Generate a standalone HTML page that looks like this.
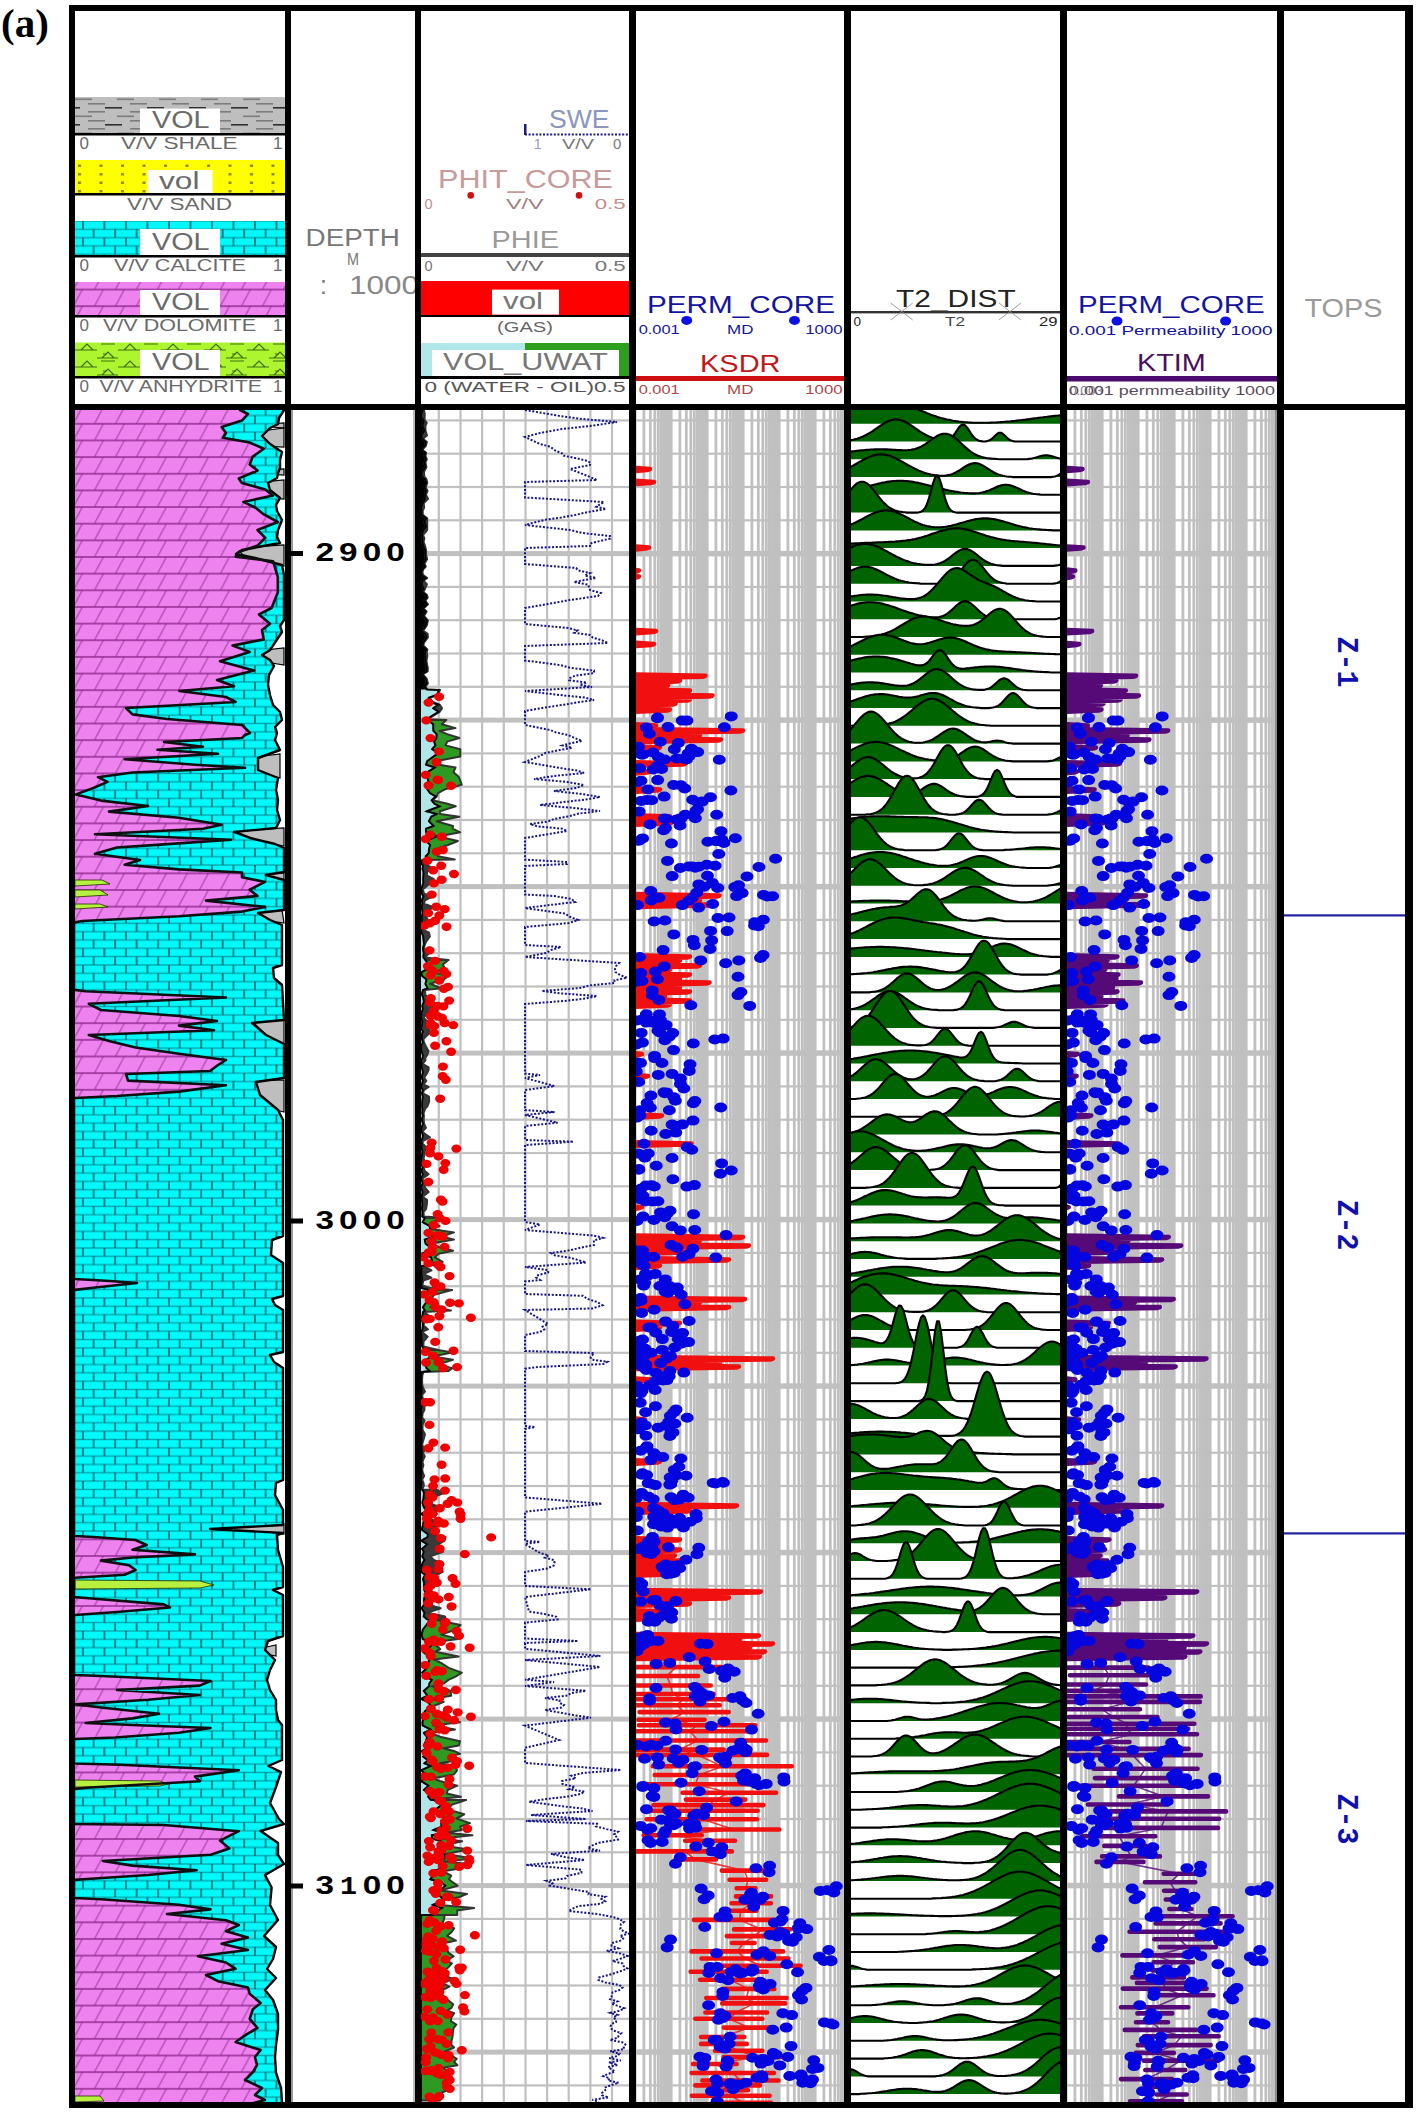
<!DOCTYPE html><html><head><meta charset="utf-8"><style>html,body{margin:0;padding:0;background:#fff;overflow:hidden}svg{display:block}</style></head><body>
<svg width="1419" height="2112" viewBox="0 0 1419 2112" shape-rendering="auto">
<defs>
<pattern id="dolo" patternUnits="userSpaceOnUse" x="73.4" y="423.8" width="21" height="16.65"><rect width="21" height="16.65" fill="#EE82EE"/><rect y="-0.9" width="21" height="1.8" fill="#A23AA2"/><rect y="15.75" width="21" height="1.8" fill="#A23AA2"/><line x1="0" y1="16.65" x2="9" y2="0" stroke="#7A207A" stroke-width="0.8"/></pattern>
<pattern id="dolo2" patternUnits="userSpaceOnUse" x="73.4" y="272.9" width="21" height="16.65"><rect width="21" height="16.65" fill="#EE82EE"/><rect y="-0.9" width="21" height="1.8" fill="#A23AA2"/><rect y="15.75" width="21" height="1.8" fill="#A23AA2"/><line x1="0" y1="16.65" x2="9" y2="0" stroke="#7A207A" stroke-width="0.8"/></pattern>
<pattern id="calc" patternUnits="userSpaceOnUse" x="61.4" y="415.5" width="21.5" height="16.65"><rect width="21.5" height="16.65" fill="#00FAFA"/><rect y="-0.7" width="21.5" height="1.4" fill="#00A8B0"/><rect y="7.6" width="21.5" height="1.4" fill="#00A8B0"/><rect y="15.95" width="21.5" height="1.4" fill="#00A8B0"/><rect x="-0.7" y="0" width="1.5" height="8.3" fill="#005A60"/><rect x="20.8" y="0" width="1.5" height="8.3" fill="#005A60"/><rect x="10" y="8.3" width="1.5" height="8.3" fill="#005A60"/></pattern>
<pattern id="calc2" patternUnits="userSpaceOnUse" x="61.4" y="221" width="21.5" height="16.65"><rect width="21.5" height="16.65" fill="#00FAFA"/><rect y="-0.7" width="21.5" height="1.4" fill="#00A8B0"/><rect y="7.6" width="21.5" height="1.4" fill="#00A8B0"/><rect y="15.95" width="21.5" height="1.4" fill="#00A8B0"/><rect x="-0.7" y="0" width="1.5" height="8.3" fill="#005A60"/><rect x="20.8" y="0" width="1.5" height="8.3" fill="#005A60"/><rect x="10" y="8.3" width="1.5" height="8.3" fill="#005A60"/></pattern>
<pattern id="shale" patternUnits="userSpaceOnUse" x="75" y="97" width="42" height="17"><rect width="42" height="17" fill="#BEBEBE"/><rect x="0" y="1" width="17" height="1.6" fill="#808080"/><rect x="21" y="9.5" width="17" height="1.6" fill="#303030"/></pattern>
<pattern id="shale2" patternUnits="userSpaceOnUse" x="75" y="97" width="42" height="17"><rect width="42" height="17" fill="#BEBEBE"/><rect x="0" y="1.5" width="17" height="1.6" fill="#7C7C7C"/><rect x="13" y="6" width="17" height="1.6" fill="#7C7C7C"/><rect x="-12" y="10" width="17" height="1.6" fill="#303030"/><rect x="30" y="10" width="17" height="1.6" fill="#303030"/><rect x="13" y="14" width="17" height="1.6" fill="#7C7C7C"/></pattern>
<pattern id="sand" patternUnits="userSpaceOnUse" x="75" y="160" width="21.5" height="17"><rect width="21.5" height="17" fill="#FFFF00"/><rect x="3" y="4.5" width="3" height="2.5" fill="#8A8A10"/><rect x="3" y="13" width="3" height="2.5" fill="#8A8A10"/></pattern>
<pattern id="anhy" patternUnits="userSpaceOnUse" x="75" y="342" width="43" height="17"><rect width="43" height="17" fill="#ADF52F"/><path d="M6,8 L12,2 L18,8 M0,8 L22,8 M26,2 L40,2 M28,12 L32,12" stroke="#3E6E10" stroke-width="1.2" fill="none"/><path d="M27,16 L33,10 L39,16 M22,16 L43,16" stroke="#3E6E10" stroke-width="1.2" fill="none"/></pattern>
<clipPath id="cl1"><rect x="75" y="410" width="210" height="1692"/></clipPath>
<clipPath id="cl3"><rect x="421" y="410" width="208" height="1692"/></clipPath>
<clipPath id="cl4"><rect x="636" y="410" width="208" height="1692"/></clipPath>
<clipPath id="cl5"><rect x="851" y="410" width="209" height="1692"/></clipPath>
<clipPath id="cl6"><rect x="1067" y="410" width="210" height="1692"/></clipPath>
</defs>
<rect width="1419" height="2112" fill="#fff"/>
<text x="1" y="37" font-family="'Liberation Serif', serif" font-size="41" fill="#000" font-weight="bold">(a)</text>
<g clip-path="url(#cl1)">
<polygon points="270,424 284,423 284,428 272,427" fill="#BEBEBE" stroke="#000" stroke-width="1.2"/>
<polygon points="255,432 284,428 284,447 262,446" fill="#BEBEBE" stroke="#000" stroke-width="1.2"/>
<polygon points="262,470 284,469 284,475 266,474" fill="#BEBEBE" stroke="#000" stroke-width="1.2"/>
<polygon points="252,483 284,480 284,499 258,497" fill="#BEBEBE" stroke="#000" stroke-width="1.2"/>
<polygon points="236,548 284,545 284,566 250,562" fill="#BEBEBE" stroke="#000" stroke-width="1.2"/>
<polygon points="262,592 284,590 284,598 268,597" fill="#BEBEBE" stroke="#000" stroke-width="1.2"/>
<polygon points="256,651 284,648 284,665 266,662" fill="#BEBEBE" stroke="#000" stroke-width="1.2"/>
<polygon points="256,757 280,754 280,778 258,772" fill="#BEBEBE" stroke="#000" stroke-width="1.2"/>
<polygon points="234,831 284,828 284,846 262,842" fill="#BEBEBE" stroke="#000" stroke-width="1.2"/>
<polygon points="266,874 284,873 284,880 270,879" fill="#BEBEBE" stroke="#000" stroke-width="1.2"/>
<polygon points="258,912 282,910 284,923 270,921" fill="#BEBEBE" stroke="#000" stroke-width="1.2"/>
<polygon points="252,1021 284,1018 284,1045 268,1037" fill="#BEBEBE" stroke="#000" stroke-width="1.2"/>
<polygon points="254,1081 284,1080 284,1112 276,1110 260,1096" fill="#BEBEBE" stroke="#000" stroke-width="1.2"/>
<polygon points="215,1528 284,1524 284,1534 230,1531" fill="#BEBEBE" stroke="#000" stroke-width="1.2"/>
<polygon points="262,1648 276,1645 276,1656 265,1654" fill="#BEBEBE" stroke="#000" stroke-width="1.2"/>
<polygon points="70,408 284,408 284,410 279,418 278,424 270,428 262,436 270,444 282,452 280,460 280,468 278,473 277,478 268,483 270,490 280,498 276,505 277,511 282,520 278,530 277,537 280,543 242,550 236,554 255,558 282,565 284,575 284,620 280,626 282,632 270,650 262,655 270,660 274,666 269,675 268,685 270,695 273,705 280,712 282,720 275,727 277,733 275,740 280,750 258,758 258,770 278,778 276,790 278,800 277,810 280,820 276,828 234,832 250,838 275,844 284,848 284,872 266,875 284,880 284,910 258,913 270,920 282,925 282,965 273,968 274,978 282,985 284,1020 252,1023 266,1035 284,1044 284,1078 256,1082 260,1095 278,1110 283,1120 283,1236 272,1240 271,1255 283,1263 283,1296 272,1299 275,1305 283,1310 283,1352 270,1355 274,1362 283,1368 283,1480 276,1483 275,1495 283,1510 283,1525 210,1529 283,1533 277,1535 278,1550 283,1567 283,1587 273,1590 283,1595 283,1636 268,1641 265,1650 275,1660 270,1670 267,1680 270,1690 276,1700 276,1710 278,1720 282,1725 282,1760 268.4,1766 281,1772 276,1787 270,1803 279,1819 284,1824 260.6,1831 278,1843 278,1855 284,1864 265,1875 271.6,1887.5 270,1905 278,1920 264,1936 276,1947 273,1959 267,1969 276,1978 265,1990 273,2000 278,2014 278,2030 276,2045 275,2057 276,2073 281,2088 282,2102 282,2104 70,2104" fill="url(#calc)"/>
<polygon points="70,408 240,408 240,410 248,414 242,420.6 221.6,426.9 226,433 223,437.8 249.7,442.5 263.8,448.8 252.8,456.6 249.7,464.4 257.5,470.6 238.8,478.4 241.9,483 265.3,489.4 273,495.6 243.4,501.9 256,508 263.8,514.4 277.8,522 257.5,530 265.3,537.8 257.5,545.6 238.8,551.9 235.6,556.6 273,561.2 277.8,576.9 277.8,592.5 271.6,608 259,614.4 270,623.8 262,630 263.8,639.4 232.5,645.6 249.7,651.9 220,661.2 254,670.6 217,680 234,686.2 179.4,691 226,697 235.6,702 126,708 132.5,714.4 167,719 242,725 250,733 245,735 242,738 164,742 203,746.7 157.5,749.8 218,753.8 124.7,759.2 195,764.7 245,767.8 132.5,772.5 98,777.2 107.5,781.9 93.4,788 76,794.4 101,800.6 148,806 109,811.6 179,817.8 221.6,824.8 203,828.8 95,834.2 231,839.7 163.8,844.4 117,847.5 95,853.8 140,860 124.7,864.7 179,869.4 242,872.5 242,877.2 265,881.9 249.7,889.7 257.5,896 206,900.6 265,906.9 242,911.6 179,916.2 82.5,921 74,922.5 74,989.7 85.6,991.2 226,997.5 88.8,1003.8 101,1010 179,1016 217,1021 179,1025.6 214,1030.3 88.8,1035 109,1041 135.6,1047.5 179,1053.8 226,1060 218,1065 210,1071 126,1074 128,1080.6 226,1085.3 179,1091.6 117,1096 74,1098 74,1279 110,1281 137,1283 100,1287 74,1290 74,1536 93.4,1537 135.6,1540 146.6,1545 132.5,1549.7 195,1554.4 132.5,1557.5 101,1560.6 129,1565.3 135.6,1570 124.7,1574.7 74,1577.8 74,1597 85.6,1598 163.8,1604.4 170,1607.5 117,1612 74,1615 74,1675 101,1676 210.6,1681 199.7,1685.6 117,1690 199.7,1695 148,1699.7 76,1704.4 101,1707.5 159,1713.8 132.5,1718.4 85.6,1723 132.5,1725 210.6,1728 179,1732.8 115,1737.5 74,1739 74,1763.5 120,1764.8 238.8,1770.3 195,1776.6 200,1781.2 90,1787.5 74,1789 74,1824 163.8,1825 238.8,1831.2 220,1840.6 229.4,1848.4 210.6,1854.7 102.8,1861 132.5,1865.6 196.6,1870.3 148,1875 87,1879 74,1880 74,1898 101,1899.2 179,1904.7 210.6,1909.4 167,1914 226,1920.3 238.8,1925 226,1931.2 248,1937.5 221.6,1943.8 248,1950 198,1956.2 226,1962.5 235.6,1968.8 206,1975 218,1981.2 248,1987.5 249.7,1993.8 260.6,2003 252.8,2009.4 249.7,2018.8 257.5,2028 246.6,2034.4 235.6,2042 260.6,2050 255,2057 257,2065 253,2072 245,2080 262,2088 255,2095 265,2100 250,2104 250,2104 70,2104" fill="url(#dolo)"/>
<polygon points="75,880 102,880 110,884 75,886" fill="#B8F040" stroke="#203000" stroke-width="0.8"/>
<polygon points="75,890 100,890 108,895 75,897" fill="#B8F040" stroke="#203000" stroke-width="0.8"/>
<polygon points="75,904 100,904 108,907 75,909" fill="#B8F040" stroke="#203000" stroke-width="0.8"/>
<polygon points="75,1580 200,1581 214,1585 200,1588 75,1589" fill="#B8F040" stroke="#203000" stroke-width="0.8"/>
<polygon points="75,1780 160,1781 168,1784 160,1786 75,1787" fill="#B8F040" stroke="#203000" stroke-width="0.8"/>
<polygon points="75,2096 100,2096 104,2101 75,2102" fill="#B8F040" stroke="#203000" stroke-width="0.8"/>
<polyline points="284,408 284,410 279,418 278,424 270,428 262,436 270,444 282,452 280,460 280,468 278,473 277,478 268,483 270,490 280,498 276,505 277,511 282,520 278,530 277,537 280,543 242,550 236,554 255,558 282,565 284,575 284,620 280,626 282,632 270,650 262,655 270,660 274,666 269,675 268,685 270,695 273,705 280,712 282,720 275,727 277,733 275,740 280,750 258,758 258,770 278,778 276,790 278,800 277,810 280,820 276,828 234,832 250,838 275,844 284,848 284,872 266,875 284,880 284,910 258,913 270,920 282,925 282,965 273,968 274,978 282,985 284,1020 252,1023 266,1035 284,1044 284,1078 256,1082 260,1095 278,1110 283,1120 283,1236 272,1240 271,1255 283,1263 283,1296 272,1299 275,1305 283,1310 283,1352 270,1355 274,1362 283,1368 283,1480 276,1483 275,1495 283,1510 283,1525 210,1529 283,1533 277,1535 278,1550 283,1567 283,1587 273,1590 283,1595 283,1636 268,1641 265,1650 275,1660 270,1670 267,1680 270,1690 276,1700 276,1710 278,1720 282,1725 282,1760 268.4,1766 281,1772 276,1787 270,1803 279,1819 284,1824 260.6,1831 278,1843 278,1855 284,1864 265,1875 271.6,1887.5 270,1905 278,1920 264,1936 276,1947 273,1959 267,1969 276,1978 265,1990 273,2000 278,2014 278,2030 276,2045 275,2057 276,2073 281,2088 282,2102 282,2104" fill="none" stroke="#000" stroke-width="2.4" stroke-linejoin="round"/>
<polyline points="240,408 240,410 248,414 242,420.6 221.6,426.9 226,433 223,437.8 249.7,442.5 263.8,448.8 252.8,456.6 249.7,464.4 257.5,470.6 238.8,478.4 241.9,483 265.3,489.4 273,495.6 243.4,501.9 256,508 263.8,514.4 277.8,522 257.5,530 265.3,537.8 257.5,545.6 238.8,551.9 235.6,556.6 273,561.2 277.8,576.9 277.8,592.5 271.6,608 259,614.4 270,623.8 262,630 263.8,639.4 232.5,645.6 249.7,651.9 220,661.2 254,670.6 217,680 234,686.2 179.4,691 226,697 235.6,702 126,708 132.5,714.4 167,719 242,725 250,733 245,735 242,738 164,742 203,746.7 157.5,749.8 218,753.8 124.7,759.2 195,764.7 245,767.8 132.5,772.5 98,777.2 107.5,781.9 93.4,788 76,794.4 101,800.6 148,806 109,811.6 179,817.8 221.6,824.8 203,828.8 95,834.2 231,839.7 163.8,844.4 117,847.5 95,853.8 140,860 124.7,864.7 179,869.4 242,872.5 242,877.2 265,881.9 249.7,889.7 257.5,896 206,900.6 265,906.9 242,911.6 179,916.2 82.5,921 74,922.5 74,989.7 85.6,991.2 226,997.5 88.8,1003.8 101,1010 179,1016 217,1021 179,1025.6 214,1030.3 88.8,1035 109,1041 135.6,1047.5 179,1053.8 226,1060 218,1065 210,1071 126,1074 128,1080.6 226,1085.3 179,1091.6 117,1096 74,1098 74,1279 110,1281 137,1283 100,1287 74,1290 74,1536 93.4,1537 135.6,1540 146.6,1545 132.5,1549.7 195,1554.4 132.5,1557.5 101,1560.6 129,1565.3 135.6,1570 124.7,1574.7 74,1577.8 74,1597 85.6,1598 163.8,1604.4 170,1607.5 117,1612 74,1615 74,1675 101,1676 210.6,1681 199.7,1685.6 117,1690 199.7,1695 148,1699.7 76,1704.4 101,1707.5 159,1713.8 132.5,1718.4 85.6,1723 132.5,1725 210.6,1728 179,1732.8 115,1737.5 74,1739 74,1763.5 120,1764.8 238.8,1770.3 195,1776.6 200,1781.2 90,1787.5 74,1789 74,1824 163.8,1825 238.8,1831.2 220,1840.6 229.4,1848.4 210.6,1854.7 102.8,1861 132.5,1865.6 196.6,1870.3 148,1875 87,1879 74,1880 74,1898 101,1899.2 179,1904.7 210.6,1909.4 167,1914 226,1920.3 238.8,1925 226,1931.2 248,1937.5 221.6,1943.8 248,1950 198,1956.2 226,1962.5 235.6,1968.8 206,1975 218,1981.2 248,1987.5 249.7,1993.8 260.6,2003 252.8,2009.4 249.7,2018.8 257.5,2028 246.6,2034.4 235.6,2042 260.6,2050 255,2057 257,2065 253,2072 245,2080 262,2088 255,2095 265,2100 250,2104 250,2104" fill="none" stroke="#101010" stroke-width="2.6" stroke-linejoin="round"/>
</g>
<rect x="291" y="410" width="2" height="1692" fill="#9a9a9a"/>
<rect x="413" y="410" width="2" height="1692" fill="#bdbdbd"/>
<rect x="291" y="551" width="12" height="5" fill="#000"/>
<text x="315.5" y="561" font-family="'Liberation Sans', sans-serif" font-size="25" fill="#000" font-weight="bold" textLength="18.5" lengthAdjust="spacingAndGlyphs">2</text>
<text x="339.1" y="561" font-family="'Liberation Sans', sans-serif" font-size="25" fill="#000" font-weight="bold" textLength="18.5" lengthAdjust="spacingAndGlyphs">9</text>
<text x="362.7" y="561" font-family="'Liberation Sans', sans-serif" font-size="25" fill="#000" font-weight="bold" textLength="18.5" lengthAdjust="spacingAndGlyphs">0</text>
<text x="386.3" y="561" font-family="'Liberation Sans', sans-serif" font-size="25" fill="#000" font-weight="bold" textLength="18.5" lengthAdjust="spacingAndGlyphs">0</text>
<rect x="291" y="1218.5" width="12" height="5" fill="#000"/>
<text x="315.5" y="1228.5" font-family="'Liberation Sans', sans-serif" font-size="25" fill="#000" font-weight="bold" textLength="18.5" lengthAdjust="spacingAndGlyphs">3</text>
<text x="339.1" y="1228.5" font-family="'Liberation Sans', sans-serif" font-size="25" fill="#000" font-weight="bold" textLength="18.5" lengthAdjust="spacingAndGlyphs">0</text>
<text x="362.7" y="1228.5" font-family="'Liberation Sans', sans-serif" font-size="25" fill="#000" font-weight="bold" textLength="18.5" lengthAdjust="spacingAndGlyphs">0</text>
<text x="386.3" y="1228.5" font-family="'Liberation Sans', sans-serif" font-size="25" fill="#000" font-weight="bold" textLength="18.5" lengthAdjust="spacingAndGlyphs">0</text>
<rect x="291" y="1883.5" width="12" height="5" fill="#000"/>
<text x="315.5" y="1893.5" font-family="'Liberation Sans', sans-serif" font-size="25" fill="#000" font-weight="bold" textLength="18.5" lengthAdjust="spacingAndGlyphs">3</text>
<text x="340.1" y="1893.5" font-family="'Liberation Mono', monospace" font-size="25" fill="#000" font-weight="bold" textLength="17" lengthAdjust="spacingAndGlyphs">1</text>
<text x="362.7" y="1893.5" font-family="'Liberation Sans', sans-serif" font-size="25" fill="#000" font-weight="bold" textLength="18.5" lengthAdjust="spacingAndGlyphs">0</text>
<text x="386.3" y="1893.5" font-family="'Liberation Sans', sans-serif" font-size="25" fill="#000" font-weight="bold" textLength="18.5" lengthAdjust="spacingAndGlyphs">0</text>
<g clip-path="url(#cl3)">
<rect x="437.7" y="410" width="2.2" height="1692" fill="#C0C0C0"/>
<rect x="459.4" y="410" width="2.2" height="1692" fill="#C0C0C0"/>
<rect x="481" y="410" width="2.2" height="1692" fill="#C0C0C0"/>
<rect x="502.7" y="410" width="2.2" height="1692" fill="#C0C0C0"/>
<rect x="524.4" y="410" width="2.2" height="1692" fill="#C0C0C0"/>
<rect x="546" y="410" width="2.2" height="1692" fill="#C0C0C0"/>
<rect x="567.6" y="410" width="2.2" height="1692" fill="#C0C0C0"/>
<rect x="589.3" y="410" width="2.2" height="1692" fill="#C0C0C0"/>
<rect x="610.9" y="410" width="2.2" height="1692" fill="#C0C0C0"/>
<rect x="417" y="419.3" width="215" height="2.2" fill="#C0C0C0"/>
<rect x="417" y="452.6" width="215" height="2.2" fill="#C0C0C0"/>
<rect x="417" y="485.9" width="215" height="2.2" fill="#C0C0C0"/>
<rect x="417" y="519.2" width="215" height="2.2" fill="#C0C0C0"/>
<rect x="417" y="551.1" width="215" height="5" fill="#C0C0C0"/>
<rect x="417" y="585.8" width="215" height="2.2" fill="#C0C0C0"/>
<rect x="417" y="619.1" width="215" height="2.2" fill="#C0C0C0"/>
<rect x="417" y="652.4" width="215" height="2.2" fill="#C0C0C0"/>
<rect x="417" y="685.7" width="215" height="2.2" fill="#C0C0C0"/>
<rect x="417" y="717.6" width="215" height="5" fill="#C0C0C0"/>
<rect x="417" y="752.3" width="215" height="2.2" fill="#C0C0C0"/>
<rect x="417" y="785.6" width="215" height="2.2" fill="#C0C0C0"/>
<rect x="417" y="818.9" width="215" height="2.2" fill="#C0C0C0"/>
<rect x="417" y="852.2" width="215" height="2.2" fill="#C0C0C0"/>
<rect x="417" y="884.1" width="215" height="5" fill="#C0C0C0"/>
<rect x="417" y="918.8" width="215" height="2.2" fill="#C0C0C0"/>
<rect x="417" y="952.1" width="215" height="2.2" fill="#C0C0C0"/>
<rect x="417" y="985.4" width="215" height="2.2" fill="#C0C0C0"/>
<rect x="417" y="1018.7" width="215" height="2.2" fill="#C0C0C0"/>
<rect x="417" y="1050.6" width="215" height="5" fill="#C0C0C0"/>
<rect x="417" y="1085.3" width="215" height="2.2" fill="#C0C0C0"/>
<rect x="417" y="1118.6" width="215" height="2.2" fill="#C0C0C0"/>
<rect x="417" y="1151.9" width="215" height="2.2" fill="#C0C0C0"/>
<rect x="417" y="1185.2" width="215" height="2.2" fill="#C0C0C0"/>
<rect x="417" y="1217.1" width="215" height="5" fill="#C0C0C0"/>
<rect x="417" y="1251.8" width="215" height="2.2" fill="#C0C0C0"/>
<rect x="417" y="1285.1" width="215" height="2.2" fill="#C0C0C0"/>
<rect x="417" y="1318.4" width="215" height="2.2" fill="#C0C0C0"/>
<rect x="417" y="1351.7" width="215" height="2.2" fill="#C0C0C0"/>
<rect x="417" y="1383.6" width="215" height="5" fill="#C0C0C0"/>
<rect x="417" y="1418.3" width="215" height="2.2" fill="#C0C0C0"/>
<rect x="417" y="1451.6" width="215" height="2.2" fill="#C0C0C0"/>
<rect x="417" y="1484.9" width="215" height="2.2" fill="#C0C0C0"/>
<rect x="417" y="1518.2" width="215" height="2.2" fill="#C0C0C0"/>
<rect x="417" y="1550.1" width="215" height="5" fill="#C0C0C0"/>
<rect x="417" y="1584.8" width="215" height="2.2" fill="#C0C0C0"/>
<rect x="417" y="1618.1" width="215" height="2.2" fill="#C0C0C0"/>
<rect x="417" y="1651.4" width="215" height="2.2" fill="#C0C0C0"/>
<rect x="417" y="1684.7" width="215" height="2.2" fill="#C0C0C0"/>
<rect x="417" y="1716.6" width="215" height="5" fill="#C0C0C0"/>
<rect x="417" y="1751.3" width="215" height="2.2" fill="#C0C0C0"/>
<rect x="417" y="1784.6" width="215" height="2.2" fill="#C0C0C0"/>
<rect x="417" y="1817.9" width="215" height="2.2" fill="#C0C0C0"/>
<rect x="417" y="1851.2" width="215" height="2.2" fill="#C0C0C0"/>
<rect x="417" y="1883.1" width="215" height="5" fill="#C0C0C0"/>
<rect x="417" y="1917.8" width="215" height="2.2" fill="#C0C0C0"/>
<rect x="417" y="1951.1" width="215" height="2.2" fill="#C0C0C0"/>
<rect x="417" y="1984.4" width="215" height="2.2" fill="#C0C0C0"/>
<rect x="417" y="2017.7" width="215" height="2.2" fill="#C0C0C0"/>
<rect x="417" y="2049.6" width="215" height="5" fill="#C0C0C0"/>
<rect x="417" y="2084.3" width="215" height="2.2" fill="#C0C0C0"/>
<polygon points="419,408 423.4,410 421.9,414.1 421.8,417.5 424.1,420.1 424,422.9 422.8,425.7 425,430.5 421.8,435.5 422.4,438.7 426.4,442 425.3,445.9 421.9,449.8 425.6,452.8 425,456.1 426.3,459.3 424.9,462.5 425.9,467.1 422.2,472.1 422.4,476.5 425.5,479.1 426.8,483 425.1,487.3 426.5,490.9 425.5,494.6 425.4,498.8 423.2,503.4 421.6,507.6 422.2,510.5 422.3,514.9 426.7,518.4 424.8,522 426.7,526.6 423.7,530.1 422.4,535 422.9,538.1 423.1,542 423.7,545.6 425.6,550.5 425.6,554.5 426.2,559.3 423.9,563.8 425.3,566.5 422.8,569.2 421.8,572.5 422.1,575.4 426.7,578 423,580.8 422.2,584.3 424.3,589.2 422.1,592 426.5,595.1 427.2,597.7 424.8,600.5 427.4,604.4 423.1,608.6 426.1,611.5 423.5,616 427.4,620.5 426.4,625 424.6,628.1 421.7,630.7 425.7,633.8 427.1,637.4 423.7,642.3 422.7,645.4 426.9,649.4 425.4,653.1 425.5,655.8 426,660.3 426.2,663.2 427.3,667.7 427.2,671.3 422.3,674.2 426.3,678.9 427.4,683.5 424.8,686.9 427.3,689.4 439.4,690 419,690" fill="#000"/>
<polygon points="421,689.4 426.8,689.4 438.9,690 437.2,694.7 428.7,697.8 428.1,701.8 438.6,704.6 433.3,708.2 438.7,711.8 432.4,715.6 426.9,719.2 427.6,720 433.3,724.3 433.3,728.1 433.4,730.9 436.6,734.1 436.4,738 434.2,741.6 435.4,745.4 432.2,749.2 438.1,753.4 433.4,756.6 427.1,761.2 426.1,764.8 435,767.5 427.3,772.2 427.1,776.4 428.3,781.3 432.3,784.8 427.4,789.4 430.1,793.2 435.8,796.5 431.6,800.3 434.4,803.7 439.8,806.3 426.6,811.3 436.7,813.9 431.3,816.7 428.9,821.2 433.6,826 425.9,828.7 426.1,832.3 437,836.4 426,841 430.1,844.7 429,849.5 428.6,853.3 425.8,856.2 429.6,859.5 422.5,860 421.1,863.4 423.2,865.9 422.4,868.9 423.5,871.6 423.5,875.4 423.1,879.1 423.5,882.5 422.2,886.6 421.4,889.2 421.8,893.6 423.5,896.3 421.8,900.5 422.4,903.7 421.8,907.3 422.6,912.3 421.9,917.2 422.1,919.7 421.6,923.4 421.8,925.9 421.1,929.4 421.7,932.7 423.3,936.5 423.6,940.8 424,944.1 422.9,948.4 423.7,953 423.4,957.4 425.5,960 428.4,964.5 427.1,969.2 421.3,972.3 421.9,975.7 426.6,979.6 425.4,983.8 427.7,988.3 423,990 421.8,994.3 423.2,997.5 423.9,1001.9 422.4,1005.3 422.9,1009.7 421.4,1012.4 421.6,1015 421.1,1017.5 422.4,1021.7 422,1024.9 421.2,1028.6 423,1031.6 421.9,1034.1 421.9,1039.1 422.9,1042.1 421.3,1046 421.3,1050.9 422.8,1054.7 422.8,1057.8 421,1060.3 421.6,1064 421.6,1067.3 422.5,1069.8 422.9,1072.6 421.6,1077.4 423,1080.9 421.9,1084.3 421.2,1086.9 422.9,1090.1 422,1093.3 422.9,1096.7 422.3,1101.2 422.1,1106.1 422.5,1108.7 422.3,1113.1 422.9,1115.7 421.7,1119.4 423,1123.7 421.6,1127.9 421.3,1131.4 422.8,1134.4 422.8,1137.4 421.3,1141.1 421.7,1143.8 421.5,1146.9 422.5,1151.6 422,1155.1 421.1,1158.5 421.3,1163.4 422.7,1167.5 421.5,1170.7 422.9,1174.3 421,1178.9 422.8,1183.2 421,1187.2 422.7,1192 421.5,1196.9 422,1199.8 422.4,1204.7 421.9,1209.1 422.6,1211.7 422.3,1216.5 424.8,1218 422.7,1222.2 429.7,1226.1 430,1229.1 427.9,1232.4 434.3,1236.5 424.7,1239.6 425.6,1243.8 431.1,1247.6 431,1250.7 421.5,1253.8 431.2,1257.3 432.1,1261.8 435.5,1264.8 421.5,1266 421.6,1270.4 421.4,1274.1 422.3,1277.7 421.8,1280.5 421.3,1285.5 421.8,1288.1 429.1,1290 424.6,1294.8 429.2,1299.7 425.2,1303.8 422.9,1307.2 424.9,1310.4 422.9,1312 422.6,1315.4 421.1,1319 422.8,1322.4 422.8,1325.8 422.6,1329.3 421.1,1331.9 421.5,1336.7 421.7,1341.5 422.2,1346.4 424.5,1350 429.3,1352.5 431.4,1356.6 426.2,1359.7 425.3,1364.6 426.4,1368.1 429.8,1371.1 421.8,1372 421.3,1375.3 421.1,1379.8 421.2,1384.2 421.6,1386.7 421.9,1391.7 421.1,1394.9 421.7,1398.6 421.4,1401.7 421.7,1405.9 421.1,1410 421.6,1413.3 421.2,1417.6 421.2,1420.7 421.3,1424.7 421.5,1429.7 421.7,1434.2 421.5,1436.9 421.9,1441.5 421.1,1444.8 421.6,1449.7 421.9,1453.1 421.8,1456.3 421.6,1459 421.4,1462.1 421.3,1465.1 421.2,1469.2 421.7,1472.5 421.2,1475.8 421.1,1479.7 421.6,1483.2 421.2,1485.9 421.3,1489.4 423.2,1490 423.9,1493.4 423.5,1498.4 422.4,1502.7 424,1507.5 427.2,1511 421.1,1513.9 427.4,1518 423.6,1522 423,1524.9 421.8,1529.7 427.8,1534.2 427.6,1537 421.4,1540.8 427.3,1544.2 422.1,1548.8 423.8,1551.8 422.3,1556.4 424.6,1559.9 422.7,1562.7 421.3,1567.5 421.3,1571.9 425.2,1574.6 423.1,1578.7 424,1582.7 424.1,1586.3 424.4,1590.3 426.5,1594.7 424.3,1597.7 424,1600.5 424.6,1604.1 421.6,1608.2 424.6,1612.7 423.6,1616.4 427,1619.3 430,1620 426.4,1625 422.8,1629.7 421.7,1634.6 422.7,1639 430,1642.1 431.1,1645.9 426.6,1649.1 423,1651.7 428.5,1656.5 429.6,1659.4 428,1663.2 427.1,1667.9 422.2,1672.6 425.3,1676.7 431.9,1679.9 429.4,1683.3 429.2,1686.2 423.8,1690.8 427.4,1695.7 421,1699 427.8,1701.9 430.9,1705.7 428.2,1708.7 424.9,1711.2 423.5,1714.6 423.2,1718.6 422.5,1722.3 422.6,1725.4 430.6,1729.5 423.9,1733 427.2,1737.1 425.9,1741.2 423.7,1745.6 426.8,1748.2 421.6,1751.3 427.1,1753.8 423.2,1756.6 428.1,1760.4 424.4,1763.3 430.8,1766 421.1,1770.3 426.1,1774.6 423.5,1778.3 421.4,1781.3 428.6,1785.7 423.9,1790 429.7,1793.6 428.1,1796.7 430.7,1799.8 433.8,1800 441.9,1804.9 435.3,1809.6 440.1,1814.3 445.7,1818.5 441.2,1823.1 441.6,1826.7 433.4,1830 444.6,1832.7 431.7,1835.2 432.3,1838.6 441.1,1841.2 441.8,1845.4 435.8,1849.4 444.3,1854 444.6,1858.6 433.3,1861.4 443.6,1864 443.2,1868.1 431.6,1871.3 433.3,1875.7 430.3,1879.2 441.5,1882.4 445.4,1885.7 439.9,1890.4 437,1893.9 441.3,1897.3 443.8,1900.3 432.7,1904.9 442.2,1907.9 437.9,1910.4 433,1914.9 421,1915 421,1919.9 421,1924.1 421,1928.2 421,1932.4 421,1935.8 421,1940.6 421,1943.1 421,1947.9 421,1952.6 421,1956.4 421,1960.5 421,1963.4 421,1967.8 421,1972.2 421,1975.9 421,1978.8 421,1983.4 421,1986.6 421,1989.5 421,1994.4 421,1999.3 421,2004.3 421,2007.9 421,2010.6 421,2013.2 421,2017.4 421,2021.1 421,2024.6 421,2028.2 421,2031.7 421,2036.4 421,2041.1 421,2044.7 421,2047.5 421,2051.7 421,2055.3 421,2058.8 421,2061.8 421,2065.2 421,2067.8 421,2072.3 421,2075.1 421,2079.3 421,2083.9 421,2088.8 421,2092.3 421,2097.2 421,2100.4 421,2104 421,2104" fill="#B0E6EA"/>
<polygon points="422.9,410 421.4,414.1 421.3,417.5 423.6,420.1 423.5,422.9 422.3,425.7 424.5,430.5 421.3,435.5 421.9,438.7 425.9,442 424.8,445.9 421.4,449.8 425.1,452.8 424.5,456.1 425.8,459.3 424.4,462.5 425.4,467.1 421.7,472.1 421.9,476.5 425,479.1 426.3,483 424.6,487.3 426,490.9 425,494.6 424.9,498.8 422.7,503.4 421.1,507.6 421.7,510.5 421.8,514.9 426.2,518.4 424.3,522 426.2,526.6 423.2,530.1 421.9,535 422.4,538.1 422.6,542 423.2,545.6 425.1,550.5 425.1,554.5 425.7,559.3 423.4,563.8 424.8,566.5 422.3,569.2 421.3,572.5 421.6,575.4 426.2,578 422.5,580.8 421.7,584.3 423.8,589.2 421.6,592 426,595.1 426.7,597.7 424.3,600.5 426.9,604.4 422.6,608.6 425.6,611.5 423,616 426.9,620.5 425.9,625 424.1,628.1 421.2,630.7 425.2,633.8 426.6,637.4 423.2,642.3 422.2,645.4 426.4,649.4 424.9,653.1 425,655.8 425.5,660.3 425.7,663.2 426.8,667.7 426.7,671.3 421.8,674.2 425.8,678.9 426.9,683.5 424.3,686.9 426.8,689.4 438.9,690 439.9,690 427.8,689.4 425.3,686.9 427.9,683.5 426.8,678.9 422.8,674.2 427.7,671.3 427.8,667.7 426.7,663.2 426.5,660.3 427.4,655.8 426.6,653.1 427.4,649.4 423.2,645.4 424.2,642.3 427.9,637.4 427.7,633.8 423,630.7 425.1,628.1 426.9,625 427.9,620.5 424,616 426.6,611.5 423.6,608.6 427.9,604.4 425.3,600.5 427.7,597.7 427,595.1 423.4,592 424.8,589.2 426.9,584.3 423.5,580.8 427.2,578 423.5,575.4 422.3,572.5 423.3,569.2 425.8,566.5 424.4,563.8 427.1,559.3 426.1,554.5 426.1,550.5 425,545.6 423.6,542 424.4,538.1 422.9,535 427.2,530.1 427.2,526.6 427.2,522 427.2,518.4 422.8,514.9 422.7,510.5 424.2,507.6 423.7,503.4 428,498.8 426,494.6 427.6,490.9 425.6,487.3 427.3,483 426.4,479.1 424.4,476.5 423.9,472.1 426.4,467.1 425.4,462.5 426.8,459.3 425.5,456.1 426.1,452.8 422.4,449.8 425.8,445.9 426.9,442 422.9,438.7 427,435.5 425.5,430.5 425.4,425.7 426.8,422.9 424.6,420.1 424.6,417.5 424.8,414.1 423.9,410" fill="#3A3A3A" stroke="#333" stroke-width="2" stroke-linejoin="round"/>
<polygon points="438.9,690 437.2,694.7 428.7,697.8 428.1,701.8 438.6,704.6 433.3,708.2 438.7,711.8 432.4,715.6 426.9,719.2 427.6,720 446.2,720 427.9,719.2 433.4,715.6 439.7,711.8 442.1,708.2 439.6,704.6 432.4,701.8 429.7,697.8 438.2,694.7 439.9,690" fill="#3A3A3A" stroke="#333" stroke-width="2" stroke-linejoin="round"/>
<polygon points="427.6,720 433.3,724.3 433.3,728.1 433.4,730.9 436.6,734.1 436.4,738 434.2,741.6 435.4,745.4 432.2,749.2 438.1,753.4 433.4,756.6 427.1,761.2 426.1,764.8 435,767.5 427.3,772.2 427.1,776.4 428.3,781.3 432.3,784.8 427.4,789.4 430.1,793.2 435.8,796.5 431.6,800.3 434.4,803.7 439.8,806.3 426.6,811.3 436.7,813.9 431.3,816.7 428.9,821.2 433.6,826 425.9,828.7 426.1,832.3 437,836.4 426,841 430.1,844.7 429,849.5 428.6,853.3 425.8,856.2 429.6,859.5 422.5,860 424.1,860 454.8,859.5 438.1,856.2 435.3,853.3 435.9,849.5 448.6,844.7 457.9,841 438,836.4 460.2,832.3 452.6,828.7 453,826 436.5,821.2 459.3,816.7 440.1,813.9 440,811.3 455.7,806.3 447.4,803.7 432.6,800.3 436.8,796.5 437.9,793.2 444.9,789.4 461.7,784.8 460.6,781.3 458.5,776.4 453.5,772.2 455.5,767.5 439.2,764.8 435.6,761.2 460.3,756.6 460.3,753.4 460.2,749.2 445.6,745.4 447.2,741.6 459.4,738 447.2,734.1 439.5,730.9 455.5,728.1 441.8,724.3 446.2,720" fill="#2E9A22" stroke="#333" stroke-width="2" stroke-linejoin="round"/>
<polygon points="422.5,860 421.1,863.4 423.2,865.9 422.4,868.9 423.5,871.6 423.5,875.4 423.1,879.1 423.5,882.5 422.2,886.6 421.4,889.2 421.8,893.6 423.5,896.3 421.8,900.5 422.4,903.7 421.8,907.3 422.6,912.3 421.9,917.2 422.1,919.7 421.6,923.4 421.8,925.9 421.1,929.4 421.7,932.7 423.3,936.5 423.6,940.8 424,944.1 422.9,948.4 423.7,953 423.4,957.4 425.5,960 448.4,960 424.4,957.4 429.5,953 423.9,948.4 425,944.1 426.7,940.8 429.9,936.5 429,932.7 422.3,929.4 423.1,925.9 428.1,923.4 427.7,919.7 426.3,917.2 424.9,912.3 433.5,907.3 423.9,903.7 424.9,900.5 432.4,896.3 424,893.6 422.8,889.2 426.2,886.6 430.5,882.5 433.8,879.1 426.7,875.4 427.2,871.6 433.2,868.9 428.6,865.9 425,863.4 424.1,860" fill="#3A3A3A" stroke="#333" stroke-width="2" stroke-linejoin="round"/>
<polygon points="425.5,960 428.4,964.5 427.1,969.2 421.3,972.3 421.9,975.7 426.6,979.6 425.4,983.8 427.7,988.3 423,990 425.1,990 441.1,988.3 430.1,983.8 443.8,979.6 448.4,975.7 432.9,972.3 445.3,969.2 442.8,964.5 448.4,960" fill="#2E9A22" stroke="#333" stroke-width="2" stroke-linejoin="round"/>
<polygon points="423,990 421.8,994.3 423.2,997.5 423.9,1001.9 422.4,1005.3 422.9,1009.7 421.4,1012.4 421.6,1015 426.1,1015 428.1,1012.4 434.3,1009.7 434.9,1005.3 431.9,1001.9 427.3,997.5 425.2,994.3 425.1,990" fill="#3A3A3A" stroke="#333" stroke-width="2" stroke-linejoin="round"/>
<polygon points="421.6,1015 421.1,1017.5 422.4,1021.7 422,1024.9 421.2,1028.6 423,1031.6 421.9,1034.1 421.9,1039.1 422.9,1042.1 421.3,1046 421.3,1050.9 422.8,1054.7 422.8,1057.8 421,1060.3 421.6,1064 421.6,1067.3 422.5,1069.8 422.9,1072.6 421.6,1077.4 423,1080.9 421.9,1084.3 421.2,1086.9 422.9,1090.1 422,1093.3 422.9,1096.7 422.3,1101.2 422.1,1106.1 422.5,1108.7 422.3,1113.1 422.9,1115.7 421.7,1119.4 423,1123.7 421.6,1127.9 421.3,1131.4 422.8,1134.4 422.8,1137.4 421.3,1141.1 421.7,1143.8 421.5,1146.9 422.5,1151.6 422,1155.1 421.1,1158.5 421.3,1163.4 422.7,1167.5 421.5,1170.7 422.9,1174.3 421,1178.9 422.8,1183.2 421,1187.2 422.7,1192 421.5,1196.9 422,1199.8 422.4,1204.7 421.9,1209.1 422.6,1211.7 422.3,1216.5 424.8,1218 445.9,1218 423.7,1216.5 423.6,1211.7 426,1209.1 426.8,1204.7 427.1,1199.8 422.5,1196.9 428.7,1192 424.5,1187.2 425.3,1183.2 422,1178.9 428.6,1174.3 424.6,1170.7 423.7,1167.5 425.5,1163.4 423.5,1158.5 424.4,1155.1 424.7,1151.6 426.1,1146.9 422.7,1143.8 422.7,1141.1 430,1137.4 425.5,1134.4 422.5,1131.4 426,1127.9 424,1123.7 423.7,1119.4 423.9,1115.7 423.6,1113.1 425.1,1108.7 427.5,1106.1 429.2,1101.2 429,1096.7 423,1093.3 423.9,1090.1 428.5,1086.9 423.5,1084.3 426.3,1080.9 424.3,1077.4 427.4,1072.6 428.6,1069.8 428.6,1067.3 422.6,1064 425.4,1060.3 425.4,1057.8 427.3,1054.7 428.4,1050.9 425.7,1046 423.9,1042.1 423.4,1039.1 428.4,1034.1 429.4,1031.6 429,1028.6 425.2,1024.9 427.1,1021.7 423.4,1017.5 426.1,1015" fill="#3A3A3A" stroke="#333" stroke-width="2" stroke-linejoin="round"/>
<polygon points="424.8,1218 422.7,1222.2 429.7,1226.1 430,1229.1 427.9,1232.4 434.3,1236.5 424.7,1239.6 425.6,1243.8 431.1,1247.6 431,1250.7 421.5,1253.8 431.2,1257.3 432.1,1261.8 435.5,1264.8 421.5,1266 423.4,1266 437.8,1264.8 442.6,1261.8 435,1257.3 438.5,1253.8 453.1,1250.7 440.5,1247.6 430.5,1243.8 454,1239.6 441.9,1236.5 454,1232.4 431,1229.1 439.7,1226.1 431.8,1222.2 445.9,1218" fill="#2E9A22" stroke="#333" stroke-width="2" stroke-linejoin="round"/>
<polygon points="421.5,1266 421.6,1270.4 421.4,1274.1 422.3,1277.7 421.8,1280.5 421.3,1285.5 421.8,1288.1 429.1,1290 451.9,1290 430.9,1288.1 422.3,1285.5 423.3,1280.5 431.4,1277.7 423.5,1274.1 431.5,1270.4 423.4,1266" fill="#3A3A3A" stroke="#333" stroke-width="2" stroke-linejoin="round"/>
<polygon points="429.1,1290 424.6,1294.8 429.2,1299.7 425.2,1303.8 422.9,1307.2 424.9,1310.4 422.9,1312 423.9,1312 451,1310.4 430.1,1307.2 438.2,1303.8 430.7,1299.7 434.1,1294.8 451.9,1290" fill="#2E9A22" stroke="#333" stroke-width="2" stroke-linejoin="round"/>
<polygon points="422.9,1312 422.6,1315.4 421.1,1319 422.8,1322.4 422.8,1325.8 422.6,1329.3 421.1,1331.9 421.5,1336.7 421.7,1341.5 422.2,1346.4 424.5,1350 438.1,1350 423.4,1346.4 423.5,1341.5 427.7,1336.7 422.1,1331.9 427.9,1329.3 423.8,1325.8 423.8,1322.4 425.3,1319 428.4,1315.4 423.9,1312" fill="#3A3A3A" stroke="#333" stroke-width="2" stroke-linejoin="round"/>
<polygon points="424.5,1350 429.3,1352.5 431.4,1356.6 426.2,1359.7 425.3,1364.6 426.4,1368.1 429.8,1371.1 421.8,1372 423.4,1372 448.2,1371.1 452.4,1368.1 437.5,1364.6 453,1359.7 432.5,1356.6 452.2,1352.5 438.1,1350" fill="#2E9A22" stroke="#333" stroke-width="2" stroke-linejoin="round"/>
<polygon points="421.8,1372 421.3,1375.3 421.1,1379.8 421.2,1384.2 421.6,1386.7 421.9,1391.7 421.1,1394.9 421.7,1398.6 421.4,1401.7 421.7,1405.9 421.1,1410 421.6,1413.3 421.2,1417.6 421.2,1420.7 421.3,1424.7 421.5,1429.7 421.7,1434.2 421.5,1436.9 421.9,1441.5 421.1,1444.8 421.6,1449.7 421.9,1453.1 421.8,1456.3 421.6,1459 421.4,1462.1 421.3,1465.1 421.2,1469.2 421.7,1472.5 421.2,1475.8 421.1,1479.7 421.6,1483.2 421.2,1485.9 421.3,1489.4 423.2,1490 437.3,1490 422.3,1489.4 423.8,1485.9 423.6,1483.2 422.1,1479.7 424.2,1475.8 422.7,1472.5 422.2,1469.2 423.4,1465.1 422.4,1462.1 423.5,1459 424.8,1456.3 422.9,1453.1 424.7,1449.7 422.1,1444.8 422.9,1441.5 424.3,1436.9 425,1434.2 422.5,1429.7 422.6,1424.7 424.5,1420.7 422.2,1417.6 422.6,1413.3 424.4,1410 424.4,1405.9 423.5,1401.7 422.8,1398.6 422.1,1394.9 425,1391.7 422.6,1386.7 422.2,1384.2 422.1,1379.8 422.4,1375.3 423.4,1372" fill="#3A3A3A" stroke="#333" stroke-width="2" stroke-linejoin="round"/>
<polygon points="423.2,1490 423.9,1493.4 423.5,1498.4 422.4,1502.7 424,1507.5 427.2,1511 421.1,1513.9 427.4,1518 423.6,1522 423,1524.9 421.8,1529.7 427.8,1534.2 427.6,1537 421.4,1540.8 427.3,1544.2 422.1,1548.8 423.8,1551.8 422.3,1556.4 424.6,1559.9 422.7,1562.7 421.3,1567.5 421.3,1571.9 425.2,1574.6 423.1,1578.7 424,1582.7 424.1,1586.3 424.4,1590.3 426.5,1594.7 424.3,1597.7 424,1600.5 424.6,1604.1 421.6,1608.2 424.6,1612.7 423.6,1616.4 427,1619.3 430,1620 436.2,1620 445.9,1619.3 445,1616.4 427.1,1612.7 440.7,1608.2 426.8,1604.1 427.8,1600.5 428.1,1597.7 435.2,1594.7 430.7,1590.3 426.5,1586.3 439.2,1582.7 434.4,1578.7 437,1574.6 442.8,1571.9 437.2,1567.5 440.5,1562.7 433.7,1559.9 430.4,1556.4 442.9,1551.8 441.7,1548.8 438.4,1544.2 444.5,1540.8 445.5,1537 429.9,1534.2 435.8,1529.7 436.4,1524.9 436.1,1522 428.4,1518 437,1513.9 435.2,1511 442.4,1507.5 426.1,1502.7 429.9,1498.4 443.3,1493.4 437.3,1490" fill="#3A3A3A" stroke="#333" stroke-width="2" stroke-linejoin="round"/>
<polygon points="430,1620 426.4,1625 422.8,1629.7 421.7,1634.6 422.7,1639 430,1642.1 431.1,1645.9 426.6,1649.1 423,1651.7 428.5,1656.5 429.6,1659.4 428,1663.2 427.1,1667.9 422.2,1672.6 425.3,1676.7 431.9,1679.9 429.4,1683.3 429.2,1686.2 423.8,1690.8 427.4,1695.7 421,1699 427.8,1701.9 430.9,1705.7 428.2,1708.7 424.9,1711.2 423.5,1714.6 423.2,1718.6 422.5,1722.3 422.6,1725.4 430.6,1729.5 423.9,1733 427.2,1737.1 425.9,1741.2 423.7,1745.6 426.8,1748.2 421.6,1751.3 427.1,1753.8 423.2,1756.6 428.1,1760.4 424.4,1763.3 430.8,1766 421.1,1770.3 426.1,1774.6 423.5,1778.3 421.4,1781.3 428.6,1785.7 423.9,1790 429.7,1793.6 428.1,1796.7 430.7,1799.8 433.8,1800 466,1800 431.7,1799.8 460.9,1796.7 446.7,1793.6 447.7,1790 457.1,1785.7 440.7,1781.3 433.4,1778.3 453.7,1774.6 457,1770.3 455.1,1766 439.6,1763.3 456,1760.4 449.5,1756.6 460.1,1753.8 454.9,1751.3 443,1748.2 458.9,1745.6 460,1741.2 441.2,1737.1 430.4,1733 455,1729.5 433.1,1725.4 460,1722.3 450,1718.6 448.7,1714.6 433.4,1711.2 430.7,1708.7 434.2,1705.7 443.8,1701.9 431.1,1699 451.2,1695.7 450.5,1690.8 431.5,1686.2 444.2,1683.3 448.5,1679.9 455.5,1676.7 461.8,1672.6 448.6,1667.9 441.5,1663.2 433.7,1659.4 458.7,1656.5 435.2,1651.7 440.2,1649.1 436.7,1645.9 434.6,1642.1 458.7,1639 441.2,1634.6 455.2,1629.7 460.6,1625 436.2,1620" fill="#2E9A22" stroke="#333" stroke-width="2" stroke-linejoin="round"/>
<polygon points="433.8,1800 441.9,1804.9 435.3,1809.6 440.1,1814.3 445.7,1818.5 441.2,1823.1 441.6,1826.7 433.4,1830 444.6,1832.7 431.7,1835.2 432.3,1838.6 441.1,1841.2 441.8,1845.4 435.8,1849.4 444.3,1854 444.6,1858.6 433.3,1861.4 443.6,1864 443.2,1868.1 431.6,1871.3 433.3,1875.7 430.3,1879.2 441.5,1882.4 445.4,1885.7 439.9,1890.4 437,1893.9 441.3,1897.3 443.8,1900.3 432.7,1904.9 442.2,1907.9 437.9,1910.4 433,1914.9 421,1915 444.7,1915 457.3,1914.9 457.2,1910.4 474.2,1907.9 440,1904.9 444.8,1900.3 458.8,1897.3 467.1,1893.9 441.1,1890.4 457.6,1885.7 452.9,1882.4 449,1879.2 451.2,1875.7 443.4,1871.3 462.1,1868.1 468.4,1864 443.9,1861.4 473.1,1858.6 445.3,1854 468.6,1849.4 442.8,1845.4 462.2,1841.2 441,1838.6 472.5,1835.2 445.6,1832.7 461.8,1830 460,1826.7 470,1823.1 456.4,1818.5 464.2,1814.3 448.4,1809.6 451.4,1804.9 466,1800" fill="#2E9A22" stroke="#333" stroke-width="2" stroke-linejoin="round"/>
<polygon points="421,1915 421,1919.9 421,1924.1 421,1928.2 421,1932.4 421,1935.8 421,1940.6 421,1943.1 421,1947.9 421,1952.6 421,1956.4 421,1960.5 421,1963.4 421,1967.8 421,1972.2 421,1975.9 421,1978.8 421,1983.4 421,1986.6 421,1989.5 421,1994.4 421,1999.3 421,2004.3 421,2007.9 421,2010.6 421,2013.2 421,2017.4 421,2021.1 421,2024.6 421,2028.2 421,2031.7 421,2036.4 421,2041.1 421,2044.7 421,2047.5 421,2051.7 421,2055.3 421,2058.8 421,2061.8 421,2065.2 421,2067.8 421,2072.3 421,2075.1 421,2079.3 421,2083.9 421,2088.8 421,2092.3 421,2097.2 421,2100.4 440.2,2100.4 441,2097.2 442.2,2092.3 452.3,2088.8 447.4,2083.9 451.5,2079.3 449.7,2075.1 449.3,2072.3 442.9,2067.8 457.5,2065.2 454,2061.8 456.7,2058.8 451.2,2055.3 444.5,2051.7 454.1,2047.5 451.3,2044.7 451.5,2041.1 452.6,2036.4 453,2031.7 453.5,2028.2 456.3,2024.6 450.9,2021.1 451.4,2017.4 454.2,2013.2 447,2010.6 451.5,2007.9 453.2,2004.3 446.9,1999.3 441.8,1994.4 443.4,1989.5 449.4,1986.6 442.8,1983.4 452.7,1978.8 444.3,1975.9 442.3,1972.2 447.9,1967.8 451.9,1963.4 445.9,1960.5 453.6,1956.4 448.3,1952.6 446.8,1947.9 444.7,1943.1 456,1940.6 447.1,1935.8 451.3,1932.4 454.2,1928.2 442,1924.1 443.9,1919.9 444.7,1915" fill="#2E9A22" stroke="#333" stroke-width="2" stroke-linejoin="round"/>
<polyline points="422.9,410 421.4,414.1 421.3,417.5 423.6,420.1 423.5,422.9 422.3,425.7 424.5,430.5 421.3,435.5 421.9,438.7 425.9,442 424.8,445.9 421.4,449.8 425.1,452.8 424.5,456.1 425.8,459.3 424.4,462.5 425.4,467.1 421.7,472.1 421.9,476.5 425,479.1 426.3,483 424.6,487.3 426,490.9 425,494.6 424.9,498.8 422.7,503.4 421.1,507.6 421.7,510.5 421.8,514.9 426.2,518.4 424.3,522 426.2,526.6 423.2,530.1 421.9,535 422.4,538.1 422.6,542 423.2,545.6 425.1,550.5 425.1,554.5 425.7,559.3 423.4,563.8 424.8,566.5 422.3,569.2 421.3,572.5 421.6,575.4 426.2,578 422.5,580.8 421.7,584.3 423.8,589.2 421.6,592 426,595.1 426.7,597.7 424.3,600.5 426.9,604.4 422.6,608.6 425.6,611.5 423,616 426.9,620.5 425.9,625 424.1,628.1 421.2,630.7 425.2,633.8 426.6,637.4 423.2,642.3 422.2,645.4 426.4,649.4 424.9,653.1 425,655.8 425.5,660.3 425.7,663.2 426.8,667.7 426.7,671.3 421.8,674.2 425.8,678.9 426.9,683.5 424.3,686.9 426.8,689.4 438.9,690 437.2,694.7 428.7,697.8 428.1,701.8 438.6,704.6 433.3,708.2 438.7,711.8 432.4,715.6 426.9,719.2 427.6,720 433.3,724.3 433.3,728.1 433.4,730.9 436.6,734.1 436.4,738 434.2,741.6 435.4,745.4 432.2,749.2 438.1,753.4 433.4,756.6 427.1,761.2 426.1,764.8 435,767.5 427.3,772.2 427.1,776.4 428.3,781.3 432.3,784.8 427.4,789.4 430.1,793.2 435.8,796.5 431.6,800.3 434.4,803.7 439.8,806.3 426.6,811.3 436.7,813.9 431.3,816.7 428.9,821.2 433.6,826 425.9,828.7 426.1,832.3 437,836.4 426,841 430.1,844.7 429,849.5 428.6,853.3 425.8,856.2 429.6,859.5 422.5,860 421.1,863.4 423.2,865.9 422.4,868.9 423.5,871.6 423.5,875.4 423.1,879.1 423.5,882.5 422.2,886.6 421.4,889.2 421.8,893.6 423.5,896.3 421.8,900.5 422.4,903.7 421.8,907.3 422.6,912.3 421.9,917.2 422.1,919.7 421.6,923.4 421.8,925.9 421.1,929.4 421.7,932.7 423.3,936.5 423.6,940.8 424,944.1 422.9,948.4 423.7,953 423.4,957.4 425.5,960 428.4,964.5 427.1,969.2 421.3,972.3 421.9,975.7 426.6,979.6 425.4,983.8 427.7,988.3 423,990 421.8,994.3 423.2,997.5 423.9,1001.9 422.4,1005.3 422.9,1009.7 421.4,1012.4 421.6,1015 421.1,1017.5 422.4,1021.7 422,1024.9 421.2,1028.6 423,1031.6 421.9,1034.1 421.9,1039.1 422.9,1042.1 421.3,1046 421.3,1050.9 422.8,1054.7 422.8,1057.8 421,1060.3 421.6,1064 421.6,1067.3 422.5,1069.8 422.9,1072.6 421.6,1077.4 423,1080.9 421.9,1084.3 421.2,1086.9 422.9,1090.1 422,1093.3 422.9,1096.7 422.3,1101.2 422.1,1106.1 422.5,1108.7 422.3,1113.1 422.9,1115.7 421.7,1119.4 423,1123.7 421.6,1127.9 421.3,1131.4 422.8,1134.4 422.8,1137.4 421.3,1141.1 421.7,1143.8 421.5,1146.9 422.5,1151.6 422,1155.1 421.1,1158.5 421.3,1163.4 422.7,1167.5 421.5,1170.7 422.9,1174.3 421,1178.9 422.8,1183.2 421,1187.2 422.7,1192 421.5,1196.9 422,1199.8 422.4,1204.7 421.9,1209.1 422.6,1211.7 422.3,1216.5 424.8,1218 422.7,1222.2 429.7,1226.1 430,1229.1 427.9,1232.4 434.3,1236.5 424.7,1239.6 425.6,1243.8 431.1,1247.6 431,1250.7 421.5,1253.8 431.2,1257.3 432.1,1261.8 435.5,1264.8 421.5,1266 421.6,1270.4 421.4,1274.1 422.3,1277.7 421.8,1280.5 421.3,1285.5 421.8,1288.1 429.1,1290 424.6,1294.8 429.2,1299.7 425.2,1303.8 422.9,1307.2 424.9,1310.4 422.9,1312 422.6,1315.4 421.1,1319 422.8,1322.4 422.8,1325.8 422.6,1329.3 421.1,1331.9 421.5,1336.7 421.7,1341.5 422.2,1346.4 424.5,1350 429.3,1352.5 431.4,1356.6 426.2,1359.7 425.3,1364.6 426.4,1368.1 429.8,1371.1 421.8,1372 421.3,1375.3 421.1,1379.8 421.2,1384.2 421.6,1386.7 421.9,1391.7 421.1,1394.9 421.7,1398.6 421.4,1401.7 421.7,1405.9 421.1,1410 421.6,1413.3 421.2,1417.6 421.2,1420.7 421.3,1424.7 421.5,1429.7 421.7,1434.2 421.5,1436.9 421.9,1441.5 421.1,1444.8 421.6,1449.7 421.9,1453.1 421.8,1456.3 421.6,1459 421.4,1462.1 421.3,1465.1 421.2,1469.2 421.7,1472.5 421.2,1475.8 421.1,1479.7 421.6,1483.2 421.2,1485.9 421.3,1489.4 423.2,1490 423.9,1493.4 423.5,1498.4 422.4,1502.7 424,1507.5 427.2,1511 421.1,1513.9 427.4,1518 423.6,1522 423,1524.9 421.8,1529.7 427.8,1534.2 427.6,1537 421.4,1540.8 427.3,1544.2 422.1,1548.8 423.8,1551.8 422.3,1556.4 424.6,1559.9 422.7,1562.7 421.3,1567.5 421.3,1571.9 425.2,1574.6 423.1,1578.7 424,1582.7 424.1,1586.3 424.4,1590.3 426.5,1594.7 424.3,1597.7 424,1600.5 424.6,1604.1 421.6,1608.2 424.6,1612.7 423.6,1616.4 427,1619.3 430,1620 426.4,1625 422.8,1629.7 421.7,1634.6 422.7,1639 430,1642.1 431.1,1645.9 426.6,1649.1 423,1651.7 428.5,1656.5 429.6,1659.4 428,1663.2 427.1,1667.9 422.2,1672.6 425.3,1676.7 431.9,1679.9 429.4,1683.3 429.2,1686.2 423.8,1690.8 427.4,1695.7 421,1699 427.8,1701.9 430.9,1705.7 428.2,1708.7 424.9,1711.2 423.5,1714.6 423.2,1718.6 422.5,1722.3 422.6,1725.4 430.6,1729.5 423.9,1733 427.2,1737.1 425.9,1741.2 423.7,1745.6 426.8,1748.2 421.6,1751.3 427.1,1753.8 423.2,1756.6 428.1,1760.4 424.4,1763.3 430.8,1766 421.1,1770.3 426.1,1774.6 423.5,1778.3 421.4,1781.3 428.6,1785.7 423.9,1790 429.7,1793.6 428.1,1796.7 430.7,1799.8 433.8,1800 441.9,1804.9 435.3,1809.6 440.1,1814.3 445.7,1818.5 441.2,1823.1 441.6,1826.7 433.4,1830 444.6,1832.7 431.7,1835.2 432.3,1838.6 441.1,1841.2 441.8,1845.4 435.8,1849.4 444.3,1854 444.6,1858.6 433.3,1861.4 443.6,1864 443.2,1868.1 431.6,1871.3 433.3,1875.7 430.3,1879.2 441.5,1882.4 445.4,1885.7 439.9,1890.4 437,1893.9 441.3,1897.3 443.8,1900.3 432.7,1904.9 442.2,1907.9 437.9,1910.4 433,1914.9 421,1915 421,1919.9 421,1924.1 421,1928.2 421,1932.4 421,1935.8 421,1940.6 421,1943.1 421,1947.9 421,1952.6 421,1956.4 421,1960.5 421,1963.4 421,1967.8 421,1972.2 421,1975.9 421,1978.8 421,1983.4 421,1986.6 421,1989.5 421,1994.4 421,1999.3 421,2004.3 421,2007.9 421,2010.6 421,2013.2 421,2017.4 421,2021.1 421,2024.6 421,2028.2 421,2031.7 421,2036.4 421,2041.1 421,2044.7 421,2047.5 421,2051.7 421,2055.3 421,2058.8 421,2061.8 421,2065.2 421,2067.8 421,2072.3 421,2075.1 421,2079.3 421,2083.9 421,2088.8 421,2092.3 421,2097.2 421,2100.4 421,2104" fill="none" stroke="#000" stroke-width="1.6"/>
<path transform="scale(1.2,1)" stroke="#F00000" stroke-width="8.4" stroke-linecap="round" d="M357.1 702.6h0M365.9 696.7h0M363.9 851.6h0M354.8 774.9h0M358.7 738.1h0M375.8 785.7h0M365.8 751.6h0M358.4 834.6h0M357.1 785.5h0M368.1 836.7h0M354.8 839.1h0M364.5 779.7h0M355.2 720.4h0M363.8 762.3h0M365.1 780h0M369.1 850h0M367.7 865.7h0M378.3 874h0M358.2 923.3h0M353.7 925.6h0M361 870.2h0M359.8 894.6h0M358 950.4h0M362.6 920.8h0M372.1 926.8h0M368.1 879.7h0M356.8 913.1h0M366.1 915.5h0M361.5 883.4h0M363.5 906.7h0M370.6 909.1h0M356.2 860.7h0M371.9 974h0M360.9 971.2h0M369.9 988.8h0M362.6 960.9h0M366.1 980.5h0M358.9 975.3h0M373.3 986.9h0M360 970.2h0M369.8 971h0M356.6 966.3h0M374.3 1000.6h0M361.5 1010.7h0M358.4 1002.6h0M369.5 1006.4h0M359 998.3h0M364.7 1005.9h0M358.9 1023.1h0M377.7 1025.1h0M364.7 1016.3h0M380.3 1148.6h0M367.4 1199.7h0M365.4 1156.4h0M358.4 1153.2h0M369.7 1169.8h0M375.9 1051.8h0M358.7 1148.1h0M357 1182h0M368.9 1076.3h0M371.5 1079.7h0M361.9 1026.1h0M370.5 1023h0M368.8 1201.5h0M368.3 1017.9h0M364.7 1214.1h0M366.8 1098.7h0M362.6 1045.8h0M358.9 1016h0M361.6 1032.9h0M372 1041.2h0M355.4 1163.9h0M358.8 1025.2h0M371.1 1163.1h0M359.7 1142.6h0M369.1 1066.6h0M357.2 1252.4h0M353 1257.2h0M357 1232.9h0M359.7 1241.3h0M366.5 1235.6h0M361.5 1225h0M364.3 1235.4h0M368.8 1236.5h0M357 1263.4h0M371.3 1220.9h0M359.9 1251.8h0M365.2 1264.9h0M360.6 1246.9h0M366.9 1236.1h0M370.5 1246.9h0M366.5 1218.1h0M374.6 1276.1h0M367.1 1267h0M363.8 1285.5h0M367.1 1286.4h0M362.1 1282.4h0M361.4 1302.2h0M353.5 1294.4h0M382.4 1303.4h0M358 1300.2h0M363 1307.4h0M360.5 1291.9h0M375 1302.8h0M368.1 1309.5h0M355.1 1319.2h0M358.2 1318.9h0M365.2 1327.3h0M392.4 1317.7h0M366.2 1316h0M362.7 1341.9h0M365.7 1361.4h0M377.9 1350.7h0M355 1362.5h0M380.9 1367.1h0M369.2 1368h0M360.8 1355.6h0M354.6 1351.8h0M365.3 1362.3h0M362.1 1479.4h0M361.2 1442.6h0M358.4 1402.3h0M370.9 1447.6h0M357.9 1424.9h0M360.9 1486h0M354.4 1402.2h0M371 1478.5h0M368 1464.8h0M357 1448.3h0M356.9 1588.1h0M361.7 1578h0M373 1503.7h0M365.4 1523.4h0M365.2 1521h0M377.1 1578.1h0M358.3 1494.7h0M383.8 1518.7h0M366.5 1508.2h0M381.1 1502.6h0M366.4 1548.8h0M374 1597h0M355.7 1518.8h0M364 1582.8h0M357 1524.6h0M357.7 1510.2h0M383 1511.8h0M362.6 1531.3h0M360.5 1497.4h0M357.8 1576.9h0M369.9 1523.5h0M409.3 1537.4h0M356.7 1502.7h0M376.3 1606.5h0M361.1 1617.2h0M357 1594.9h0M361.6 1598.2h0M383.8 1514.2h0M366.2 1564.3h0M356.4 1513.4h0M376.3 1500.3h0M365.4 1569.1h0M355.8 1569.6h0M361.5 1595.5h0M359.2 1585.3h0M379.6 1583.8h0M365.4 1599.4h0M387.3 1554.1h0M356.8 1603.4h0M360.2 1514.2h0M367.5 1538.3h0M370.8 1490.6h0M357.5 1641.7h0M364.2 1767h0M365.5 1688.7h0M380.5 1631h0M381.4 1712.4h0M392.4 1716.7h0M358 1652.8h0M354.4 1665.1h0M356.7 1745.8h0M370.6 1623.2h0M364.4 1746.5h0M353.9 1776.5h0M359.1 1708.8h0M364.1 1670.3h0M366.7 1726.5h0M375.5 1646.5h0M367.4 1768.7h0M379.9 1690h0M370.2 1691.2h0M359.8 1759.8h0M366 1698.4h0M379.6 1764.8h0M369 1629.6h0M364.7 1792.4h0M358.6 1733.9h0M369.1 1715.5h0M359.8 1623.7h0M361 1794.5h0M391 1765.7h0M374.6 1779.2h0M358.2 1742.1h0M372.1 1717.6h0M363.9 1713.7h0M358.2 1791.2h0M367.4 1641.7h0M366.3 1792.1h0M354.1 1716.1h0M362.7 1642.3h0M362.7 1671.9h0M382.5 1635.8h0M363.4 1722.6h0M358.9 1656.2h0M370.6 1730.3h0M355.2 1675.9h0M365.5 1689h0M371.4 1622.1h0M378.4 1720.2h0M368.2 1671.3h0M353.8 1648.5h0M359.1 1776.8h0M357.5 1699.2h0M361.5 1639.7h0M391.4 1647.8h0M365.4 1683.4h0M373.2 1767.8h0M355.5 1753h0M380.8 1761.3h0M373.7 1784.6h0M376.7 1757.8h0M373.2 1709.6h0M360.7 1761.1h0M366.4 1729.3h0M365 1883.2h0M367.7 1844.9h0M361.1 1890.5h0M362.8 1857.4h0M358.2 1816.7h0M382.6 1866.9h0M373.7 1897h0M360.8 1910.3h0M367.9 1801.2h0M389.5 1865h0M357.2 1861.9h0M376.8 1859.5h0M357.4 1841.1h0M376 1840.4h0M361.3 1811.4h0M374.3 1846.1h0M361.9 1910.9h0M389.4 1850.6h0M391.2 1861h0M373.2 1819.6h0M390.8 1858.9h0M366.9 1902.9h0M380.1 1902.1h0M359.1 1818h0M370.7 1821.6h0M367.8 1872.5h0M361.1 1873.2h0M358.4 1847.3h0M366.3 1800.5h0M372.4 1896.8h0M366.3 1857.3h0M367.8 1830.6h0M368.9 1866.1h0M366.9 1814h0M374.3 1811.5h0M365 1860.1h0M371.1 1807.1h0M364.5 1888.6h0M374.9 1819.5h0M370.3 1811.4h0M365.4 1851.7h0M371.8 1806.3h0M367.7 1850.6h0M389.4 1828.7h0M365.7 1836.2h0M363.2 1893.8h0M375.7 1857h0M371.8 1827.9h0M371.4 1835.6h0M356.2 1855.7h0M364.1 1982h0M357.9 2096.7h0M372.7 2014.8h0M363 1990.4h0M356.6 1980.7h0M355 1950.8h0M364.7 2039.2h0M355.4 1944.2h0M359.4 2071.1h0M367.2 1997.9h0M378.7 1981h0M366.4 1985.5h0M356.1 2009.4h0M369.6 1999.7h0M372.2 2083.2h0M353.9 1983.8h0M373.5 2078.1h0M367.2 2010.9h0M358.4 1987h0M358.4 2021.2h0M369.9 1948.1h0M358.6 1975h0M360.7 1982.6h0M365.3 1970.5h0M360.7 1938.6h0M382.7 1967.8h0M374.8 2080.1h0M355.9 1939.7h0M357.6 2039.1h0M366.1 1992.2h0M373.5 2073.3h0M359.4 2032.6h0M362.2 2052.3h0M362 1922.6h0M356.3 1971.7h0M361.2 1922.3h0M374.7 2072h0M355.8 2049h0M368.5 1980.3h0M354.7 2071h0M367.2 2074.7h0M356.1 1923.9h0M363.6 1954.3h0M373.9 2055.2h0M367.9 2054.8h0M384.9 1967.6h0M374.8 2088.9h0M364.5 2053.1h0M373.9 1925.2h0M387.4 1995.1h0M355.2 2057.5h0M358.8 2046.4h0M366.1 2096.3h0M354 2016.7h0M358.6 1992h0M370.7 1973.1h0M371.3 1959.5h0M387 2011.4h0M368.1 1971h0M368.4 1941.5h0M360.9 2017.5h0M364.6 1946.6h0M373.5 2058.3h0M356.8 1936.4h0M367.4 1926.3h0M357.9 1951.9h0M370.1 1975.7h0M355.4 1982.9h0M360.7 2100.5h0M363.5 1930.7h0M395.7 1935.3h0M359.5 1996.2h0M372.6 2087h0M373.6 2032.4h0M361.7 1961h0M358.1 1920.2h0M383.5 1949.7h0M363.9 2073.2h0M359.6 2070.3h0M365 1976.1h0M380.5 1983.9h0M358.1 1984.1h0M364.8 2021h0M365.4 2068.3h0M385.9 2007.4h0M358.9 1944.4h0M372 2043.7h0M359.1 1997.9h0M354.5 1997.2h0M384.8 2050.2h0M354.8 2062.2h0M363.8 1968h0M369.7 1978.3h0M368.1 2039.6h0M383.2 1970.3h0"/>
<polyline points="525,410 560,416 582.5,419 617,422 590,426 562,429 540,433 525,437 540,444 548.7,446.3 553.1,448.7 556,451 562,453.3 563.6,455.7 575,458 585.3,460.3 590.5,462.7 590,465 570,469 577.7,472 585,475 591.1,477.5 597,480 525,482 525,497.5 604,502 599.9,504.3 596.4,506.7 606,509 588.2,512 575,515 561,517.5 544,520 525,525 570,530 582.2,533 610,536 610.3,538.5 600,541 590.2,543.5 590,546 525,548 525,564 576,568 578.2,570.5 590,573 584.8,575.5 596,578 574,582 588.3,584.7 589,587.3 590,590 600.8,593 598,596 570,600 548,604 525,608 525,624 568,628 577.4,630.3 574.3,632.7 590,635 592.9,637.7 602,640.3 608,643 525,646 525,660.5 560,665 570.1,667.8 594,670.6 594.1,673.1 575.6,675.5 570,678 569.3,680.2 586.7,682.5 579.7,684.8 592,687 525,691 560,695 584.7,697.5 594,700 577.8,702.3 564.3,704.7 548,707 525,711 525,725 550,730 556.2,732.5 568,735 574.7,738 582,741 570.9,743.2 562.7,745.5 572.1,747.8 560,750 545.2,753 540,756 525,762 560,768 577,770.5 584,773 553.8,776 534,779 567.4,782 584,785 576.1,788 554,791 581.6,794 600,797 584.7,799.7 561.5,802.3 540,805 574.1,808 600,811 577.9,813.7 568.9,816.3 554,819 547.9,821.5 530,824 537,826.3 562.3,828.7 567,831 525,838 525,859.6 567,862 567,864 525,866 525,894.5 554,896 571.5,899 575,902 525,908 565,913.5 569.9,916.8 578,920 569,923 525,927 525,945 561,947 551.1,950 546,953 525,957 619,963 616.1,966 615,969 615.4,972 620,975 627.1,977.7 614.4,980.3 614.7,983 588.8,985.5 580,988 541.8,991 562.1,993.5 597,996 585.9,998.4 567,1000.7 525,1004 525,1073.6 540,1075 525,1078 554.5,1086 525,1090 525,1110 554.5,1112 525,1115 557.6,1122.7 525,1126 525,1140 573.5,1141.7 525,1145 525,1222 540,1224.5 525,1230 594,1235.6 602.9,1237.9 593.9,1240.3 593.8,1242.7 594,1245 580.6,1247.7 569.8,1250.3 551,1253 554.7,1255.4 570.5,1257.8 578.3,1260.1 586,1262.5 525,1267 548,1270 548.2,1272.5 538.3,1275 536.1,1277.5 540,1280 525,1281.5 525,1294 583,1295.8 587.3,1298.9 597,1302 602.4,1305.2 592.5,1308.5 525,1310 548,1324 542.6,1326.7 544.4,1329.3 540,1332 525,1335 525,1351 594,1353 592.4,1355.2 590.7,1357.4 591.9,1359.6 607.3,1361.8 603.6,1364 538.6,1367 525,1368.7 525,1426 535,1427 525,1429 525,1497.4 602,1503.8 525,1511.7 525,1541 540,1541.8 525,1544 540,1553 548.6,1555.3 545,1557.7 554.2,1560.1 554.5,1562.4 553.7,1565.6 546.5,1568.7 525,1572 525,1586 591,1589.3 525,1597 529,1611.5 545.7,1614.2 556.3,1616.8 557.6,1619.5 525,1622.6 525,1638.5 578,1641 525,1643 525,1648.8 600.4,1656 525,1660 600,1667 525,1679.7 554,1682 525,1686 586,1690.8 570.7,1693.2 567.5,1695.6 545,1698 559.6,1700.3 559.3,1702.7 564,1705 561.4,1707.5 545,1710 560.2,1712.6 573.4,1715.1 591,1717.7 525,1725.6 559,1740 525,1747.8 525,1763 621,1770 583,1773 571.4,1775.7 575.8,1778.3 562,1781 562.4,1784 575,1787 569.2,1789.3 584.5,1791.5 581,1793.8 568.6,1796.4 546,1799.1 529,1801.7 560,1806 582.3,1808.5 592.5,1811 531,1815 586,1819 526,1821 597,1823.8 595.9,1826.4 606.6,1829.1 618,1831.7 614.2,1834.3 616.6,1837 618,1839.6 598.6,1842.8 591,1846 587.8,1848.3 600,1850.7 551,1853.9 564.9,1857 584.6,1860 526,1865 581.4,1869.7 581.4,1872.8 567,1876 565.5,1878.4 546.5,1880.8 552.5,1883.2 549.7,1885.6 569,1888.8 589,1892 588.5,1894.3 605.3,1896.7 601.5,1899.1 605,1901.4 600,1903.8 578.4,1906.2 572.6,1908.6 568.7,1911 596.9,1914 613,1917 620.3,1919.5 623.9,1921.9 620.8,1924.3 621,1926.8 620.3,1929 623.7,1931.3 629.1,1933.5 619.9,1935.8 624,1938 620.5,1940.6 611.6,1943.2 611.5,1945.8 618.2,1948.3 606.5,1950.9 620.5,1953.4 627.3,1956 621,1958.5 612.4,1961 622.7,1963.5 623.6,1966 627.3,1968.5 621,1971 611.4,1974.2 598.8,1977.5 598.5,1980 605.3,1982.5 619.4,1985 622.6,1987.5 619.4,1990 612.6,1992.3 611.7,1994.6 611.5,1996.9 610.1,1999.1 617.4,2001.4 611.7,2003.7 618,2006 624.3,2008.3 620.2,2010.6 610.4,2012.9 617.6,2015.1 613.4,2017.4 616.2,2019.7 616,2022 611.2,2024.2 610.6,2026.5 611.2,2028.7 614.9,2031 621.2,2033.2 618.6,2035.5 618,2037.7 610,2040 622.2,2042.2 625.3,2044.5 623.7,2046.8 624.2,2049.1 610.3,2051.3 619.4,2053.6 617.6,2055.9 609.3,2058.1 620.8,2060.4 609,2062.6 617.6,2064.9 608.2,2067.1 611.5,2069.4 615,2071.6 608.1,2073.9 603.3,2076.1 609.5,2078.3 608.1,2080.5 618.7,2082.8 611.5,2085 604.6,2087.7 605.2,2090.3 602,2093 602.1,2095.2 608.5,2097.5 592.4,2099.8 598.8,2102" fill="none" stroke="#151585" stroke-width="2" stroke-dasharray="2,1.7"/>
</g>
<g clip-path="url(#cl4)">
<rect x="595.6" y="410" width="5" height="1692" fill="#C0C0C0"/><rect x="606.5" y="410" width="2.8" height="1692" fill="#C0C0C0"/><rect x="612.9" y="410" width="2.8" height="1692" fill="#C0C0C0"/><rect x="617.4" y="410" width="2.8" height="1692" fill="#C0C0C0"/><rect x="620.9" y="410" width="2.8" height="1692" fill="#C0C0C0"/><rect x="623.7" y="410" width="2.8" height="1692" fill="#C0C0C0"/><rect x="626.1" y="410" width="2.8" height="1692" fill="#C0C0C0"/><rect x="628.2" y="410" width="2.8" height="1692" fill="#C0C0C0"/><rect x="630.1" y="410" width="2.8" height="1692" fill="#C0C0C0"/><rect x="631.6" y="410" width="5" height="1692" fill="#C0C0C0"/><rect x="642.5" y="410" width="2.8" height="1692" fill="#C0C0C0"/><rect x="648.9" y="410" width="2.8" height="1692" fill="#C0C0C0"/><rect x="653.4" y="410" width="2.8" height="1692" fill="#C0C0C0"/><rect x="656.9" y="410" width="2.8" height="1692" fill="#C0C0C0"/><rect x="659.7" y="410" width="2.8" height="1692" fill="#C0C0C0"/><rect x="662.1" y="410" width="2.8" height="1692" fill="#C0C0C0"/><rect x="664.2" y="410" width="2.8" height="1692" fill="#C0C0C0"/><rect x="666.1" y="410" width="2.8" height="1692" fill="#C0C0C0"/><rect x="667.6" y="410" width="5" height="1692" fill="#C0C0C0"/><rect x="678.5" y="410" width="2.8" height="1692" fill="#C0C0C0"/><rect x="684.9" y="410" width="2.8" height="1692" fill="#C0C0C0"/><rect x="689.4" y="410" width="2.8" height="1692" fill="#C0C0C0"/><rect x="692.9" y="410" width="2.8" height="1692" fill="#C0C0C0"/><rect x="695.7" y="410" width="2.8" height="1692" fill="#C0C0C0"/><rect x="698.1" y="410" width="2.8" height="1692" fill="#C0C0C0"/><rect x="700.2" y="410" width="2.8" height="1692" fill="#C0C0C0"/><rect x="702.1" y="410" width="2.8" height="1692" fill="#C0C0C0"/><rect x="703.6" y="410" width="5" height="1692" fill="#C0C0C0"/><rect x="714.5" y="410" width="2.8" height="1692" fill="#C0C0C0"/><rect x="720.9" y="410" width="2.8" height="1692" fill="#C0C0C0"/><rect x="725.4" y="410" width="2.8" height="1692" fill="#C0C0C0"/><rect x="728.9" y="410" width="2.8" height="1692" fill="#C0C0C0"/><rect x="731.7" y="410" width="2.8" height="1692" fill="#C0C0C0"/><rect x="734.1" y="410" width="2.8" height="1692" fill="#C0C0C0"/><rect x="736.2" y="410" width="2.8" height="1692" fill="#C0C0C0"/><rect x="738.1" y="410" width="2.8" height="1692" fill="#C0C0C0"/><rect x="739.6" y="410" width="5" height="1692" fill="#C0C0C0"/><rect x="750.5" y="410" width="2.8" height="1692" fill="#C0C0C0"/><rect x="756.9" y="410" width="2.8" height="1692" fill="#C0C0C0"/><rect x="761.4" y="410" width="2.8" height="1692" fill="#C0C0C0"/><rect x="764.9" y="410" width="2.8" height="1692" fill="#C0C0C0"/><rect x="767.7" y="410" width="2.8" height="1692" fill="#C0C0C0"/><rect x="770.1" y="410" width="2.8" height="1692" fill="#C0C0C0"/><rect x="772.2" y="410" width="2.8" height="1692" fill="#C0C0C0"/><rect x="774.1" y="410" width="2.8" height="1692" fill="#C0C0C0"/><rect x="775.6" y="410" width="5" height="1692" fill="#C0C0C0"/><rect x="786.5" y="410" width="2.8" height="1692" fill="#C0C0C0"/><rect x="792.9" y="410" width="2.8" height="1692" fill="#C0C0C0"/><rect x="797.4" y="410" width="2.8" height="1692" fill="#C0C0C0"/><rect x="800.9" y="410" width="2.8" height="1692" fill="#C0C0C0"/><rect x="803.7" y="410" width="2.8" height="1692" fill="#C0C0C0"/><rect x="806.1" y="410" width="2.8" height="1692" fill="#C0C0C0"/><rect x="808.2" y="410" width="2.8" height="1692" fill="#C0C0C0"/><rect x="810.1" y="410" width="2.8" height="1692" fill="#C0C0C0"/><rect x="811.6" y="410" width="5" height="1692" fill="#C0C0C0"/><rect x="822.5" y="410" width="2.8" height="1692" fill="#C0C0C0"/><rect x="828.9" y="410" width="2.8" height="1692" fill="#C0C0C0"/><rect x="833.4" y="410" width="2.8" height="1692" fill="#C0C0C0"/><rect x="836.9" y="410" width="2.8" height="1692" fill="#C0C0C0"/><rect x="839.7" y="410" width="2.8" height="1692" fill="#C0C0C0"/><rect x="842.1" y="410" width="2.8" height="1692" fill="#C0C0C0"/><rect x="844.2" y="410" width="2.8" height="1692" fill="#C0C0C0"/><rect x="846.1" y="410" width="2.8" height="1692" fill="#C0C0C0"/><rect x="847.6" y="410" width="5" height="1692" fill="#C0C0C0"/><rect x="858.5" y="410" width="2.8" height="1692" fill="#C0C0C0"/><rect x="864.9" y="410" width="2.8" height="1692" fill="#C0C0C0"/><rect x="869.4" y="410" width="2.8" height="1692" fill="#C0C0C0"/><rect x="872.9" y="410" width="2.8" height="1692" fill="#C0C0C0"/><rect x="875.7" y="410" width="2.8" height="1692" fill="#C0C0C0"/><rect x="878.1" y="410" width="2.8" height="1692" fill="#C0C0C0"/><rect x="880.2" y="410" width="2.8" height="1692" fill="#C0C0C0"/><rect x="882.1" y="410" width="2.8" height="1692" fill="#C0C0C0"/>
<rect x="628.1" y="419.3" width="220" height="2.2" fill="#C0C0C0"/><rect x="628.1" y="452.6" width="220" height="2.2" fill="#C0C0C0"/><rect x="628.1" y="485.9" width="220" height="2.2" fill="#C0C0C0"/><rect x="628.1" y="519.2" width="220" height="2.2" fill="#C0C0C0"/><rect x="628.1" y="550.9" width="220" height="5.5" fill="#C0C0C0"/><rect x="628.1" y="585.8" width="220" height="2.2" fill="#C0C0C0"/><rect x="628.1" y="619.1" width="220" height="2.2" fill="#C0C0C0"/><rect x="628.1" y="652.4" width="220" height="2.2" fill="#C0C0C0"/><rect x="628.1" y="685.7" width="220" height="2.2" fill="#C0C0C0"/><rect x="628.1" y="717.4" width="220" height="5.5" fill="#C0C0C0"/><rect x="628.1" y="752.3" width="220" height="2.2" fill="#C0C0C0"/><rect x="628.1" y="785.6" width="220" height="2.2" fill="#C0C0C0"/><rect x="628.1" y="818.9" width="220" height="2.2" fill="#C0C0C0"/><rect x="628.1" y="852.2" width="220" height="2.2" fill="#C0C0C0"/><rect x="628.1" y="883.9" width="220" height="5.5" fill="#C0C0C0"/><rect x="628.1" y="918.8" width="220" height="2.2" fill="#C0C0C0"/><rect x="628.1" y="952.1" width="220" height="2.2" fill="#C0C0C0"/><rect x="628.1" y="985.4" width="220" height="2.2" fill="#C0C0C0"/><rect x="628.1" y="1018.7" width="220" height="2.2" fill="#C0C0C0"/><rect x="628.1" y="1050.3" width="220" height="5.5" fill="#C0C0C0"/><rect x="628.1" y="1085.3" width="220" height="2.2" fill="#C0C0C0"/><rect x="628.1" y="1118.6" width="220" height="2.2" fill="#C0C0C0"/><rect x="628.1" y="1151.9" width="220" height="2.2" fill="#C0C0C0"/><rect x="628.1" y="1185.2" width="220" height="2.2" fill="#C0C0C0"/><rect x="628.1" y="1216.8" width="220" height="5.5" fill="#C0C0C0"/><rect x="628.1" y="1251.8" width="220" height="2.2" fill="#C0C0C0"/><rect x="628.1" y="1285.1" width="220" height="2.2" fill="#C0C0C0"/><rect x="628.1" y="1318.4" width="220" height="2.2" fill="#C0C0C0"/><rect x="628.1" y="1351.7" width="220" height="2.2" fill="#C0C0C0"/><rect x="628.1" y="1383.3" width="220" height="5.5" fill="#C0C0C0"/><rect x="628.1" y="1418.3" width="220" height="2.2" fill="#C0C0C0"/><rect x="628.1" y="1451.6" width="220" height="2.2" fill="#C0C0C0"/><rect x="628.1" y="1484.9" width="220" height="2.2" fill="#C0C0C0"/><rect x="628.1" y="1518.2" width="220" height="2.2" fill="#C0C0C0"/><rect x="628.1" y="1549.8" width="220" height="5.5" fill="#C0C0C0"/><rect x="628.1" y="1584.8" width="220" height="2.2" fill="#C0C0C0"/><rect x="628.1" y="1618.1" width="220" height="2.2" fill="#C0C0C0"/><rect x="628.1" y="1651.4" width="220" height="2.2" fill="#C0C0C0"/><rect x="628.1" y="1684.7" width="220" height="2.2" fill="#C0C0C0"/><rect x="628.1" y="1716.3" width="220" height="5.5" fill="#C0C0C0"/><rect x="628.1" y="1751.3" width="220" height="2.2" fill="#C0C0C0"/><rect x="628.1" y="1784.6" width="220" height="2.2" fill="#C0C0C0"/><rect x="628.1" y="1817.9" width="220" height="2.2" fill="#C0C0C0"/><rect x="628.1" y="1851.2" width="220" height="2.2" fill="#C0C0C0"/><rect x="628.1" y="1882.8" width="220" height="5.5" fill="#C0C0C0"/><rect x="628.1" y="1917.8" width="220" height="2.2" fill="#C0C0C0"/><rect x="628.1" y="1951.1" width="220" height="2.2" fill="#C0C0C0"/><rect x="628.1" y="1984.4" width="220" height="2.2" fill="#C0C0C0"/><rect x="628.1" y="2017.7" width="220" height="2.2" fill="#C0C0C0"/><rect x="628.1" y="2049.3" width="220" height="5.5" fill="#C0C0C0"/><rect x="628.1" y="2084.3" width="220" height="2.2" fill="#C0C0C0"/>
<polyline points="630,405 630,467.6 650,469.1 647,470.1 630,471.6 630,480.5 654,482 651,483 630,484.5 630,546 649,547.5 646,548.5 630,550 630,569 639,570.5 636,571.5 630,573 630,575 639,576.5 636,577.5 630,579 630,629.6 656,631.1 653,632.1 630,633.6 630,642.5 654,644 651,645 630,646.5 630,674.3 705.5,675.8 702.5,676.8 630,678.3 630,679 680,680.5 677,681.5 630,683 630,684 668,685.5 665,686.5 630,688 630,689 690,690.5 687,691.5 630,693 630,694 712.5,695.5 709.5,696.5 630,698 630,698 690,699.5 687,700.5 630,702 630,702 675.7,703.5 672.7,704.5 630,706 630,708 670,709.5 667,710.5 630,712 630,724 656,725.5 653,726.5 630,728 630,729 743,730.5 740,731.5 630,733 630,734 700,735.5 697,736.5 630,738 630,738 721,739.5 718,740.5 630,742 630,746 660,747.5 657,748.5 630,750 630,762 685.7,763.5 682.7,764.5 630,766 630,770 650,771.5 647,772.5 630,774 630,788 660,789.5 657,790.5 630,792 630,815 670,816.5 667,817.5 630,819 630,821 671.7,822.5 668.7,823.5 630,825 630,894 719.5,895.5 716.5,896.5 630,898 630,899 700,900.5 697,901.5 630,903 630,903 712,904.5 709,905.5 630,907 630,955 690,956.5 687,957.5 630,959 630,959 680,960.5 677,961.5 630,963 630,964 700,965.5 697,966.5 630,968 630,968 670,969.5 667,970.5 630,972 630,973 690,974.5 687,975.5 630,977 630,977 680,978.5 677,979.5 630,981 630,981 709.5,982.5 706.5,983.5 630,985 630,986 680,987.5 677,988.5 630,990 630,990 690,991.5 687,992.5 630,994 630,995 665,996.5 662,997.5 630,999 630,999 690,1000.5 687,1001.5 630,1003 630,1003 670,1004.5 667,1005.5 630,1007 630,1052.6 642,1054.1 639,1055.1 630,1056.6 630,1074.5 648,1076 645,1077 630,1078.5 630,1114 662,1115.5 659,1116.5 630,1118 630,1142 691.6,1143.5 688.6,1144.5 630,1146 630,1205.7 642,1207.2 639,1208.2 630,1209.7 630,1235.5 743,1237 740,1238 630,1239.5 630,1239 700,1240.5 697,1241.5 630,1243 630,1244 749,1245.5 746,1246.5 630,1248 630,1250 690,1251.5 687,1252.5 630,1254 630,1258 729,1259.5 726,1260.5 630,1262 630,1264 660,1265.5 657,1266.5 630,1268 630,1297.6 745,1299.1 742,1300.1 630,1301.6 630,1301 700,1302.5 697,1303.5 630,1305 630,1305.6 729,1307.1 726,1308.1 630,1309.6 630,1321.5 680,1323 677,1324 630,1325.5 630,1326 660,1327.5 657,1328.5 630,1330 630,1357 773,1358.5 770,1359.5 630,1361 630,1361 720,1362.5 717,1363.5 630,1365 630,1365 739,1366.5 736,1367.5 630,1369 630,1378 650,1379.5 647,1380.5 630,1382 630,1418 645,1419.5 642,1420.5 630,1422 630,1460 660,1461.5 657,1462.5 630,1464 630,1504 737,1505.5 734,1506.5 630,1508 630,1509 690,1510.5 687,1511.5 630,1513 630,1538 680,1539.5 677,1540.5 630,1542 630,1543 670,1544.5 667,1545.5 630,1547 630,1548 680,1549.5 677,1550.5 630,1552 630,1554 675,1555.5 672,1556.5 630,1558 630,1559 680,1560.5 677,1561.5 630,1563 630,1564 672,1565.5 669,1566.5 630,1568 630,1569 680,1570.5 677,1571.5 630,1573 630,1572 670,1573.5 667,1574.5 630,1576 630,1590 761,1591.5 758,1592.5 630,1594 630,1596 729,1597.5 726,1598.5 630,1600 630,1602 690,1603.5 687,1604.5 630,1606 630,1610 670,1611.5 667,1612.5 630,1614 630,1616 660,1617.5 657,1618.5 630,1620 630,1634 759,1635.5 756,1636.5 630,1638 630,1638 740,1639.5 737,1640.5 630,1642 630,1642 773,1643.5 770,1644.5 630,1646 630,1646 750,1647.5 747,1648.5 630,1650 630,1650 765,1651.5 762,1652.5 630,1654 630,1655 760,1656.5 757,1657.5 630,1659 630,2107" fill="none" stroke="#F01010" stroke-width="4.5" stroke-linejoin="round"/>
<path stroke="#F01010" stroke-width="4.6" stroke-linecap="round" fill="none" d="M630.5 1667.1H721.5M635.7 1676H698M630.6 1685.5H710.7M631.9 1694H713.7M629.1 1699.2H736.6M635.2 1705.2H719.7M639.5 1712.1H728.7M638.4 1719.7H704.6M638.9 1725.2H755.4M630.3 1731.2H749.2M630.4 1740.5H766M635.2 1749.6H723.7M628.5 1754.9H767M652.8 1766.3H791.8M654.7 1775H743.2M643.4 1784.3H747.1M682.6 1792.7H776.1M685.9 1799.6H745.3M653.5 1805.1H763.4M648.8 1810.8H757.7M646.6 1819.3H757.2M689 1829.5H779.3M643.6 1835.3H701.8M685.2 1840.8H735M637.1 1851.4H731.8M675.4 1859.4H715.9M721.8 1870.6H767.1M729.5 1879.7H766.1M736.6 1888.3H755.6M736 1896.4H771.1M731.6 1903.2H770.9M725 1910.8H756.5M694 1919.9H785.2M734 1929.4H790.1M726.8 1936.1H782M731.9 1943H754.6M691.5 1951.4H783.1M701.5 1958.5H788.4M720.7 1965.7H800.6M690.6 1971.7H766.6M700.1 1979.8H759.3M723 1988.9H774.3M706.3 1998H786.6M722.2 2003.4H785.3M705.4 2012.5H767.1M695.4 2018.8H762.3M723.9 2027.6H774.1M701.1 2037H744.3M701 2043.9H746.8M715 2050.7H762.2M723.6 2057H789M693 2064H736.7M691.7 2073H774M702.4 2080.5H778.5M695.4 2085.4H760M723.2 2090.3H748.1M691.9 2095.8H769.6M715.2 2102.8H771"/>
<polyline points="676,1667.1 666.9,1676 670.6,1685.5 672.8,1694 682.9,1699.2 677.5,1705.2 684.1,1712.1 671.5,1719.7 697.2,1725.2 689.7,1731.2 698.2,1740.5 679.5,1749.6 697.7,1754.9 722.3,1766.3 698.9,1775 695.3,1784.3 729.3,1792.7 715.6,1799.6 708.4,1805.1 703.2,1810.8 701.9,1819.3 734.1,1829.5 672.7,1835.3 710.1,1840.8 684.5,1851.4 695.7,1859.4 744.5,1870.6 747.8,1879.7 746.1,1888.3 753.6,1896.4 751.3,1903.2 740.7,1910.8 739.6,1919.9 762,1929.4 754.4,1936.1 743.3,1943 737.3,1951.4 745,1958.5 760.7,1965.7 728.6,1971.7 729.7,1979.8 748.7,1988.9 746.5,1998 753.8,2003.4 736.2,2012.5 728.9,2018.8 749,2027.6 722.7,2037 723.9,2043.9 738.6,2050.7 756.3,2057 714.9,2064 732.8,2073 740.4,2080.5 727.7,2085.4 735.6,2090.3 730.7,2095.8 743.1,2102.8" fill="none" stroke="#F01010" stroke-width="1.6" opacity="0.8"/>
<path transform="scale(1.3,1)" stroke="#0505E0" stroke-width="10" stroke-linecap="round" d="M505.7 718.2h0M497.2 727.5h0M513.9 727.1h0M499.5 733.8h0M520.5 758.5h0M511.2 759.5h0M521.8 743h0M527.5 757.8h0M528.2 759.4h0M530 756.3h0M529.4 753.4h0M507.9 741.7h0M526 758.6h0M562.5 716.4h0M491.1 746.7h0M531.9 748.8h0M528.4 720.6h0M524.8 720.6h0M502.3 752.5h0M557.2 727.3h0M536.7 752.1h0M518.7 749.3h0M494.7 754.5h0M493.6 754.8h0M553.3 759.8h0M505.8 717.5h0M562.2 790.5h0M536.6 809.3h0M540.1 801.6h0M526.7 788.5h0M490.5 782.1h0M491.7 811.6h0M535.4 810.7h0M511.1 818.4h0M536.5 802.2h0M520.5 819.6h0M493.1 780.8h0M505.9 780.1h0M534.9 818.2h0M522.8 818.5h0M523.8 818.4h0M510.5 830.3h0M512.7 818.8h0M510.9 796.6h0M551.3 814.8h0M511.9 828h0M546.5 797.3h0M505.4 766.3h0M506.3 756.9h0M500.1 824.4h0M493.2 800.9h0M523.1 825.4h0M498.4 789.4h0M532.8 799.7h0M508.9 768.9h0M527.1 814.7h0M523.7 785.3h0M518.2 785h0M502.4 769.5h0M492 768.2h0M497.8 800h0M501.3 800.2h0M533.1 939.9h0M534.1 945.3h0M494.3 838.4h0M491.6 840.8h0M506.8 999.9h0M505.7 979.2h0M504.2 971.6h0M546.6 930.9h0M547.4 940.4h0M530 866.5h0M565.7 838.2h0M555.3 839.5h0M567.7 995.1h0M543.7 864.8h0M531.4 1005.3h0M590.1 896.5h0M558.2 963.3h0M568.3 960.5h0M587.2 919.8h0M580.6 922.3h0M534.8 867.7h0M559.4 931.1h0M518.3 934.4h0M492.9 973.1h0M537.6 884.4h0M535.9 892.8h0M510.1 950.1h0M493.8 981h0M574.6 876.5h0M544.2 875.7h0M554.6 831.2h0M583.8 867h0M568.1 885.3h0M565.3 887.1h0M566.6 896.1h0M532.6 897.7h0M587 955.1h0M587.3 894.9h0M491.9 957h0M500.6 891h0M516.5 843.5h0M596.6 858.8h0M552.9 854h0M524.8 905.1h0M541.5 886.8h0M539 960.4h0M556.8 842.9h0M570.9 893.1h0M567.7 976.7h0M546.2 948.9h0M529.8 900.8h0M506.9 897.8h0M550.1 865.8h0M501.8 995.3h0M501.7 990.4h0M503.2 921.5h0M511.5 920.5h0M511 966.4h0M552.3 918h0M576.7 1005.9h0M569.9 992h0M583.4 926.2h0M580.4 925.5h0M585 957.9h0M594.3 896.2h0M537.4 907.6h0M489.6 981.8h0M544.5 841.8h0M550.8 841.1h0M513.5 860.9h0M500.9 900.4h0M517.1 876.1h0M537.5 866.8h0M532.5 866.5h0M548.2 904h0M490.3 905.1h0M560.8 917.5h0M523.3 868h0M552.1 887.9h0M548 883.1h0M494.5 1019.1h0M558.5 1235.1h0M496 1019.2h0M503.5 1055.9h0M503.6 1058.1h0M500.7 1095.5h0M511.3 1093.3h0M497.8 1103h0M533.3 1103.3h0M534.5 1101h0M500.3 1107.8h0M523.4 1083.9h0M512.7 1092.4h0M496.5 1201.4h0M514.7 1036.8h0M554.4 1107.5h0M518.1 1050.1h0M503.5 1023.2h0M494.2 1042.6h0M492.7 1062.9h0M490.1 1062.6h0M501.2 1185.2h0M508.1 1020.2h0M493.2 1032.9h0M508.1 1212.4h0M497 1185.4h0M493.2 1188.5h0M554.1 1173.7h0M534.2 1185.1h0M490.9 1153.4h0M504.3 1020.4h0M534.4 1230h0M528.6 1147.1h0M532.1 1149.7h0M494.6 1216.6h0M489.9 1221h0M507.3 1014.4h0M498.7 1153.5h0M533.1 1120.6h0M517.5 1033.1h0M509.2 1063h0M515.4 1210.7h0M523.3 1230.4h0M517 1073.9h0M523.4 1078.6h0M503 1219.9h0M512.4 1025.1h0M526 1088.5h0M506.4 1074.9h0M489.4 1193.7h0M494.6 1195.7h0M517 1158h0M530.2 1070.9h0M530.8 1064.3h0M533.3 1043.5h0M492.5 1199.3h0M491.4 1192.6h0M511.4 1040.3h0M514.9 1110.3h0M497.3 1022.6h0M498.5 1020h0M490 1020.5h0M497.2 1014.2h0M492.1 1110.3h0M533.5 1214.2h0M496 1157.6h0M504.8 1165.7h0M491.3 1082h0M513.4 1213.3h0M511.3 1217.2h0M528.3 1186.6h0M491.4 1169h0M491.4 1169.7h0M506.1 1023.3h0M562.5 1170.5h0M555.1 1163.4h0M517.6 1179.3h0M517 1226.3h0M518.3 1097.2h0M510.8 1092.3h0M519.5 1100.7h0M525 1124.4h0M519.8 1132.6h0M519.5 1132.5h0M493.7 1199.1h0M503.3 1186.5h0M489.7 1044.5h0M556.3 1038.6h0M549.8 1039.5h0M507.5 1032.4h0M506.1 1030.8h0M495.4 1143.7h0M489.5 1071.4h0M500.9 1130.8h0M489.9 1117.6h0M492.1 1115.6h0M512.1 1134h0M517 1124.6h0M501.9 1201.4h0M506.1 1201.2h0M529.7 1342.1h0M524 1343.8h0M525.4 1342.2h0M526 1372.6h0M495.9 1282.7h0M516.6 1331.9h0M496.9 1435.7h0M494.3 1261h0M495.5 1266h0M492.8 1261.4h0M491.1 1429.3h0M493.5 1422.6h0M496.4 1425.5h0M517.6 1326h0M525.1 1333.1h0M491.3 1251.7h0M497 1256.6h0M517.7 1432.4h0M511.9 1425.7h0M503.9 1381.4h0M510.8 1377.1h0M504.7 1373h0M510 1380.5h0M500.9 1352.7h0M509.4 1349.9h0M491.5 1361.8h0M489.4 1363.6h0M496.8 1364.6h0M494.4 1356.8h0M530.1 1254.1h0M525.1 1256.8h0M520.8 1247.8h0M521.7 1339h0M493.5 1312.9h0M518.3 1412.4h0M520 1409.6h0M528.6 1417.7h0M510.4 1284.4h0M507.6 1286h0M495.1 1285.6h0M494.7 1367.2h0M492.5 1360.3h0M497.3 1370h0M494.3 1339.6h0M496.2 1348.8h0M489.6 1348.9h0M492.3 1340.5h0M515 1425.7h0M514.3 1422h0M515.7 1415.8h0M515.3 1422.9h0M519.1 1423.7h0M492.8 1450.7h0M496.9 1447.8h0M490.1 1301.9h0M492.5 1402.8h0M515.8 1356h0M508.2 1363.1h0M512.7 1358.6h0M518.8 1332.4h0M524 1334.2h0M491.9 1346.7h0M489.3 1259.4h0M490.8 1262.4h0M516 1433h0M512 1321.4h0M515.3 1436h0M503.2 1309.7h0M509.5 1339.1h0M492.3 1279.5h0M496.5 1273.8h0M498.3 1275.6h0M504 1273.9h0M493.1 1300.7h0M492.8 1298.1h0M515.3 1371h0M514.8 1376.2h0M508.7 1376h0M513 1380.1h0M530.1 1321h0M492.8 1393.3h0M504.2 1406.2h0M502.9 1257h0M504 1390h0M493.8 1391.1h0M490.2 1386.1h0M499.9 1384.7h0M494.2 1250.5h0M490.2 1250.5h0M504.5 1332.8h0M499.1 1327.5h0M512.2 1286h0M515.3 1286.3h0M511.8 1279.4h0M516.2 1245h0M520.2 1247.2h0M497.7 1446.2h0M526.9 1304.2h0M490.5 1351.6h0M492.7 1351.7h0M491.5 1351.7h0M492.5 1346.3h0M550.6 1257.6h0M533 1248.7h0M506.2 1427.7h0M496.6 1412.3h0M501 1327.4h0M509.6 1285.8h0M521 1287.5h0M519.5 1290h0M514.6 1288.2h0M519 1347.5h0M495.7 1355.6h0M489.3 1359.3h0M493.6 1360.7h0M492.9 1352.9h0M524 1294.7h0M513.6 1293h0M511.6 1291.8h0M491.6 1364.6h0M492.5 1646.5h0M496.8 1639.9h0M494.9 1636.3h0M503.1 1600.5h0M502.5 1600.3h0M507.8 1605.6h0M492.8 1601.6h0M491.4 1549.1h0M497.6 1553h0M501.3 1546.7h0M501 1554h0M504.2 1599.9h0M518.7 1469.9h0M516.9 1480.2h0M515.2 1484.6h0M515.5 1477.5h0M516 1484.2h0M489.5 1517.1h0M506.2 1640.9h0M502.8 1516.7h0M506.1 1520.8h0M504.1 1520.2h0M502.7 1524.2h0M501.1 1641h0M493.3 1642.6h0M555.9 1482h0M548.6 1482.9h0M550.5 1483.5h0M556.5 1482.8h0M494.3 1546.7h0M527.7 1475.8h0M520 1475.4h0M491.8 1582.1h0M519.3 1523.5h0M523.7 1458.5h0M522.2 1466.8h0M504.8 1663.9h0M502.7 1507.9h0M506.5 1510.8h0M510.1 1513.6h0M504.6 1509.2h0M510.2 1568.2h0M509.3 1566.8h0M504.1 1485.1h0M499.8 1483.4h0M531 1521.7h0M535.6 1518.2h0M535.4 1514.1h0M514.1 1547.2h0M503.1 1551.3h0M503.2 1541.7h0M504.2 1619h0M537.5 1547.7h0M493.5 1492.9h0M502.5 1499.3h0M499 1496.8h0M489.5 1498.1h0M498.8 1541.6h0M501.9 1537h0M513.5 1606.2h0M519.9 1601.1h0M503.7 1621.8h0M490.8 1511.7h0M538.9 1643.8h0M544 1644.1h0M525.6 1494.8h0M516.2 1497.2h0M522.7 1499.4h0M518.9 1500.1h0M521.8 1565.2h0M522.8 1568.3h0M512.2 1564.6h0M506.5 1617.9h0M497.4 1475.1h0M498.6 1483.2h0M493.5 1474.8h0M494.2 1473.3h0M508.5 1526.5h0M536.1 1554.3h0M516.5 1618.7h0M516.8 1612.5h0M510.5 1615.1h0M514.6 1614.9h0M523.2 1522.6h0M515.6 1518.7h0M527.7 1559.7h0M515.2 1662.9h0M515 1522.4h0M522.7 1518h0M525.7 1527.4h0M495.6 1644h0M489.9 1651.2h0M499.5 1616.3h0M501.3 1620.7h0M498.7 1621.7h0M509.8 1457.1h0M503 1453.2h0M500.5 1460.1h0M530.2 1657.2h0M490.3 1530.5h0M529.4 1497.8h0M512.9 1574.2h0M517 1565.7h0M516.2 1573.7h0M518.5 1572.9h0M513.4 1527.6h0M492.1 1637.4h0M498.2 1635h0M493.7 1583.7h0M494.8 1591.4h0M491.4 1586.8h0M534.3 1824.1h0M535.2 1827.8h0M530.4 1828.6h0M519.6 1749.6h0M581.9 1784.1h0M589.4 1783.9h0M583.7 1785.2h0M580.5 1778.2h0M515 1821.3h0M492.6 1825.9h0M498.3 1830h0M499.8 1828.7h0M538.5 1701.5h0M545.1 1695.4h0M570.9 1746.2h0M574 1749.6h0M510.4 1834.5h0M500.4 1842.9h0M498.5 1840.2h0M509.4 1841.9h0M512 1722.6h0M519.3 1723.5h0M520 1729.5h0M504.6 1688h0M573.6 1752.1h0M508.6 1819.8h0M543.5 1807.7h0M566.3 1801.4h0M558.3 1756.6h0M558.1 1763.3h0M557.4 1760.1h0M557.5 1677.8h0M583.2 1713.7h0M577.1 1781.8h0M570.5 1775.8h0M573.3 1773.4h0M572 1780.8h0M503 1788.1h0M502.9 1796.9h0M494.4 1786.9h0M501.7 1796.1h0M500.6 1828.2h0M555.3 1847.2h0M564.8 1671.7h0M560 1668.6h0M557.5 1670.3h0M555 1670.9h0M523.9 1782.7h0M545.5 1668.9h0M542.4 1661.5h0M554.1 1854.3h0M547.7 1851.6h0M551.8 1852.1h0M519.3 1813.9h0M514.3 1810.4h0M517 1815.3h0M516 1810.5h0M578.1 1729.6h0M532.4 1773.2h0M497.1 1746.4h0M490.4 1745.1h0M537.8 1791.2h0M535.7 1813.7h0M533.6 1815.7h0M541.2 1815.3h0M519 1823.7h0M511.9 1830.9h0M515.8 1825h0M520.3 1823.5h0M591.6 1872.3h0M592 1865.7h0M581.5 1868.3h0M535 1766.3h0M525.4 1759.8h0M533.7 1766.8h0M521.9 1763h0M512.1 1740.8h0M500.4 1744.7h0M505.4 1746h0M539.7 1749.9h0M602.9 1777.4h0M603.1 1781.5h0M494.5 1785.9h0M544.9 1842.8h0M535.3 1846.6h0M505.7 1757.4h0M506.7 1764.6h0M495.8 1758.7h0M534.5 1686.9h0M534.8 1696.3h0M536.6 1689.9h0M539.4 1692.6h0M567.4 1749.2h0M563.6 1750.8h0M569.8 1742.8h0M523.3 1857.3h0M519.6 1863.8h0M517.9 1758.4h0M555.2 1758.9h0M553.5 1757.4h0M563.6 1698h0M569.2 1696.3h0M573.8 1703h0M571.2 1700.5h0M497.3 1809.3h0M556.9 1721.8h0M518.1 1825.2h0M529.9 1823.7h0M547.1 1726.1h0M499.7 1700.7h0M499.6 1698.6h0M602.4 1910.9h0M560 1980.2h0M587.3 1951.2h0M558.8 1917.1h0M553.8 1917h0M557.7 1911.4h0M604.8 2027.6h0M551.6 2101.2h0M578.1 1892.8h0M577.4 1893.7h0M584.7 1899.7h0M576.3 1897.6h0M577.1 1898.5h0M586.9 1896.7h0M542.1 1927h0M541.1 2063.1h0M540.9 2066.1h0M542.2 2057.9h0M538.4 2056.7h0M600.1 1921.8h0M601.6 1919.2h0M595.7 1922.8h0M554.1 2013.3h0M552.6 2019.8h0M557.7 2016.1h0M555.8 2018.1h0M638.9 2023.5h0M634.1 2022.5h0M640.8 2024.5h0M584.4 1987.6h0M587.2 1989.5h0M551.8 2040.2h0M549.4 2039.9h0M579.2 1970.6h0M573 1899.7h0M579.8 1906.7h0M602.9 1933.6h0M599.8 1932.1h0M597.8 1936.5h0M592.2 1935h0M585 1981.8h0M584.1 1985.8h0M605.2 1964.2h0M592.1 1955.9h0M565.7 1969.3h0M562.4 1971.9h0M554.3 1978.2h0M625 2079.6h0M620.9 2080.7h0M623.4 2083.2h0M615.7 2075.4h0M556 1996h0M556.1 1991.9h0M559.4 2060.7h0M573.8 2082.7h0M568.7 2084.8h0M545.2 1972.9h0M546.2 1966.9h0M551.7 1967h0M608.5 2046.1h0M633.9 1961h0M637.6 1950h0M639.1 1960.3h0M630.3 1956.9h0M613.5 1972.2h0M559.9 2061.4h0M594.4 2029.8h0M551.8 2083.4h0M550.8 2079.5h0M606 2057h0M596.9 2054.6h0M599.9 2065.4h0M561.6 2036.7h0M639.3 1961.3h0M556.8 2046.7h0M553.9 2046.8h0M560.9 2043.8h0M563.9 2089.2h0M566.2 2084.5h0M561.8 2083.3h0M561.5 2084.1h0M539.3 1888.5h0M558.6 2066.6h0M615.3 1923.3h0M613.9 1928.3h0M614.1 1928.6h0M620.6 1929.1h0M557.7 2048.6h0M641.4 1892.5h0M636.4 1890.2h0M631 1890.9h0M643.3 1886.2h0M602.2 2013.2h0M609 2015.1h0M545.1 2005.3h0M582.3 1954.8h0M551.2 1953.3h0M544.8 1895.5h0M541.6 1899.2h0M578.1 1971.8h0M578.9 1969.1h0M569.1 1973.5h0M571 1973h0M616.2 2074.6h0M617.3 2077.9h0M617.5 2082.7h0M607.5 2076h0M585.9 2075.3h0M582.3 2077.7h0M586.2 2078.3h0M606.6 1940.9h0M609.6 1941.7h0M611.4 1937.9h0M612.5 1937.3h0M513.2 1947.4h0M515.8 1939.6h0M592.4 1984.1h0M578.8 2057.8h0M626 2060.3h0M587 2059h0M594.9 2053h0M590.8 2061h0M585.4 2063.6h0M629.2 2067.9h0M625 2068.9h0M616.6 1999.5h0M620 1987.9h0M617.1 1990.8h0M614.2 1995.2h0M547.3 2091.2h0M552.2 2092.8h0"/>
</g>
<g clip-path="url(#cl6)">
<rect x="1026.6" y="410" width="5" height="1692" fill="#C0C0C0"/><rect x="1037.5" y="410" width="2.8" height="1692" fill="#C0C0C0"/><rect x="1043.9" y="410" width="2.8" height="1692" fill="#C0C0C0"/><rect x="1048.4" y="410" width="2.8" height="1692" fill="#C0C0C0"/><rect x="1051.9" y="410" width="2.8" height="1692" fill="#C0C0C0"/><rect x="1054.7" y="410" width="2.8" height="1692" fill="#C0C0C0"/><rect x="1057.1" y="410" width="2.8" height="1692" fill="#C0C0C0"/><rect x="1059.2" y="410" width="2.8" height="1692" fill="#C0C0C0"/><rect x="1061.1" y="410" width="2.8" height="1692" fill="#C0C0C0"/><rect x="1062.6" y="410" width="5" height="1692" fill="#C0C0C0"/><rect x="1073.5" y="410" width="2.8" height="1692" fill="#C0C0C0"/><rect x="1079.9" y="410" width="2.8" height="1692" fill="#C0C0C0"/><rect x="1084.4" y="410" width="2.8" height="1692" fill="#C0C0C0"/><rect x="1087.9" y="410" width="2.8" height="1692" fill="#C0C0C0"/><rect x="1090.7" y="410" width="2.8" height="1692" fill="#C0C0C0"/><rect x="1093.1" y="410" width="2.8" height="1692" fill="#C0C0C0"/><rect x="1095.2" y="410" width="2.8" height="1692" fill="#C0C0C0"/><rect x="1097.1" y="410" width="2.8" height="1692" fill="#C0C0C0"/><rect x="1098.6" y="410" width="5" height="1692" fill="#C0C0C0"/><rect x="1109.5" y="410" width="2.8" height="1692" fill="#C0C0C0"/><rect x="1115.9" y="410" width="2.8" height="1692" fill="#C0C0C0"/><rect x="1120.4" y="410" width="2.8" height="1692" fill="#C0C0C0"/><rect x="1123.9" y="410" width="2.8" height="1692" fill="#C0C0C0"/><rect x="1126.7" y="410" width="2.8" height="1692" fill="#C0C0C0"/><rect x="1129.1" y="410" width="2.8" height="1692" fill="#C0C0C0"/><rect x="1131.2" y="410" width="2.8" height="1692" fill="#C0C0C0"/><rect x="1133.1" y="410" width="2.8" height="1692" fill="#C0C0C0"/><rect x="1134.6" y="410" width="5" height="1692" fill="#C0C0C0"/><rect x="1145.5" y="410" width="2.8" height="1692" fill="#C0C0C0"/><rect x="1151.9" y="410" width="2.8" height="1692" fill="#C0C0C0"/><rect x="1156.4" y="410" width="2.8" height="1692" fill="#C0C0C0"/><rect x="1159.9" y="410" width="2.8" height="1692" fill="#C0C0C0"/><rect x="1162.7" y="410" width="2.8" height="1692" fill="#C0C0C0"/><rect x="1165.1" y="410" width="2.8" height="1692" fill="#C0C0C0"/><rect x="1167.2" y="410" width="2.8" height="1692" fill="#C0C0C0"/><rect x="1169.1" y="410" width="2.8" height="1692" fill="#C0C0C0"/><rect x="1170.6" y="410" width="5" height="1692" fill="#C0C0C0"/><rect x="1181.5" y="410" width="2.8" height="1692" fill="#C0C0C0"/><rect x="1187.9" y="410" width="2.8" height="1692" fill="#C0C0C0"/><rect x="1192.4" y="410" width="2.8" height="1692" fill="#C0C0C0"/><rect x="1195.9" y="410" width="2.8" height="1692" fill="#C0C0C0"/><rect x="1198.7" y="410" width="2.8" height="1692" fill="#C0C0C0"/><rect x="1201.1" y="410" width="2.8" height="1692" fill="#C0C0C0"/><rect x="1203.2" y="410" width="2.8" height="1692" fill="#C0C0C0"/><rect x="1205.1" y="410" width="2.8" height="1692" fill="#C0C0C0"/><rect x="1206.6" y="410" width="5" height="1692" fill="#C0C0C0"/><rect x="1217.5" y="410" width="2.8" height="1692" fill="#C0C0C0"/><rect x="1223.9" y="410" width="2.8" height="1692" fill="#C0C0C0"/><rect x="1228.4" y="410" width="2.8" height="1692" fill="#C0C0C0"/><rect x="1231.9" y="410" width="2.8" height="1692" fill="#C0C0C0"/><rect x="1234.7" y="410" width="2.8" height="1692" fill="#C0C0C0"/><rect x="1237.1" y="410" width="2.8" height="1692" fill="#C0C0C0"/><rect x="1239.2" y="410" width="2.8" height="1692" fill="#C0C0C0"/><rect x="1241.1" y="410" width="2.8" height="1692" fill="#C0C0C0"/><rect x="1242.6" y="410" width="5" height="1692" fill="#C0C0C0"/><rect x="1253.5" y="410" width="2.8" height="1692" fill="#C0C0C0"/><rect x="1259.9" y="410" width="2.8" height="1692" fill="#C0C0C0"/><rect x="1264.4" y="410" width="2.8" height="1692" fill="#C0C0C0"/><rect x="1267.9" y="410" width="2.8" height="1692" fill="#C0C0C0"/><rect x="1270.7" y="410" width="2.8" height="1692" fill="#C0C0C0"/><rect x="1273.1" y="410" width="2.8" height="1692" fill="#C0C0C0"/><rect x="1275.2" y="410" width="2.8" height="1692" fill="#C0C0C0"/><rect x="1277.1" y="410" width="2.8" height="1692" fill="#C0C0C0"/><rect x="1278.6" y="410" width="5" height="1692" fill="#C0C0C0"/><rect x="1289.5" y="410" width="2.8" height="1692" fill="#C0C0C0"/><rect x="1295.9" y="410" width="2.8" height="1692" fill="#C0C0C0"/><rect x="1300.4" y="410" width="2.8" height="1692" fill="#C0C0C0"/><rect x="1303.9" y="410" width="2.8" height="1692" fill="#C0C0C0"/><rect x="1306.7" y="410" width="2.8" height="1692" fill="#C0C0C0"/><rect x="1309.1" y="410" width="2.8" height="1692" fill="#C0C0C0"/><rect x="1311.2" y="410" width="2.8" height="1692" fill="#C0C0C0"/><rect x="1313.1" y="410" width="2.8" height="1692" fill="#C0C0C0"/>
<rect x="1059.1" y="419.3" width="220" height="2.2" fill="#C0C0C0"/><rect x="1059.1" y="452.6" width="220" height="2.2" fill="#C0C0C0"/><rect x="1059.1" y="485.9" width="220" height="2.2" fill="#C0C0C0"/><rect x="1059.1" y="519.2" width="220" height="2.2" fill="#C0C0C0"/><rect x="1059.1" y="550.9" width="220" height="5.5" fill="#C0C0C0"/><rect x="1059.1" y="585.8" width="220" height="2.2" fill="#C0C0C0"/><rect x="1059.1" y="619.1" width="220" height="2.2" fill="#C0C0C0"/><rect x="1059.1" y="652.4" width="220" height="2.2" fill="#C0C0C0"/><rect x="1059.1" y="685.7" width="220" height="2.2" fill="#C0C0C0"/><rect x="1059.1" y="717.4" width="220" height="5.5" fill="#C0C0C0"/><rect x="1059.1" y="752.3" width="220" height="2.2" fill="#C0C0C0"/><rect x="1059.1" y="785.6" width="220" height="2.2" fill="#C0C0C0"/><rect x="1059.1" y="818.9" width="220" height="2.2" fill="#C0C0C0"/><rect x="1059.1" y="852.2" width="220" height="2.2" fill="#C0C0C0"/><rect x="1059.1" y="883.9" width="220" height="5.5" fill="#C0C0C0"/><rect x="1059.1" y="918.8" width="220" height="2.2" fill="#C0C0C0"/><rect x="1059.1" y="952.1" width="220" height="2.2" fill="#C0C0C0"/><rect x="1059.1" y="985.4" width="220" height="2.2" fill="#C0C0C0"/><rect x="1059.1" y="1018.7" width="220" height="2.2" fill="#C0C0C0"/><rect x="1059.1" y="1050.3" width="220" height="5.5" fill="#C0C0C0"/><rect x="1059.1" y="1085.3" width="220" height="2.2" fill="#C0C0C0"/><rect x="1059.1" y="1118.6" width="220" height="2.2" fill="#C0C0C0"/><rect x="1059.1" y="1151.9" width="220" height="2.2" fill="#C0C0C0"/><rect x="1059.1" y="1185.2" width="220" height="2.2" fill="#C0C0C0"/><rect x="1059.1" y="1216.8" width="220" height="5.5" fill="#C0C0C0"/><rect x="1059.1" y="1251.8" width="220" height="2.2" fill="#C0C0C0"/><rect x="1059.1" y="1285.1" width="220" height="2.2" fill="#C0C0C0"/><rect x="1059.1" y="1318.4" width="220" height="2.2" fill="#C0C0C0"/><rect x="1059.1" y="1351.7" width="220" height="2.2" fill="#C0C0C0"/><rect x="1059.1" y="1383.3" width="220" height="5.5" fill="#C0C0C0"/><rect x="1059.1" y="1418.3" width="220" height="2.2" fill="#C0C0C0"/><rect x="1059.1" y="1451.6" width="220" height="2.2" fill="#C0C0C0"/><rect x="1059.1" y="1484.9" width="220" height="2.2" fill="#C0C0C0"/><rect x="1059.1" y="1518.2" width="220" height="2.2" fill="#C0C0C0"/><rect x="1059.1" y="1549.8" width="220" height="5.5" fill="#C0C0C0"/><rect x="1059.1" y="1584.8" width="220" height="2.2" fill="#C0C0C0"/><rect x="1059.1" y="1618.1" width="220" height="2.2" fill="#C0C0C0"/><rect x="1059.1" y="1651.4" width="220" height="2.2" fill="#C0C0C0"/><rect x="1059.1" y="1684.7" width="220" height="2.2" fill="#C0C0C0"/><rect x="1059.1" y="1716.3" width="220" height="5.5" fill="#C0C0C0"/><rect x="1059.1" y="1751.3" width="220" height="2.2" fill="#C0C0C0"/><rect x="1059.1" y="1784.6" width="220" height="2.2" fill="#C0C0C0"/><rect x="1059.1" y="1817.9" width="220" height="2.2" fill="#C0C0C0"/><rect x="1059.1" y="1851.2" width="220" height="2.2" fill="#C0C0C0"/><rect x="1059.1" y="1882.8" width="220" height="5.5" fill="#C0C0C0"/><rect x="1059.1" y="1917.8" width="220" height="2.2" fill="#C0C0C0"/><rect x="1059.1" y="1951.1" width="220" height="2.2" fill="#C0C0C0"/><rect x="1059.1" y="1984.4" width="220" height="2.2" fill="#C0C0C0"/><rect x="1059.1" y="2017.7" width="220" height="2.2" fill="#C0C0C0"/><rect x="1059.1" y="2049.3" width="220" height="5.5" fill="#C0C0C0"/><rect x="1059.1" y="2084.3" width="220" height="2.2" fill="#C0C0C0"/>
<polyline points="1061,405 1061,467.6 1082.5,469.1 1079.5,470.1 1061,471.6 1061,480.5 1087.9,482 1084.9,483 1061,484.5 1061,546 1083.5,547.5 1080.5,548.5 1061,550 1061,569 1075.3,570.5 1072.3,571.5 1061,573 1061,575 1072.9,576.5 1069.9,577.5 1061,579 1061,629.6 1092.1,631.1 1089.1,632.1 1061,633.6 1061,642.5 1079.3,644 1076.3,645 1061,646.5 1061,674.3 1136.1,675.8 1133.1,676.8 1061,678.3 1061,679 1116.3,680.5 1113.3,681.5 1061,683 1061,684 1100.8,685.5 1097.8,686.5 1061,688 1061,689 1125.8,690.5 1122.8,691.5 1061,693 1061,694 1138.9,695.5 1135.9,696.5 1061,698 1061,698 1120.6,699.5 1117.6,700.5 1061,702 1061,702 1103.7,703.5 1100.7,704.5 1061,706 1061,708 1101.5,709.5 1098.5,710.5 1061,712 1061,724 1087.9,725.5 1084.9,726.5 1061,728 1061,729 1168.2,730.5 1165.2,731.5 1061,733 1061,734 1127.6,735.5 1124.6,736.5 1061,738 1061,738 1149.4,739.5 1146.4,740.5 1061,742 1061,746 1096,747.5 1093,748.5 1061,750 1061,762 1119.9,763.5 1116.9,764.5 1061,766 1061,770 1076.9,771.5 1073.9,772.5 1061,774 1061,788 1094.6,789.5 1091.6,790.5 1061,792 1061,815 1096.7,816.5 1093.7,817.5 1061,819 1061,821 1104.1,822.5 1101.1,823.5 1061,825 1061,894 1146,895.5 1143,896.5 1061,898 1061,899 1125,900.5 1122,901.5 1061,903 1061,903 1147.5,904.5 1144.5,905.5 1061,907 1061,955 1117.5,956.5 1114.5,957.5 1061,959 1061,959 1107.6,960.5 1104.6,961.5 1061,963 1061,964 1136.8,965.5 1133.8,966.5 1061,968 1061,968 1105.5,969.5 1102.5,970.5 1061,972 1061,973 1118.5,974.5 1115.5,975.5 1061,977 1061,977 1116.5,978.5 1113.5,979.5 1061,981 1061,981 1141,982.5 1138,983.5 1061,985 1061,986 1113.1,987.5 1110.1,988.5 1061,990 1061,990 1117.5,991.5 1114.5,992.5 1061,994 1061,995 1101.3,996.5 1098.3,997.5 1061,999 1061,999 1123.3,1000.5 1120.3,1001.5 1061,1003 1061,1003 1106.6,1004.5 1103.6,1005.5 1061,1007 1061,1052.6 1077.7,1054.1 1074.7,1055.1 1061,1056.6 1061,1074.5 1076.6,1076 1073.6,1077 1061,1078.5 1061,1114 1091.3,1115.5 1088.3,1116.5 1061,1118 1061,1142 1118.6,1143.5 1115.6,1144.5 1061,1146 1061,1205.7 1068.7,1207.2 1065.7,1208.2 1061,1209.7 1061,1235.5 1168.8,1237 1165.8,1238 1061,1239.5 1061,1239 1128.6,1240.5 1125.6,1241.5 1061,1243 1061,1244 1181.2,1245.5 1178.2,1246.5 1061,1248 1061,1250 1115,1251.5 1112,1252.5 1061,1254 1061,1258 1162.1,1259.5 1159.1,1260.5 1061,1262 1061,1264 1089.1,1265.5 1086.1,1266.5 1061,1268 1061,1297.6 1173.7,1299.1 1170.7,1300.1 1061,1301.6 1061,1301 1134.8,1302.5 1131.8,1303.5 1061,1305 1061,1305.6 1159.8,1307.1 1156.8,1308.1 1061,1309.6 1061,1321.5 1108.8,1323 1105.8,1324 1061,1325.5 1061,1326 1090.8,1327.5 1087.8,1328.5 1061,1330 1061,1357 1206.5,1358.5 1203.5,1359.5 1061,1361 1061,1361 1145.7,1362.5 1142.7,1363.5 1061,1365 1061,1365 1175.7,1366.5 1172.7,1367.5 1061,1369 1061,1378 1075.3,1379.5 1072.3,1380.5 1061,1382 1061,1418 1079,1419.5 1076,1420.5 1061,1422 1061,1460 1095.1,1461.5 1092.1,1462.5 1061,1464 1061,1504 1162.2,1505.5 1159.2,1506.5 1061,1508 1061,1509 1124.5,1510.5 1121.5,1511.5 1061,1513 1061,1538 1109.4,1539.5 1106.4,1540.5 1061,1542 1061,1543 1101.9,1544.5 1098.9,1545.5 1061,1547 1061,1548 1105.1,1549.5 1102.1,1550.5 1061,1552 1061,1554 1100.6,1555.5 1097.6,1556.5 1061,1558 1061,1559 1107.2,1560.5 1104.2,1561.5 1061,1563 1061,1564 1108.5,1565.5 1105.5,1566.5 1061,1568 1061,1569 1107.4,1570.5 1104.4,1571.5 1061,1573 1061,1572 1104.1,1573.5 1101.1,1574.5 1061,1576 1061,1590 1197.2,1591.5 1194.2,1592.5 1061,1594 1061,1596 1165.3,1597.5 1162.3,1598.5 1061,1600 1061,1602 1119.1,1603.5 1116.1,1604.5 1061,1606 1061,1610 1099.3,1611.5 1096.3,1612.5 1061,1614 1061,1616 1091.3,1617.5 1088.3,1618.5 1061,1620 1061,1634 1193.3,1635.5 1190.3,1636.5 1061,1638 1061,1638 1166.3,1639.5 1163.3,1640.5 1061,1642 1061,1642 1207,1643.5 1204,1644.5 1061,1646 1061,1646 1184.6,1647.5 1181.6,1648.5 1061,1650 1061,1650 1200.3,1651.5 1197.3,1652.5 1061,1654 1061,1655 1185.4,1656.5 1182.4,1657.5 1061,1659 1061,2107" fill="none" stroke="#560A78" stroke-width="4.5" stroke-linejoin="round"/>
<path stroke="#560A78" stroke-width="4.6" stroke-linecap="round" fill="none" d="M1060.1 1667.6H1148.3M1070 1675.3H1148.2M1065.5 1684.5H1146M1061.1 1690.9H1127.3M1067.3 1696.4H1200.7M1059.6 1701.9H1199.9M1063.9 1709.3H1140M1068.9 1717H1157.5M1059.7 1723.8H1194.3M1064.9 1728.7H1188.1M1067.8 1734.2H1197M1068.5 1742H1129.5M1060.8 1748.9H1188.6M1064.4 1755.1H1200.9M1093.7 1768.8H1197.6M1095 1778.1H1182.8M1078.3 1785.7H1189.3M1119 1796.4H1208M1087.9 1804.5H1167.7M1110.1 1811.4H1226.1M1110.3 1818.8H1219.1M1104.2 1827.9H1218M1082.2 1836.3H1155.3M1104.3 1845.9H1145.7M1102.1 1856.4H1160M1096.5 1861.9H1143.5M1163.7 1873.7H1195.4M1144.9 1882.3H1195.3M1164.1 1890.7H1186.5M1165.8 1899.5H1196.7M1169.3 1909H1191.5M1162.8 1916.3H1232.6M1155.6 1923.4H1220.6M1129.6 1931.7H1223.9M1154.3 1939.3H1204.1M1159.7 1947.1H1216M1122.4 1955.4H1189.8M1153.5 1962.3H1193M1152.5 1970.4H1183.3M1132.3 1977.4H1184M1136.9 1982.9H1191M1122.8 1988.6H1206.6M1151.6 1995.2H1213.5M1121 2007.2H1188.3M1137.4 2013.4H1172.3M1136 2022.2H1168M1124.8 2029.9H1196M1144.2 2036.3H1218.7M1137.8 2045.1H1210.7M1135.8 2052.9H1173.8M1143.6 2060.6H1218.6M1145.3 2070H1185.3M1121 2079.1H1171.9M1145.6 2086.7H1173.7M1156.7 2094.5H1186.7M1130.1 2101.3H1182"/>
<polyline points="1104.2,1667.6 1109.1,1675.3 1105.8,1684.5 1094.2,1690.9 1134,1696.4 1129.8,1701.9 1101.9,1709.3 1113.2,1717 1127,1723.8 1126.5,1728.7 1132.4,1734.2 1099,1742 1124.7,1748.9 1132.7,1755.1 1145.6,1768.8 1138.9,1778.1 1133.8,1785.7 1163.5,1796.4 1127.8,1804.5 1168.1,1811.4 1164.7,1818.8 1161.1,1827.9 1118.7,1836.3 1125,1845.9 1131.1,1856.4 1120,1861.9 1179.5,1873.7 1170.1,1882.3 1175.3,1890.7 1181.2,1899.5 1180.4,1909 1197.7,1916.3 1188.1,1923.4 1176.8,1931.7 1179.2,1939.3 1187.9,1947.1 1156.1,1955.4 1173.3,1962.3 1167.9,1970.4 1158.1,1977.4 1163.9,1982.9 1164.7,1988.6 1182.5,1995.2 1154.7,2007.2 1154.9,2013.4 1152,2022.2 1160.4,2029.9 1181.5,2036.3 1174.2,2045.1 1154.8,2052.9 1181.1,2060.6 1165.3,2070 1146.5,2079.1 1159.7,2086.7 1171.7,2094.5 1156,2101.3" fill="none" stroke="#560A78" stroke-width="1.6" opacity="0.8"/>
<path transform="scale(1.3,1)" stroke="#0505E0" stroke-width="10" stroke-linecap="round" d="M837.2 718.2h0M828.7 727.5h0M845.4 727.1h0M831 733.8h0M852.1 758.5h0M842.7 759.5h0M853.3 743h0M859.1 757.8h0M859.7 759.4h0M861.6 756.3h0M861 753.4h0M839.4 741.7h0M857.5 758.6h0M894 716.4h0M822.7 746.7h0M863.4 748.8h0M860 720.6h0M856.4 720.6h0M833.8 752.5h0M888.8 727.3h0M868.2 752.1h0M850.3 749.3h0M826.3 754.5h0M825.1 754.8h0M884.9 759.8h0M837.3 717.5h0M893.8 790.5h0M868.1 809.3h0M871.6 801.6h0M858.2 788.5h0M822 782.1h0M823.2 811.6h0M866.9 810.7h0M842.7 818.4h0M868.1 802.2h0M852.1 819.6h0M824.7 780.8h0M837.4 780.1h0M866.5 818.2h0M854.3 818.5h0M855.3 818.4h0M842.1 830.3h0M844.3 818.8h0M842.5 796.6h0M882.8 814.8h0M843.4 828h0M878.1 797.3h0M837 766.3h0M837.8 756.9h0M831.6 824.4h0M824.7 800.9h0M854.7 825.4h0M830 789.4h0M864.3 799.7h0M840.4 768.9h0M858.6 814.7h0M855.2 785.3h0M849.8 785h0M834 769.5h0M823.5 768.2h0M829.4 800h0M832.8 800.2h0M864.6 939.9h0M865.7 945.3h0M825.9 838.4h0M823.2 840.8h0M838.4 999.9h0M837.2 979.2h0M835.8 971.6h0M878.2 930.9h0M878.9 940.4h0M861.5 866.5h0M897.2 838.2h0M886.8 839.5h0M899.2 995.1h0M875.2 864.8h0M862.9 1005.3h0M921.6 896.5h0M889.7 963.3h0M899.8 960.5h0M918.7 919.8h0M912.2 922.3h0M866.3 867.7h0M890.9 931.1h0M849.8 934.4h0M824.4 973.1h0M869.1 884.4h0M867.4 892.8h0M841.6 950.1h0M825.3 981h0M906.1 876.5h0M875.8 875.7h0M886.1 831.2h0M915.4 867h0M899.7 885.3h0M896.8 887.1h0M898.2 896.1h0M864.1 897.7h0M918.6 955.1h0M918.8 894.9h0M823.4 957h0M832.1 891h0M848 843.5h0M928.1 858.8h0M884.4 854h0M856.3 905.1h0M873.1 886.8h0M870.5 960.4h0M888.3 842.9h0M902.4 893.1h0M899.2 976.7h0M877.7 948.9h0M861.4 900.8h0M838.4 897.8h0M881.6 865.8h0M833.4 995.3h0M833.3 990.4h0M834.7 921.5h0M843.1 920.5h0M842.6 966.4h0M883.8 918h0M908.3 1005.9h0M901.4 992h0M914.9 926.2h0M912 925.5h0M916.6 957.9h0M925.9 896.2h0M869 907.6h0M821.1 981.8h0M876.1 841.8h0M882.3 841.1h0M845 860.9h0M832.5 900.4h0M848.6 876.1h0M869.1 866.8h0M864 866.5h0M879.8 904h0M821.9 905.1h0M892.3 917.5h0M854.9 868h0M883.7 887.9h0M879.5 883.1h0M826.1 1019.1h0M890 1235.1h0M827.6 1019.2h0M835 1055.9h0M835.2 1058.1h0M832.3 1095.5h0M842.8 1093.3h0M829.4 1103h0M864.8 1103.3h0M866 1101h0M831.9 1107.8h0M855 1083.9h0M844.2 1092.4h0M828.1 1201.4h0M846.3 1036.8h0M885.9 1107.5h0M849.6 1050.1h0M835 1023.2h0M825.7 1042.6h0M824.2 1062.9h0M821.6 1062.6h0M832.8 1185.2h0M839.6 1020.2h0M824.7 1032.9h0M839.7 1212.4h0M828.6 1185.4h0M824.7 1188.5h0M885.6 1173.7h0M865.7 1185.1h0M822.4 1153.4h0M835.8 1020.4h0M866 1230h0M860.1 1147.1h0M863.6 1149.7h0M826.1 1216.6h0M821.4 1221h0M838.9 1014.4h0M830.2 1153.5h0M864.6 1120.6h0M849 1033.1h0M840.7 1063h0M847 1210.7h0M854.8 1230.4h0M848.6 1073.9h0M854.9 1078.6h0M834.6 1219.9h0M843.9 1025.1h0M857.5 1088.5h0M838 1074.9h0M820.9 1193.7h0M826.1 1195.7h0M848.6 1158h0M861.7 1070.9h0M862.3 1064.3h0M864.8 1043.5h0M824 1199.3h0M823 1192.6h0M842.9 1040.3h0M846.5 1110.3h0M828.9 1022.6h0M830 1020h0M821.5 1020.5h0M828.7 1014.2h0M823.6 1110.3h0M865.1 1214.2h0M827.5 1157.6h0M836.3 1165.7h0M822.9 1082h0M844.9 1213.3h0M842.8 1217.2h0M859.8 1186.6h0M822.9 1169h0M822.9 1169.7h0M837.6 1023.3h0M894 1170.5h0M886.7 1163.4h0M849.1 1179.3h0M848.6 1226.3h0M849.8 1097.2h0M842.3 1092.3h0M851 1100.7h0M856.5 1124.4h0M851.4 1132.6h0M851.1 1132.5h0M825.3 1199.1h0M834.9 1186.5h0M821.2 1044.5h0M887.8 1038.6h0M881.4 1039.5h0M839.1 1032.4h0M837.6 1030.8h0M826.9 1143.7h0M821 1071.4h0M832.5 1130.8h0M821.5 1117.6h0M823.7 1115.6h0M843.7 1134h0M848.5 1124.6h0M833.5 1201.4h0M837.6 1201.2h0M861.2 1342.1h0M855.5 1343.8h0M856.9 1342.2h0M857.5 1372.6h0M827.4 1282.7h0M848.1 1331.9h0M828.4 1435.7h0M825.9 1261h0M827 1266h0M824.4 1261.4h0M822.6 1429.3h0M825.1 1422.6h0M827.9 1425.5h0M849.1 1326h0M856.7 1333.1h0M822.8 1251.7h0M828.6 1256.6h0M849.2 1432.4h0M843.4 1425.7h0M835.4 1381.4h0M842.3 1377.1h0M836.2 1373h0M841.5 1380.5h0M832.4 1352.7h0M841 1349.9h0M823.1 1361.8h0M820.9 1363.6h0M828.3 1364.6h0M825.9 1356.8h0M861.6 1254.1h0M856.6 1256.8h0M852.3 1247.8h0M853.2 1339h0M825.1 1312.9h0M849.8 1412.4h0M851.5 1409.6h0M860.1 1417.7h0M841.9 1284.4h0M839.2 1286h0M826.6 1285.6h0M826.2 1367.2h0M824.1 1360.3h0M828.9 1370h0M825.9 1339.6h0M827.7 1348.8h0M821.2 1348.9h0M823.9 1340.5h0M846.6 1425.7h0M845.9 1422h0M847.2 1415.8h0M846.8 1422.9h0M850.7 1423.7h0M824.4 1450.7h0M828.4 1447.8h0M821.6 1301.9h0M824 1402.8h0M847.4 1356h0M839.8 1363.1h0M844.2 1358.6h0M850.3 1332.4h0M855.5 1334.2h0M823.4 1346.7h0M820.8 1259.4h0M822.4 1262.4h0M847.5 1433h0M843.5 1321.4h0M846.8 1436h0M834.8 1309.7h0M841.1 1339.1h0M823.8 1279.5h0M828.1 1273.8h0M829.8 1275.6h0M835.5 1273.9h0M824.6 1300.7h0M824.4 1298.1h0M846.8 1371h0M846.4 1376.2h0M840.3 1376h0M844.5 1380.1h0M861.6 1321h0M824.3 1393.3h0M835.7 1406.2h0M834.4 1257h0M835.5 1390h0M825.4 1391.1h0M821.8 1386.1h0M831.4 1384.7h0M825.7 1250.5h0M821.7 1250.5h0M836 1332.8h0M830.6 1327.5h0M843.7 1286h0M846.9 1286.3h0M843.3 1279.4h0M847.7 1245h0M851.7 1247.2h0M829.2 1446.2h0M858.5 1304.2h0M822 1351.6h0M824.2 1351.7h0M823.1 1351.7h0M824 1346.3h0M882.2 1257.6h0M864.5 1248.7h0M837.7 1427.7h0M828.1 1412.3h0M832.5 1327.4h0M841.2 1285.8h0M852.6 1287.5h0M851.1 1290h0M846.1 1288.2h0M850.5 1347.5h0M827.2 1355.6h0M820.9 1359.3h0M825.1 1360.7h0M824.5 1352.9h0M855.6 1294.7h0M845.1 1293h0M843.1 1291.8h0M823.1 1364.6h0M824 1646.5h0M828.3 1639.9h0M826.4 1636.3h0M834.7 1600.5h0M834.1 1600.3h0M839.3 1605.6h0M824.3 1601.6h0M823 1549.1h0M829.2 1553h0M832.9 1546.7h0M832.6 1554h0M835.8 1599.9h0M850.2 1469.9h0M848.5 1480.2h0M846.8 1484.6h0M847 1477.5h0M847.5 1484.2h0M821 1517.1h0M837.8 1640.9h0M834.3 1516.7h0M837.6 1520.8h0M835.6 1520.2h0M834.2 1524.2h0M832.7 1641h0M824.8 1642.6h0M887.4 1482h0M880.1 1482.9h0M882.1 1483.5h0M888.1 1482.8h0M825.9 1546.7h0M859.2 1475.8h0M851.5 1475.4h0M823.4 1582.1h0M850.9 1523.5h0M855.3 1458.5h0M853.7 1466.8h0M836.3 1663.9h0M834.3 1507.9h0M838.1 1510.8h0M841.7 1513.6h0M836.1 1509.2h0M841.8 1568.2h0M840.8 1566.8h0M835.7 1485.1h0M831.4 1483.4h0M862.5 1521.7h0M867.2 1518.2h0M866.9 1514.1h0M845.6 1547.2h0M834.6 1551.3h0M834.8 1541.7h0M835.8 1619h0M869 1547.7h0M825 1492.9h0M834 1499.3h0M830.5 1496.8h0M821 1498.1h0M830.3 1541.6h0M833.4 1537h0M845 1606.2h0M851.5 1601.1h0M835.3 1621.8h0M822.4 1511.7h0M870.4 1643.8h0M875.5 1644.1h0M857.1 1494.8h0M847.7 1497.2h0M854.3 1499.4h0M850.4 1500.1h0M853.3 1565.2h0M854.3 1568.3h0M843.8 1564.6h0M838 1617.9h0M828.9 1475.1h0M830.1 1483.2h0M825 1474.8h0M825.7 1473.3h0M840.1 1526.5h0M867.7 1554.3h0M848 1618.7h0M848.3 1612.5h0M842 1615.1h0M846.2 1614.9h0M854.8 1522.6h0M847.2 1518.7h0M859.2 1559.7h0M846.7 1662.9h0M846.6 1522.4h0M854.2 1518h0M857.3 1527.4h0M827.1 1644h0M821.4 1651.2h0M831 1616.3h0M832.8 1620.7h0M830.2 1621.7h0M841.3 1457.1h0M834.5 1453.2h0M832 1460.1h0M861.7 1657.2h0M821.8 1530.5h0M861 1497.8h0M844.4 1574.2h0M848.6 1565.7h0M847.8 1573.7h0M850 1572.9h0M844.9 1527.6h0M823.6 1637.4h0M829.7 1635h0M825.3 1583.7h0M826.4 1591.4h0M823 1586.8h0M865.8 1824.1h0M866.7 1827.8h0M861.9 1828.6h0M851.2 1749.6h0M913.4 1784.1h0M920.9 1783.9h0M915.3 1785.2h0M912 1778.2h0M846.5 1821.3h0M824.1 1825.9h0M829.8 1830h0M831.3 1828.7h0M870 1701.5h0M876.6 1695.4h0M902.4 1746.2h0M905.6 1749.6h0M841.9 1834.5h0M832 1842.9h0M830.1 1840.2h0M841 1841.9h0M843.5 1722.6h0M850.8 1723.5h0M851.5 1729.5h0M836.2 1688h0M905.1 1752.1h0M840.1 1819.8h0M875 1807.7h0M897.8 1801.4h0M889.8 1756.6h0M889.6 1763.3h0M888.9 1760.1h0M889 1677.8h0M914.8 1713.7h0M908.7 1781.8h0M902 1775.8h0M904.9 1773.4h0M903.5 1780.8h0M834.6 1788.1h0M834.5 1796.9h0M825.9 1786.9h0M833.3 1796.1h0M832.1 1828.2h0M886.8 1847.2h0M896.3 1671.7h0M891.5 1668.6h0M889 1670.3h0M886.5 1670.9h0M855.5 1782.7h0M877 1668.9h0M874 1661.5h0M885.7 1854.3h0M879.3 1851.6h0M883.4 1852.1h0M850.8 1813.9h0M845.9 1810.4h0M848.6 1815.3h0M847.5 1810.5h0M909.7 1729.6h0M864 1773.2h0M828.6 1746.4h0M821.9 1745.1h0M869.3 1791.2h0M867.3 1813.7h0M865.1 1815.7h0M872.7 1815.3h0M850.5 1823.7h0M843.5 1830.9h0M847.3 1825h0M851.8 1823.5h0M923.1 1872.3h0M923.5 1865.7h0M913 1868.3h0M866.5 1766.3h0M856.9 1759.8h0M865.2 1766.8h0M853.5 1763h0M843.7 1740.8h0M831.9 1744.7h0M837 1746h0M871.3 1749.9h0M934.4 1777.4h0M934.6 1781.5h0M826 1785.9h0M876.4 1842.8h0M866.8 1846.6h0M837.2 1757.4h0M838.2 1764.6h0M827.3 1758.7h0M866 1686.9h0M866.3 1696.3h0M868.1 1689.9h0M870.9 1692.6h0M898.9 1749.2h0M895.1 1750.8h0M901.3 1742.8h0M854.9 1857.3h0M851.1 1863.8h0M849.5 1758.4h0M886.7 1758.9h0M885 1757.4h0M895.2 1698h0M900.7 1696.3h0M905.3 1703h0M902.7 1700.5h0M828.8 1809.3h0M888.5 1721.8h0M849.6 1825.2h0M861.4 1823.7h0M878.6 1726.1h0M831.3 1700.7h0M831.1 1698.6h0M934 1910.9h0M891.6 1980.2h0M918.8 1951.2h0M890.4 1917.1h0M885.4 1917h0M889.2 1911.4h0M936.3 2027.6h0M883.1 2101.2h0M909.6 1892.8h0M908.9 1893.7h0M916.3 1899.7h0M907.8 1897.6h0M908.6 1898.5h0M918.4 1896.7h0M873.6 1927h0M872.7 2063.1h0M872.4 2066.1h0M873.8 2057.9h0M870 2056.7h0M931.6 1921.8h0M933.2 1919.2h0M927.2 1922.8h0M885.6 2013.3h0M884.2 2019.8h0M889.2 2016.1h0M887.4 2018.1h0M970.4 2023.5h0M965.6 2022.5h0M972.4 2024.5h0M916 1987.6h0M918.8 1989.5h0M883.3 2040.2h0M881 2039.9h0M910.8 1970.6h0M904.5 1899.7h0M911.3 1906.7h0M934.5 1933.6h0M931.4 1932.1h0M929.3 1936.5h0M923.7 1935h0M916.6 1981.8h0M915.7 1985.8h0M936.8 1964.2h0M923.7 1955.9h0M897.3 1969.3h0M893.9 1971.9h0M885.8 1978.2h0M956.6 2079.6h0M952.4 2080.7h0M954.9 2083.2h0M947.3 2075.4h0M887.5 1996h0M887.7 1991.9h0M890.9 2060.7h0M905.3 2082.7h0M900.2 2084.8h0M876.7 1972.9h0M877.7 1966.9h0M883.2 1967h0M940 2046.1h0M965.4 1961h0M969.1 1950h0M970.6 1960.3h0M961.8 1956.9h0M945 1972.2h0M891.5 2061.4h0M926 2029.8h0M883.4 2083.4h0M882.3 2079.5h0M937.5 2057h0M928.4 2054.6h0M931.4 2065.4h0M893.1 2036.7h0M970.8 1961.3h0M888.3 2046.7h0M885.4 2046.8h0M892.4 2043.8h0M895.5 2089.2h0M897.8 2084.5h0M893.3 2083.3h0M893.1 2084.1h0M870.9 1888.5h0M890.2 2066.6h0M946.8 1923.3h0M945.4 1928.3h0M945.6 1928.6h0M952.2 1929.1h0M889.2 2048.6h0M973 1892.5h0M968 1890.2h0M962.6 1890.9h0M974.8 1886.2h0M933.7 2013.2h0M940.5 2015.1h0M876.7 2005.3h0M913.9 1954.8h0M882.7 1953.3h0M876.4 1895.5h0M873.1 1899.2h0M909.6 1971.8h0M910.4 1969.1h0M900.7 1973.5h0M902.6 1973h0M947.7 2074.6h0M948.8 2077.9h0M949.1 2082.7h0M939 2076h0M917.5 2075.3h0M913.8 2077.7h0M917.7 2078.3h0M938.1 1940.9h0M941.1 1941.7h0M942.9 1937.9h0M944 1937.3h0M844.7 1947.4h0M847.3 1939.6h0M924 1984.1h0M910.3 2057.8h0M957.6 2060.3h0M918.6 2059h0M926.4 2053h0M922.4 2061h0M916.9 2063.6h0M960.8 2067.9h0M956.5 2068.9h0M948.1 1999.5h0M951.5 1987.9h0M948.7 1990.8h0M945.7 1995.2h0M878.8 2091.2h0M883.8 2092.8h0"/>
</g>
<g clip-path="url(#cl5)" fill="#006400" stroke="#000" stroke-width="2.1" stroke-linejoin="round">
<path d="M849,406v-10.4l2,-0.4l2,-0.3l2,-0.4l2,-0.4l2,-0.3l2,-0.3l2,-0.3l2,-0.2l2,-0.3l2,-0.2l2,-0.2l2,-0.1l2,-0.1l2,-0.1l2,0l2,0l2,0l2,0.1l2,0.1l2,0.1l2,0.2l2,0.2l2,0.3l2,0.2l2,0.3l2,0.3l2,0.3l2,0.4l2,0.4l2,0.3l2,0.4l2,0.4l2,0.5l2,0.4l2,0.4l2,0.4l2,0.4l2,0.5l2,0.4l2,0.4l2,0.4l2,0.4l2,0.4l2,0.3l2,0.4l2,0.3l2,0.3l2,0.4l2,0.2l2,0.3l2,0.3l2,0.2l2,0.3l2,0.2l2,0.2l2,0.1l2,0.2l2,0.2l2,0.1l2,0.1l2,0.1l2,0.1l2,0.1l2,0.1l2,0l2,0l2,0.1l2,0l2,0l2,-0.1l2,0l2,0l2,-0.1l2,-0.1l2,0l2,-0.1l2,-0.2l2,-0.1l2,-0.1l2,-0.2l2,-0.1l2,-0.2l2,-0.2l2,-0.2l2,-0.2l2,-0.2l2,-0.2l2,-0.2l2,-0.2l2,-0.3l2,-0.2l2,-0.2l2,-0.2l2,-0.2l2,-0.2l2,-0.2l2,-0.2l2,-0.2l2,-0.1l2,-0.2l2,-0.1l2,-0.1l2,0l2,-0.1l2,0l2,0l2,0V406"/>
<path d="M849,423.8v-17.6l2,-0.9l2,-0.9l2,-0.8l2,-0.8l2,-0.8l2,-0.7l2,-0.6l2,-0.6l2,-0.6l2,-0.5l2,-0.4l2,-0.3l2,-0.2l2,-0.2l2,-0.1l2,0l2,0.1l2,0.2l2,0.2l2,0.3l2,0.4l2,0.5l2,0.6l2,0.6l2,0.6l2,0.7l2,0.8l2,0.8l2,0.8l2,0.9l2,0.9l2,0.8l2,0.9l2,0.9l2,0.9l2,0.9l2,0.9l2,0.8l2,0.8l2,0.8l2,0.8l2,0.7l2,0.7l2,0.7l2,0.6l2,0.6l2,0.5l2,0.5l2,0.5l2,0.4l2,0.4l2,0.4l2,0.3l2,0.3l2,0.3l2,0.2l2,0.2l2,0.2l2,0.1l2,0.2l2,0.1l2,0.1l2,0l2,0.1l2,0l2,0l2,0l2,0l2,-0.1l2,0l2,-0.1l2,-0.1l2,0l2,-0.1l2,-0.2l2,-0.1l2,-0.1l2,-0.2l2,-0.2l2,-0.1l2,-0.2l2,-0.2l2,-0.2l2,-0.3l2,-0.2l2,-0.2l2,-0.3l2,-0.2l2,-0.3l2,-0.2l2,-0.3l2,-0.3l2,-0.3l2,-0.2l2,-0.3l2,-0.3l2,-0.2l2,-0.3l2,-0.2l2,-0.3l2,-0.2l2,-0.2l2,-0.2l2,-0.2l2,-0.2l2,-0.2l2,-0.1V423.8"/>
<path d="M849,441.5v-1.1l2,-0.3l2,-0.4l2,-0.5l2,-0.5l2,-0.6l2,-0.8l2,-0.8l2,-1l2,-1l2,-1.2l2,-1.2l2,-1.3l2,-1.4l2,-1.4l2,-1.4l2,-1.3l2,-1.3l2,-1.2l2,-1l2,-0.9l2,-0.7l2,-0.4l2,-0.3l2,0l2,0.3l2,0.4l2,0.7l2,0.9l2,1l2,1.2l2,1.3l2,1.3l2,1.4l2,1.4l2,1.4l2,1.3l2,1.2l2,1.2l2,1l2,1l2,0.8l2,0.8l2,0.6l2,0.5l2,0.5l2,0.3l2,0.3l2,0l2,-0.3l2,-0.7l2,-1.3l2,-2l2,-2.7l2,-3l2,-3l2,-2.1l2,-0.7l2,0.8l2,2.1l2,3l2,3.1l2,2.8l2,2.1l2,1.4l2,0.9l2,0.4l2,0.4h2l2,-0.4l2,-0.6l2,-1l2,-1.6l2,-2.1l2,-1.9l2,-1.2l2,0l2,1.2l2,1.9l2,2.1l2,1.6l2,1l2,0.6l2,0.4h48V441.5"/>
<path d="M849,459.3v-7.4l2,-0.3l2,-0.3l2,-0.2l2,-0.3l2,-0.2l2,-0.2l2,-0.2l2,-0.2l2,-0.2l2,-0.1l2,-0.2l2,0l2,-0.1l2,-0.1l2,0l2,0l2,0l2,0.1l2,0l2,0.1l2,0.1l2,0.1l2,0.1l2,0.2l2,0.1l2,0l2,0.1l2,0l2,0l2,-0.2l2,-0.2l2,-0.4l2,-0.4l2,-0.7l2,-0.8l2,-0.9l2,-1.1l2,-1.2l2,-1.4l2,-1.4l2,-1.5l2,-1.4l2,-1.3l2,-1.3l2,-1l2,-0.7l2,-0.5l2,-0.1l2,0.2l2,0.5l2,0.9l2,1.2l2,1.4l2,1.7l2,1.7l2,1.9l2,1.9l2,1.8l2,1.7l2,1.7l2,1.5l2,1.3l2,1.2l2,1l2,0.8l2,0.7l2,0.6l2,0.4l2,0.4l2,0.2l2,0.2l2,0.2l2,0.1l2,0.1l2,0.3h28l2,-0.4l2,-0.2l2,-0.4l2,-0.5l2,-0.6l2,-0.6l2,-0.6l2,-0.4l2,-0.3l2,0l2,0.3l2,0.4l2,0.6l2,0.6l2,0.6l2,0.5l2,0.4l2,0.2V459.3"/>
<path d="M849,477.1v-9.3l2,-1.1l2,-1.1l2,-1.1l2,-1.2l2,-1.1l2,-1.1l2,-1.1l2,-1.1l2,-0.9l2,-0.9l2,-0.8l2,-0.7l2,-0.5l2,-0.4l2,-0.2l2,-0.1l2,0.1l2,0.2l2,0.4l2,0.5l2,0.7l2,0.8l2,0.9l2,0.9l2,1.1l2,1.1l2,1.1l2,1.1l2,1.2l2,1.1l2,1.1l2,1.1l2,1l2,0.9l2,0.9l2,0.8l2,0.8l2,0.7l2,0.6l2,0.5l2,0.5l2,0.4l2,0.3l2,0.2l2,0.2l2,0.1l2,0l2,-0.1l2,-0.3l2,-0.4l2,-0.5l2,-0.7l2,-0.9l2,-1.1l2,-1.1l2,-1.3l2,-1.3l2,-1.3l2,-1.2l2,-1l2,-0.8l2,-0.4l2,-0.2l2,0.2l2,0.5l2,0.8l2,1l2,1.2l2,1.3l2,1.3l2,1.3l2,1.2l2,1.1l2,0.9l2,0.8l2,0.6l2,0.5l2,0.4l2,0.3l2,0.2l2,0.1l2,0.3h38l2,-0.3l2,-0.3l2,-0.7l2,-1.1l2,-1.4l2,-1.3V477.1"/>
<path d="M849,494.8v-3.9l2,-0.4l2,-0.5l2,-0.4l2,-0.5l2,-0.5l2,-0.5l2,-0.5l2,-0.5l2,-0.5l2,-0.6l2,-0.5l2,-0.5l2,-0.5l2,-0.5l2,-0.5l2,-0.4l2,-0.5l2,-0.3l2,-0.4l2,-0.3l2,-0.3l2,-0.2l2,-0.1l2,-0.1l2,-0.1l2,0l2,0.1l2,0.1l2,0.1l2,0.2l2,0.3l2,0.3l2,0.4l2,0.3l2,0.5l2,0.4l2,0.5l2,0.5l2,0.5l2,0.5l2,0.5l2,0.6l2,0.5l2,0.5l2,0.5l2,0.5l2,0.5l2,0.5l2,0.4l2,0.5l2,0.4l2,0.3l2,0.4l2,0.3l2,0.3l2,0.3l2,0.2l2,0.3l2,0.1l2,0.2l2,0.1l2,0l2,0l2,-0.1l2,-0.2l2,-0.4l2,-0.4l2,-0.5l2,-0.7l2,-0.7l2,-0.9l2,-0.9l2,-0.9l2,-0.9l2,-0.7l2,-0.7l2,-0.4l2,-0.2l2,0l2,0.2l2,0.5l2,0.7l2,0.8l2,0.9l2,0.9l2,1l2,0.9l2,0.8l2,0.7l2,0.6l2,0.5l2,0.4l2,0.3l2,0.3l2,0.1l2,0.4h22V494.8"/>
<path d="M849,512.6v-20.6l2,-2.6l2,-2.3l2,-2l2,-1.7l2,-1.1l2,-0.6l2,0l2,0.6l2,1.1l2,1.7l2,2l2,2.3l2,2.6l2,2.6l2,2.6l2,2.4l2,2.3l2,2l2,1.8l2,1.6l2,1.2l2,1l2,0.9l2,0.6l2,0.5l2,0.3l2,0.3l2,0.1l2,0.4h10l2,-0.3l2,-0.6l2,-1.2l2,-2.4l2,-4.1l2,-5.9l2,-7.4l2,-7.4l2,-5.6l2,-2.1l2,2.1l2,5.6l2,7.4l2,7.4l2,5.9l2,4.1l2,2.4l2,1.2l2,0.6l2,0.3h106V512.6"/>
<path d="M849,530.4v-5.1l2,-0.8l2,-0.9l2,-0.9l2,-1l2,-1l2,-1l2,-1.1l2,-1.1l2,-1.1l2,-1l2,-1l2,-0.9l2,-0.8l2,-0.7l2,-0.6l2,-0.5l2,-0.3l2,-0.2l2,0l2,0.2l2,0.3l2,0.4l2,0.6l2,0.8l2,0.8l2,0.9l2,1l2,1l2,1.1l2,1l2,1.1l2,1l2,1l2,0.9l2,0.9l2,0.8l2,0.7l2,0.6l2,0.5l2,0.4l2,0.4l2,0.2l2,0.2l2,0.1l2,0l2,-0.1l2,-0.2l2,-0.2l2,-0.3l2,-0.4l2,-0.4l2,-0.5l2,-0.5l2,-0.5l2,-0.6l2,-0.6l2,-0.5l2,-0.6l2,-0.6l2,-0.5l2,-0.5l2,-0.5l2,-0.4l2,-0.4l2,-0.2l2,-0.2l2,-0.2l2,0l2,0l2,0.2l2,0.2l2,0.2l2,0.4l2,0.4l2,0.5l2,0.5l2,0.5l2,0.6l2,0.6l2,0.6l2,0.6l2,0.6l2,0.6l2,0.6l2,0.5l2,0.5l2,0.5l2,0.4l2,0.4l2,0.4l2,0.3l2,0.3l2,0.2l2,0.3l2,0.1l2,0.2l2,0.2l2,0.1l2,0.1l2,0.1l2,0l2,0.3h10V530.4"/>
<path d="M849,548.1v-4.4l2,-0.1l2,-0.1l2,-0.1l2,-0.1l2,-0.1l2,-0.1l2,-0.1l2,-0.1l2,-0.1l2,-0.1l2,0l2,-0.1l2,-0.1l2,-0.1l2,-0.1l2,0l2,-0.1l2,-0.1l2,-0.1l2,-0.1l2,-0.1l2,-0.1l2,-0.1l2,-0.2l2,-0.1l2,-0.2l2,-0.2l2,-0.2l2,-0.3l2,-0.3l2,-0.3l2,-0.4l2,-0.4l2,-0.5l2,-0.5l2,-0.5l2,-0.6l2,-0.6l2,-0.6l2,-0.7l2,-0.7l2,-0.7l2,-0.7l2,-0.6l2,-0.7l2,-0.6l2,-0.6l2,-0.5l2,-0.5l2,-0.4l2,-0.3l2,-0.2l2,-0.1l2,-0.1l2,0.1l2,0.2l2,0.2l2,0.4l2,0.4l2,0.5l2,0.6l2,0.6l2,0.6l2,0.7l2,0.6l2,0.7l2,0.7l2,0.7l2,0.6l2,0.6l2,0.6l2,0.5l2,0.5l2,0.5l2,0.4l2,0.4l2,0.3l2,0.3l2,0.3l2,0.2l2,0.3l2,0.2l2,0.2l2,0.1l2,0.2l2,0.2l2,0.1l2,0.2l2,0.2l2,0.1l2,0.2l2,0.2l2,0.2l2,0.2l2,0.2l2,0.2l2,0.2l2,0.2l2,0.3l2,0.2l2,0.2l2,0.2l2,0.2l2,0.2l2,0.2l2,0.2l2,0.2V548.1"/>
<path d="M849,565.9v-17.6l2,-1l2,-0.8l2,-0.8l2,-0.6l2,-0.5l2,-0.4l2,-0.2l2,-0.1l2,0.1l2,0.2l2,0.4l2,0.5l2,0.6l2,0.8l2,0.8l2,1l2,1l2,1.1l2,1l2,1.2l2,1.1l2,1.1l2,1l2,1.1l2,0.9l2,1l2,0.8l2,0.8l2,0.7l2,0.7l2,0.6l2,0.5l2,0.5l2,0.4l2,0.3l2,0.3l2,0.2l2,0.2l2,0.1l2,0l2,0l2,-0.1l2,-0.3l2,-0.4l2,-0.5l2,-0.8l2,-0.9l2,-1.1l2,-1.3l2,-1.4l2,-1.6l2,-1.6l2,-1.5l2,-1.5l2,-1.2l2,-1l2,-0.6l2,-0.2l2,0.2l2,0.6l2,1l2,1.2l2,1.5l2,1.5l2,1.7l2,1.5l2,1.5l2,1.3l2,1.1l2,1l2,0.7l2,0.6l2,0.5l2,0.4l2,0.2l2,0.2l2,0.3h50l2,-0.3l2,-0.2l2,-0.5l2,-0.5l2,-0.7V565.9"/>
<path d="M849,583.7v-12l2,-1l2,-1l2,-0.8l2,-0.8l2,-0.6l2,-0.4l2,-0.3l2,-0.1l2,0.1l2,0.3l2,0.4l2,0.6l2,0.8l2,0.8l2,1l2,1l2,1l2,1.1l2,1.1l2,1l2,1l2,0.9l2,0.9l2,0.8l2,0.7l2,0.6l2,0.5l2,0.5l2,0.3l2,0.4l2,0.2l2,0.3l2,0.1l2,0.2l2,0.1l2,0.3h18l2,-0.4l2,-0.3l2,-0.4l2,-0.5l2,-0.8l2,-1.1l2,-1.4l2,-1.7l2,-2.1l2,-2.3l2,-2.5l2,-2.6l2,-2.5l2,-2.2l2,-1.7l2,-1.1l2,-0.4l2,0.4l2,1.1l2,1.7l2,2.2l2,2.5l2,2.6l2,2.5l2,2.3l2,2.1l2,1.7l2,1.4l2,1.1l2,0.8l2,0.5l2,0.4l2,0.3l2,0.4h46l2,-0.3l2,-0.4l2,-0.9l2,-1.2l2,-1.6V583.7"/>
<path d="M849,601.5v-4.8l2,-0.3l2,-0.3l2,-0.4l2,-0.2l2,-0.3l2,-0.2l2,-0.2l2,-0.1l2,-0.1l2,-0.1l2,0l2,0.1l2,0.1l2,0.1l2,0.2l2,0.2l2,0.3l2,0.2l2,0.3l2,0.4l2,0.3l2,0.4l2,0.3l2,0.3l2,0.4l2,0.3l2,0.2l2,0.2l2,0.2l2,0.1l2,0l2,0l2,-0.2l2,-0.3l2,-0.5l2,-0.7l2,-0.8l2,-1.1l2,-1.3l2,-1.6l2,-1.8l2,-2l2,-2.2l2,-2.3l2,-2.4l2,-2.4l2,-2.4l2,-2.2l2,-2.1l2,-1.7l2,-1.4l2,-0.9l2,-0.6l2,-0.1l2,0.2l2,0.7l2,0.9l2,1.1l2,1.4l2,1.4l2,1.4l2,1.3l2,1.3l2,1.2l2,1.1l2,0.9l2,0.9l2,0.7l2,0.8l2,0.8l2,0.8l2,0.8l2,1l2,1l2,1l2,1.1l2,1.2l2,1.1l2,1.2l2,1.1l2,1l2,1l2,0.8l2,0.8l2,0.7l2,0.6l2,0.4l2,0.4l2,0.3l2,0.3l2,0.2l2,0.1l2,0.1l2,0.3h26V601.5"/>
<path d="M849,619.2v-13l2,-0.7l2,-0.6l2,-0.5l2,-0.6l2,-0.4l2,-0.4l2,-0.3l2,-0.2l2,-0.2l2,-0.1l2,0l2,0.1l2,0.2l2,0.2l2,0.3l2,0.4l2,0.4l2,0.6l2,0.5l2,0.6l2,0.7l2,0.6l2,0.7l2,0.7l2,0.8l2,0.7l2,0.7l2,0.7l2,0.7l2,0.6l2,0.6l2,0.6l2,0.6l2,0.5l2,0.5l2,0.4l2,0.5l2,0.3l2,0.3l2,0.3l2,0.2l2,0.1l2,0.1l2,-0.1l2,-0.3l2,-0.4l2,-0.7l2,-0.9l2,-1.2l2,-1.5l2,-1.7l2,-1.8l2,-1.9l2,-1.8l2,-1.6l2,-1.3l2,-0.8l2,-0.3l2,0.3l2,0.9l2,1.3l2,1.6l2,1.9l2,1.9l2,1.9l2,1.8l2,1.5l2,1.3l2,1.1l2,0.8l2,0.6l2,0.4l2,0.3l2,0.2l2,0.3h56l2,-0.5l2,-0.6l2,-0.9l2,-1.1V619.2"/>
<path d="M849,637h14l2,-0.3l2,-0.1l2,-0.1l2,-0.2l2,-0.2l2,-0.3l2,-0.3l2,-0.4l2,-0.4l2,-0.6l2,-0.6l2,-0.7l2,-0.8l2,-0.9l2,-1l2,-1l2,-1.2l2,-1.2l2,-1.2l2,-1.2l2,-1.2l2,-1.2l2,-1.1l2,-1l2,-1l2,-0.8l2,-0.6l2,-0.5l2,-0.3l2,-0.1l2,0l2,0.2l2,0.3l2,0.4l2,0.5l2,0.6l2,0.6l2,0.7l2,0.7l2,0.7l2,0.7l2,0.6l2,0.6l2,0.6l2,0.5l2,0.4l2,0.4l2,0.4l2,0.2l2,0.2l2,0.1l2,0l2,-0.2l2,-0.3l2,-0.5l2,-0.7l2,-0.9l2,-1.1l2,-1.4l2,-1.5l2,-1.6l2,-1.7l2,-1.7l2,-1.7l2,-1.4l2,-1.2l2,-0.8l2,-0.4l2,0.1l2,0.5l2,1l2,1.4l2,1.8l2,2l2,2.2l2,2.3l2,2.3l2,2.3l2,2l2,1.9l2,1.7l2,1.4l2,1.2l2,1l2,0.8l2,0.6l2,0.5l2,0.4l2,0.2l2,0.2l2,0.1l2,0.3h16V637"/>
<path d="M849,654.8v-7.8l2,-0.9l2,-0.9l2,-1l2,-1l2,-1l2,-1l2,-1l2,-1l2,-0.9l2,-0.8l2,-0.7l2,-0.6l2,-0.6l2,-0.4l2,-0.3l2,-0.1l2,0l2,0.1l2,0.2l2,0.4l2,0.5l2,0.6l2,0.7l2,0.7l2,0.7l2,0.8l2,0.8l2,0.8l2,0.7l2,0.7l2,0.6l2,0.4l2,0.4l2,0.2l2,0.1l2,0l2,-0.2l2,-0.3l2,-0.4l2,-0.5l2,-0.6l2,-0.6l2,-0.7l2,-0.7l2,-0.7l2,-0.6l2,-0.5l2,-0.4l2,-0.3l2,-0.1l2,0l2,0.1l2,0.3l2,0.5l2,0.5l2,0.7l2,0.8l2,0.8l2,0.9l2,0.9l2,0.9l2,0.9l2,0.8l2,0.8l2,0.8l2,0.6l2,0.6l2,0.6l2,0.4l2,0.4l2,0.4l2,0.3l2,0.2l2,0.2l2,0.2l2,0.1l2,0.2l2,0.1l2,0.1l2,0.1l2,0.1l2,0.1l2,0.1l2,0.1l2,0.1l2,0.1l2,0.1l2,0.1l2,0.1l2,0.1l2,0.1l2,0.1l2,0.1l2,0.2l2,0.1l2,0.1l2,0.1l2,0.1l2,0.1l2,0.1l2,0.1l2,0l2,0.1l2,0.1l2,0.1l2,0l2,0.1V654.8"/>
<path d="M849,672.5v-11.2l2,-0.6l2,-0.6l2,-0.5l2,-0.5l2,-0.5l2,-0.4l2,-0.4l2,-0.4l2,-0.3l2,-0.2l2,-0.2l2,-0.1l2,-0.1l2,0l2,0.1l2,0.1l2,0.2l2,0.2l2,0.3l2,0.4l2,0.4l2,0.4l2,0.5l2,0.5l2,0.5l2,0.6l2,0.6l2,0.6l2,0.6l2,0.6l2,0.6l2,0.5l2,0.5l2,0.4l2,0.3l2,0l2,-0.3l2,-0.8l2,-1.3l2,-2l2,-2.5l2,-2.7l2,-2.5l2,-2l2,-1.1l2,0.2l2,1.3l2,2.3l2,2.9l2,3l2,2.8l2,2.2l2,1.7l2,1.1l2,0.6l2,0.3l2,0.1l2,-0.1l2,-0.2l2,-0.2l2,-0.3l2,-0.2l2,-0.3l2,-0.2l2,-0.2l2,-0.2l2,-0.1l2,-0.1l2,-0.1l2,0l2,0l2,0l2,0.1l2,0.1l2,0.2l2,0.2l2,0.2l2,0.3l2,0.2l2,0.3l2,0.3l2,0.3l2,0.3l2,0.3l2,0.3l2,0.3l2,0.3l2,0.2l2,0.3l2,0.2l2,0.2l2,0.2l2,0.2l2,0.1l2,0.2l2,0.1l2,0.1l2,0.1l2,0l2,0.1l2,0.3h12V672.5"/>
<path d="M849,690.3v-5.5l2,-0.3l2,-0.4l2,-0.4l2,-0.3l2,-0.3l2,-0.3l2,-0.2l2,-0.1l2,-0.1l2,-0.1l2,0l2,0.1l2,0.1l2,0.1l2,0.2l2,0.3l2,0.3l2,0.3l2,0.3l2,0.4l2,0.3l2,0.3l2,0.4l2,0.2l2,0.2l2,0.1l2,0l2,-0.1l2,-0.3l2,-0.5l2,-0.7l2,-0.8l2,-1.1l2,-1.3l2,-1.4l2,-1.6l2,-1.6l2,-1.6l2,-1.6l2,-1.4l2,-1.2l2,-0.9l2,-0.5l2,-0.2l2,0.3l2,0.6l2,1l2,1.2l2,1.6l2,1.6l2,1.8l2,1.8l2,1.7l2,1.6l2,1.5l2,1.3l2,1.1l2,0.9l2,0.8l2,0.6l2,0.5l2,0.4l2,0.2l2,0.2l2,0.1l2,0l2,0l2,-0.3l2,-0.5l2,-0.7l2,-1.1l2,-1.5l2,-1.7l2,-1.8l2,-1.8l2,-1.3l2,-0.8l2,0l2,0.8l2,1.3l2,1.8l2,1.8l2,1.8l2,1.4l2,1.1l2,0.8l2,0.5l2,0.3l2,0.3h36V690.3"/>
<path d="M849,708.1v-6.1l2,-0.6l2,-0.7l2,-0.7l2,-0.7l2,-0.7l2,-0.7l2,-0.7l2,-0.6l2,-0.6l2,-0.5l2,-0.5l2,-0.3l2,-0.3l2,-0.2l2,-0.1l2,0l2,0l2,0.2l2,0.2l2,0.3l2,0.4l2,0.4l2,0.4l2,0.4l2,0.4l2,0.3l2,0.3l2,0.1l2,0.1l2,0l2,-0.1l2,-0.3l2,-0.3l2,-0.5l2,-0.5l2,-0.6l2,-0.6l2,-0.5l2,-0.5l2,-0.4l2,-0.2l2,-0.1l2,0.1l2,0.3l2,0.4l2,0.7l2,0.8l2,0.9l2,1l2,1.1l2,1.1l2,1.1l2,1.1l2,1l2,0.9l2,0.8l2,0.7l2,0.7l2,0.5l2,0.4l2,0.4l2,0.3l2,0.2l2,0.1l2,0.2l2,0.3h8l2,-0.3l2,-0.3l2,-0.5l2,-0.7l2,-1.2l2,-1.6l2,-2l2,-2.3l2,-2.3l2,-2l2,-1.3l2,-0.5l2,0.5l2,1.3l2,2l2,2.3l2,2.3l2,2l2,1.6l2,1.2l2,0.8l2,0.4l2,0.3l2,0.3h26V708.1"/>
<path d="M849,725.8h24l2,-0.3l2,-0.1l2,-0.2l2,-0.2l2,-0.2l2,-0.3l2,-0.4l2,-0.5l2,-0.6l2,-0.6l2,-0.8l2,-0.9l2,-1.1l2,-1.1l2,-1.3l2,-1.4l2,-1.6l2,-1.6l2,-1.6l2,-1.7l2,-1.7l2,-1.7l2,-1.6l2,-1.4l2,-1.3l2,-1.1l2,-0.8l2,-0.6l2,-0.3l2,0l2,0.3l2,0.6l2,0.8l2,1.1l2,1.3l2,1.4l2,1.6l2,1.7l2,1.7l2,1.7l2,1.6l2,1.6l2,1.6l2,1.4l2,1.3l2,1.1l2,1.1l2,0.9l2,0.8l2,0.6l2,0.6l2,0.5l2,0.4l2,0.3l2,0.2l2,0.2l2,0.2l2,0.1l2,0.3h72V725.8"/>
<path d="M849,743.6v-12.4l2,-2.3l2,-2.3l2,-2.4l2,-2.4l2,-2.4l2,-2.1l2,-1.9l2,-1.6l2,-1.2l2,-0.8l2,-0.2l2,0.2l2,0.8l2,1.2l2,1.6l2,1.9l2,2.1l2,2.4l2,2.4l2,2.4l2,2.3l2,2.3l2,2l2,1.9l2,1.6l2,1.4l2,1.2l2,0.9l2,0.8l2,0.7l2,0.4l2,0.4l2,0.2l2,0.1l2,0l2,-0.1l2,-0.2l2,-0.4l2,-0.5l2,-0.6l2,-0.9l2,-0.9l2,-1.2l2,-1.3l2,-1.4l2,-1.4l2,-1.4l2,-1.2l2,-1.1l2,-0.9l2,-0.5l2,-0.2l2,0.2l2,0.5l2,0.9l2,1.1l2,1.2l2,1.4l2,1.5l2,1.3l2,1.3l2,1.2l2,1l2,0.8l2,0.6l2,0.5l2,0.2l2,0.1l2,-0.2l2,-0.3l2,-0.4l2,-0.5l2,-0.3l2,-0.1l2,0.1l2,0.4l2,0.5l2,0.6l2,0.5l2,0.4l2,0.2l2,0.3h50V743.6"/>
<path d="M849,761.4v-10.4l2,-0.9l2,-1l2,-1l2,-1l2,-0.9l2,-0.8l2,-0.8l2,-0.8l2,-0.6l2,-0.5l2,-0.4l2,-0.2l2,-0.2l2,0l2,0.2l2,0.2l2,0.4l2,0.5l2,0.6l2,0.8l2,0.8l2,0.8l2,0.9l2,1l2,1l2,1l2,0.9l2,1l2,0.9l2,0.9l2,0.9l2,0.8l2,0.7l2,0.7l2,0.6l2,0.5l2,0.5l2,0.5l2,0.3l2,0.4l2,0.2l2,0.3l2,0.1l2,0.1l2,0.1l2,0l2,-0.1l2,-0.3l2,-0.3l2,-0.5l2,-0.6l2,-0.8l2,-1l2,-1.1l2,-1.2l2,-1.4l2,-1.4l2,-1.3l2,-1.3l2,-1.1l2,-0.8l2,-0.5l2,-0.2l2,0.2l2,0.5l2,0.8l2,1.1l2,1.3l2,1.4l2,1.4l2,1.3l2,1.3l2,1.1l2,1l2,0.8l2,0.7l2,0.5l2,0.5l2,0.2l2,0.3l2,0.1l2,0.3h34l2,-0.3l2,-0.2l2,-0.5l2,-0.7l2,-0.9l2,-1l2,-1l2,-0.6V761.4"/>
<path d="M849,779.1v-10.9l2,-1.6l2,-1.7l2,-1.6l2,-1.6l2,-1.4l2,-1.2l2,-1l2,-0.6l2,-0.4l2,0l2,0.4l2,0.6l2,1l2,1.2l2,1.4l2,1.6l2,1.6l2,1.7l2,1.6l2,1.6l2,1.5l2,1.3l2,1.2l2,1l2,0.9l2,0.8l2,0.6l2,0.5l2,0.3l2,0.3l2,0.2l2,0l2,0l2,-0.2l2,-0.4l2,-0.7l2,-0.9l2,-1.3l2,-1.7l2,-2.2l2,-2.7l2,-3.1l2,-3.4l2,-3.7l2,-3.6l2,-3.4l2,-2.8l2,-2l2,-1.1l2,0l2,1.1l2,2l2,2.8l2,3.4l2,3.6l2,3.7l2,3.4l2,3.2l2,2.6l2,2.2l2,1.8l2,1.3l2,0.9l2,0.7l2,0.5l2,0.3l2,0.1l2,0.3h78V779.1"/>
<path d="M849,796.9v-12.9l2,-1.3l2,-1.3l2,-1.2l2,-1.1l2,-1l2,-0.8l2,-0.7l2,-0.4l2,-0.3l2,0l2,0.3l2,0.4l2,0.7l2,0.8l2,1l2,1.1l2,1.2l2,1.3l2,1.3l2,1.3l2,1.3l2,1.3l2,1.2l2,1l2,1l2,0.8l2,0.7l2,0.6l2,0.3l2,0.2l2,-0.1l2,-0.3l2,-0.5l2,-0.8l2,-1l2,-1.2l2,-1.3l2,-1.3l2,-1.2l2,-1l2,-0.7l2,-0.4l2,0l2,0.4l2,0.8l2,1.1l2,1.3l2,1.4l2,1.4l2,1.3l2,1.2l2,1l2,0.9l2,0.6l2,0.5l2,0.4l2,0.2l2,0.2l2,0.3h10l2,-0.6l2,-0.7l2,-1.4l2,-2.2l2,-3.4l2,-4.4l2,-4.9l2,-4.7l2,-3.5l2,-1.2l2,1.2l2,3.5l2,4.7l2,4.9l2,4.4l2,3.4l2,2.2l2,1.4l2,0.7l2,0.6h46V796.9"/>
<path d="M849,814.7h16l2,-0.3l2,-0.2l2,-0.2l2,-0.4l2,-0.6l2,-0.8l2,-1.1l2,-1.4l2,-1.7l2,-2.2l2,-2.6l2,-3l2,-3.4l2,-3.5l2,-3.7l2,-3.6l2,-3.4l2,-2.8l2,-2.2l2,-1.4l2,-0.5l2,0.5l2,1.4l2,2.2l2,2.8l2,3.4l2,3.6l2,3.7l2,3.5l2,3.4l2,3l2,2.6l2,2.2l2,1.7l2,1.4l2,1.1l2,0.8l2,0.6l2,0.4l2,0.2l2,0.2l2,0.3h6l2,-0.3l2,-0.3l2,-0.5l2,-0.7l2,-1.2l2,-1.6l2,-2l2,-2.3l2,-2.3l2,-2l2,-1.3l2,-0.5l2,0.5l2,1.3l2,2l2,2.3l2,2.3l2,2l2,1.6l2,1.2l2,0.8l2,0.4l2,0.3l2,0.3h44l2,-0.3l2,-0.2l2,-0.5l2,-0.7l2,-0.9l2,-1l2,-1l2,-0.6V814.7"/>
<path d="M849,832.5v-13.5l2,-0.4l2,-0.3l2,-0.3l2,-0.3l2,-0.2l2,-0.3l2,-0.2l2,-0.2l2,-0.1l2,-0.2l2,-0.1l2,0l2,-0.1l2,0l2,-0.1l2,0.1l2,0l2,0l2,0.1l2,0l2,0.1l2,0.1l2,0l2,0.1l2,0.1l2,0l2,0.1l2,0.1l2,0l2,0l2,0.1l2,0l2,0l2,0l2,0.1l2,0l2,0.1l2,0l2,0.1l2,0.2l2,0.1l2,0.2l2,0.2l2,0.3l2,0.3l2,0.4l2,0.4l2,0.5l2,0.4l2,0.6l2,0.5l2,0.6l2,0.6l2,0.6l2,0.6l2,0.6l2,0.6l2,0.6l2,0.6l2,0.6l2,0.5l2,0.5l2,0.5l2,0.5l2,0.4l2,0.4l2,0.3l2,0.3l2,0.3l2,0.3l2,0.2l2,0.2l2,0.2l2,0.1l2,0.2l2,0.1l2,0.1l2,0.1l2,0l2,0.1l2,0l2,0.3h50V832.5"/>
<path d="M849,850.2v-24.6l2,-2.5l2,-2.2l2,-1.8l2,-1.2l2,-0.6l2,0l2,0.6l2,1.2l2,1.8l2,2.2l2,2.5l2,2.6l2,2.8l2,2.8l2,2.6l2,2.4l2,2.2l2,1.9l2,1.6l2,1.4l2,1l2,0.9l2,0.7l2,0.5l2,0.4l2,0.2l2,0.2l2,0.4h30l2,-0.3l2,-0.3l2,-0.6l2,-0.9l2,-1.3l2,-1.8l2,-2.3l2,-2.5l2,-2.6l2,-2.3l2,-1.6l2,-0.5l2,0.5l2,1.6l2,2.3l2,2.6l2,2.5l2,2.3l2,1.8l2,1.3l2,0.9l2,0.6l2,0.3l2,0.3h20l2,-0.3l2,-0.1l2,-0.1l2,-0.1l2,-0.1l2,-0.2l2,-0.2l2,-0.2l2,-0.2l2,-0.2l2,-0.2l2,-0.3l2,-0.2l2,-0.2l2,-0.1l2,-0.2l2,0l2,-0.1l2,0l2,0.1l2,0l2,0.2l2,0.1l2,0.2l2,0.2l2,0.3l2,0.2l2,0.2l2,0.2l2,0.2V850.2"/>
<path d="M849,868v-9l2,-0.6l2,-0.7l2,-0.7l2,-0.6l2,-0.7l2,-0.6l2,-0.5l2,-0.6l2,-0.5l2,-0.4l2,-0.3l2,-0.3l2,-0.3l2,-0.1l2,-0.1l2,0l2,0.1l2,0.1l2,0.3l2,0.3l2,0.3l2,0.4l2,0.5l2,0.6l2,0.5l2,0.6l2,0.7l2,0.6l2,0.7l2,0.7l2,0.6l2,0.7l2,0.7l2,0.6l2,0.6l2,0.6l2,0.5l2,0.6l2,0.4l2,0.5l2,0.4l2,0.3l2,0.3l2,0.3l2,0.2l2,0.1l2,0l2,0l2,-0.1l2,-0.2l2,-0.3l2,-0.4l2,-0.5l2,-0.6l2,-0.7l2,-0.8l2,-0.8l2,-0.9l2,-0.9l2,-0.8l2,-0.8l2,-0.7l2,-0.6l2,-0.4l2,-0.3l2,0l2,0.1l2,0.2l2,0.5l2,0.6l2,0.7l2,0.8l2,0.9l2,0.9l2,0.9l2,0.9l2,0.8l2,0.8l2,0.7l2,0.6l2,0.5l2,0.5l2,0.3l2,0.3l2,0.3l2,0.2l2,0.1l2,0.1l2,0.3h22l2,-0.4l2,-0.3l2,-0.5l2,-0.7l2,-0.7l2,-0.7l2,-0.5V868"/>
<path d="M849,885.8v-11.2l2,-1.9l2,-2l2,-2l2,-2l2,-1.9l2,-1.7l2,-1.5l2,-1.1l2,-0.8l2,-0.4l2,0l2,0.4l2,0.8l2,1.1l2,1.5l2,1.7l2,1.9l2,2l2,2l2,2l2,1.9l2,1.7l2,1.7l2,1.4l2,1.2l2,1.1l2,0.9l2,0.8l2,0.5l2,0.5l2,0.3l2,0.3l2,0.2l2,0l2,0.1l2,-0.1l2,-0.1l2,-0.2l2,-0.2l2,-0.4l2,-0.4l2,-0.5l2,-0.7l2,-0.8l2,-0.9l2,-1l2,-1.2l2,-1.2l2,-1.4l2,-1.3l2,-1.4l2,-1.3l2,-1.2l2,-1.1l2,-0.9l2,-0.6l2,-0.5l2,-0.1l2,0.1l2,0.5l2,0.6l2,0.9l2,1.1l2,1.2l2,1.3l2,1.4l2,1.3l2,1.4l2,1.2l2,1.2l2,1l2,0.9l2,0.8l2,0.7l2,0.5l2,0.5l2,0.3l2,0.3l2,0.2l2,0.2l2,0.1l2,0.3h34l2,-0.4l2,-0.2l2,-0.3l2,-0.4l2,-0.5l2,-0.4l2,-0.4l2,-0.3V885.8"/>
<path d="M849,903.5v-1.9l2,-0.1l2,-0.1l2,-0.1l2,-0.1l2,-0.1l2,-0.1l2,-0.1l2,-0.1l2,-0.1l2,0l2,-0.1l2,0l2,-0.1l2,0l2,0l2,0l2,0l2,0l2,0.1l2,0l2,0.1l2,0l2,0.1l2,0.1l2,0.1l2,0.1l2,0.1l2,0.1l2,0.1l2,0.1l2,0.1l2,0l2,0.1l2,0.1l2,0l2,0.1l2,-0.1l2,0l2,-0.1l2,-0.1l2,-0.2l2,-0.2l2,-0.3l2,-0.4l2,-0.5l2,-0.5l2,-0.7l2,-0.7l2,-0.8l2,-0.9l2,-0.9l2,-1l2,-1.1l2,-1l2,-1.1l2,-1l2,-0.9l2,-0.8l2,-0.8l2,-0.6l2,-0.4l2,-0.3l2,0l2,0.1l2,0.2l2,0.5l2,0.6l2,0.7l2,0.9l2,1l2,1l2,1l2,1.1l2,1.1l2,1l2,1l2,0.9l2,0.9l2,0.7l2,0.7l2,0.6l2,0.5l2,0.4l2,0.3l2,0.3l2,0.2l2,0l2,0.1l2,-0.1l2,-0.2l2,-0.2l2,-0.3l2,-0.4l2,-0.5l2,-0.6l2,-0.7l2,-0.8l2,-0.9l2,-1l2,-1.1l2,-1.2l2,-1.2l2,-1.2l2,-1.3l2,-1.2l2,-1.2l2,-1.2V903.5"/>
<path d="M849,921.3v-6.2l2,-0.5l2,-0.5l2,-0.5l2,-0.5l2,-0.6l2,-0.5l2,-0.5l2,-0.5l2,-0.5l2,-0.5l2,-0.4l2,-0.5l2,-0.3l2,-0.4l2,-0.3l2,-0.3l2,-0.2l2,-0.2l2,-0.2l2,-0.1l2,-0.2l2,-0.1l2,-0.2l2,-0.3l2,-0.4l2,-0.5l2,-0.7l2,-0.9l2,-1.2l2,-1.3l2,-1.6l2,-1.8l2,-1.8l2,-1.9l2,-1.7l2,-1.5l2,-1.1l2,-0.6l2,-0.1l2,0.5l2,1.1l2,1.7l2,2.1l2,2.4l2,2.7l2,2.7l2,2.8l2,2.6l2,2.3l2,2.1l2,1.8l2,1.6l2,1.2l2,1l2,0.8l2,0.6l2,0.5l2,0.3l2,0.3l2,0.2l2,0.1l2,0.1l2,0l2,-0.2l2,-0.2l2,-0.4l2,-0.5l2,-0.5l2,-0.4l2,-0.3l2,0l2,0.3l2,0.5l2,0.6l2,0.5l2,0.4l2,0.4l2,0.4h58V921.3"/>
<path d="M849,939.1v-4.7l2,-0.7l2,-0.7l2,-0.8l2,-0.9l2,-0.9l2,-1l2,-1l2,-1l2,-1.1l2,-1l2,-1l2,-1l2,-1l2,-0.9l2,-0.8l2,-0.7l2,-0.7l2,-0.5l2,-0.5l2,-0.3l2,-0.3l2,-0.1l2,0l2,0l2,0.2l2,0.2l2,0.3l2,0.3l2,0.4l2,0.4l2,0.4l2,0.4l2,0.4l2,0.4l2,0.4l2,0.3l2,0.4l2,0.3l2,0.3l2,0.4l2,0.3l2,0.3l2,0.3l2,0.4l2,0.3l2,0.4l2,0.4l2,0.5l2,0.5l2,0.5l2,0.6l2,0.6l2,0.6l2,0.7l2,0.6l2,0.7l2,0.6l2,0.7l2,0.6l2,0.6l2,0.6l2,0.6l2,0.5l2,0.5l2,0.5l2,0.4l2,0.4l2,0.3l2,0.3l2,0.3l2,0.2l2,0.3l2,0.1l2,0.2l2,0.1l2,0.1l2,0.1l2,0.1l2,0.3h56V939.1"/>
<path d="M849,956.9v-8.1l2,-0.2l2,-0.2l2,-0.2l2,-0.2l2,-0.2l2,-0.1l2,-0.2l2,-0.1l2,-0.1l2,-0.1l2,-0.1l2,-0.1l2,0l2,-0.1l2,0l2,0l2,0l2,0.1l2,0l2,0.1l2,0.1l2,0.1l2,0.1l2,0.1l2,0.2l2,0.1l2,0.2l2,0.2l2,0.2l2,0.2l2,0.2l2,0.2l2,0.2l2,0.3l2,0.2l2,0.3l2,0.2l2,0.3l2,0.2l2,0.3l2,0.2l2,0.3l2,0.2l2,0.3l2,0.2l2,0.2l2,0.3l2,0.2l2,0.2l2,0.2l2,0.2l2,0.2l2,0.2l2,0.1l2,0.1l2,0.1l2,0l2,0l2,0l2,-0.1l2,-0.2l2,-0.3l2,-0.4l2,-0.4l2,-0.6l2,-0.6l2,-0.8l2,-0.8l2,-0.8l2,-0.9l2,-1l2,-0.8l2,-0.9l2,-0.7l2,-0.6l2,-0.4l2,-0.3l2,0l2,0.1l2,0.3l2,0.5l2,0.7l2,0.8l2,0.9l2,1l2,1l2,1l2,0.9l2,1l2,0.8l2,0.8l2,0.6l2,0.6l2,0.5l2,0.4l2,0.3l2,0.3l2,0.2l2,0.2l2,0.1l2,0.3h12V956.9"/>
<path d="M849,974.6v-0.3l2,-0.1l2,-0.1l2,-0.1l2,-0.1l2,-0.1l2,-0.2l2,-0.2l2,-0.2l2,-0.2l2,-0.3l2,-0.2l2,-0.3l2,-0.4l2,-0.3l2,-0.4l2,-0.4l2,-0.3l2,-0.5l2,-0.4l2,-0.4l2,-0.3l2,-0.4l2,-0.4l2,-0.3l2,-0.3l2,-0.3l2,-0.2l2,-0.1l2,-0.1l2,-0.1l2,0l2,0.1l2,0.1l2,0.1l2,0.2l2,0.3l2,0.3l2,0.3l2,0.4l2,0.4l2,0.3l2,0.4l2,0.4l2,0.4l2,0.4l2,0.4l2,0.3l2,0.4l2,0.2l2,0.2l2,0.1l2,0l2,-0.3l2,-0.4l2,-0.8l2,-1.2l2,-1.6l2,-2l2,-2.6l2,-3.1l2,-3.4l2,-3.5l2,-3.6l2,-3.3l2,-2.8l2,-2l2,-1l2,0l2,1.1l2,2l2,2.8l2,3.4l2,3.6l2,3.7l2,3.4l2,3.1l2,2.7l2,2.2l2,1.8l2,1.3l2,0.9l2,0.7l2,0.5l2,0.3l2,0.1l2,0.3h26l2,-0.3l2,-0.3l2,-0.5l2,-0.7l2,-1l2,-1.1l2,-1.1l2,-0.7V974.6"/>
<path d="M849,992.4h20l2,-0.4l2,-0.2l2,-0.2l2,-0.4l2,-0.5l2,-0.7l2,-0.9l2,-1l2,-1.3l2,-1.5l2,-1.6l2,-1.7l2,-1.8l2,-1.8l2,-1.6l2,-1.4l2,-1.1l2,-0.7l2,-0.2l2,0.2l2,0.7l2,1.1l2,1.4l2,1.6l2,1.7l2,1.8l2,1.7l2,1.6l2,1.4l2,1.1l2,1l2,0.6l2,0.5l2,0.2l2,0l2,-0.2l2,-0.5l2,-0.6l2,-0.8l2,-0.9l2,-1.1l2,-1.3l2,-1.4l2,-1.4l2,-1.5l2,-1.5l2,-1.5l2,-1.4l2,-1.2l2,-0.9l2,-0.8l2,-0.4l2,-0.2l2,0.2l2,0.4l2,0.8l2,0.9l2,1.2l2,1.4l2,1.5l2,1.5l2,1.5l2,1.4l2,1.4l2,1.3l2,1.1l2,1l2,0.8l2,0.7l2,0.6l2,0.4l2,0.4l2,0.2l2,0.1l2,0l2,0l2,-0.1l2,-0.2l2,-0.2l2,-0.3l2,-0.3l2,-0.3l2,-0.4l2,-0.4l2,-0.5l2,-0.4l2,-0.4l2,-0.5l2,-0.4l2,-0.3l2,-0.4l2,-0.3l2,-0.2l2,-0.1l2,-0.1l2,0l2,0.1V992.4"/>
<path d="M849,1010.2v-0.7l2,-0.3l2,-0.3l2,-0.4l2,-0.6l2,-0.6l2,-0.8l2,-0.9l2,-1l2,-1.2l2,-1.2l2,-1.4l2,-1.4l2,-1.4l2,-1.5l2,-1.3l2,-1.2l2,-1.1l2,-0.8l2,-0.6l2,-0.3l2,0l2,0.3l2,0.6l2,0.8l2,1.1l2,1.2l2,1.3l2,1.5l2,1.4l2,1.4l2,1.4l2,1.2l2,1.2l2,1l2,0.9l2,0.8l2,0.6l2,0.6l2,0.4l2,0.3l2,0.3l2,0.2l2,0.1l2,0.1l2,0.3h14l2,-0.3l2,-0.2l2,-0.6l2,-0.9l2,-1.5l2,-2.3l2,-3.1l2,-3.8l2,-4.4l2,-4.5l2,-3.8l2,-2.7l2,-0.9l2,0.9l2,2.7l2,3.8l2,4.5l2,4.4l2,3.8l2,3.1l2,2.3l2,1.5l2,0.9l2,0.6l2,0.2l2,0.3h58V1010.2"/>
<path d="M849,1027.9v-0.6l2,-0.3l2,-0.5l2,-0.5l2,-0.8l2,-0.9l2,-1.3l2,-1.5l2,-1.8l2,-2.1l2,-2.5l2,-2.7l2,-2.9l2,-3.1l2,-3.1l2,-3l2,-2.8l2,-2.5l2,-1.9l2,-1.4l2,-0.7l2,0l2,0.7l2,1.4l2,1.9l2,2.5l2,2.8l2,3l2,3.1l2,3.1l2,2.9l2,2.7l2,2.5l2,2.1l2,1.8l2,1.5l2,1.3l2,0.9l2,0.8l2,0.5l2,0.5l2,0.3l2,0.2l2,0.1l2,0.3h56l2,-0.3l2,-0.3l2,-0.3l2,-0.6l2,-0.7l2,-0.9l2,-0.9l2,-0.9l2,-0.7l2,-0.4l2,0l2,0.4l2,0.7l2,0.9l2,0.9l2,0.9l2,0.7l2,0.6l2,0.3l2,0.3l2,0.3h28V1027.9"/>
<path d="M849,1045.7v-14.8l2,-2.3l2,-2.2l2,-2.3l2,-2.1l2,-1.9l2,-1.7l2,-1.3l2,-0.9l2,-0.4l2,0l2,0.4l2,0.9l2,1.3l2,1.7l2,1.9l2,2.1l2,2.3l2,2.2l2,2.3l2,2.1l2,2l2,1.8l2,1.7l2,1.4l2,1.2l2,1l2,0.9l2,0.6l2,0.6l2,0.4l2,0.3l2,0.2l2,0.2l2,0.1l2,0l2,0l2,-0.1l2,-0.3l2,-0.5l2,-0.9l2,-1.3l2,-1.8l2,-2.3l2,-2.5l2,-2.6l2,-2.3l2,-1.6l2,-0.5l2,0.5l2,1.6l2,2.3l2,2.6l2,2.5l2,2.3l2,1.8l2,1.3l2,0.9l2,0.6l2,0.3l2,0.3h94V1045.7"/>
<path d="M849,1063.5v-4.1l2,-0.3l2,-0.3l2,-0.4l2,-0.3l2,-0.4l2,-0.3l2,-0.4l2,-0.4l2,-0.4l2,-0.4l2,-0.4l2,-0.4l2,-0.4l2,-0.4l2,-0.3l2,-0.4l2,-0.4l2,-0.3l2,-0.3l2,-0.3l2,-0.3l2,-0.3l2,-0.2l2,-0.2l2,-0.2l2,-0.2l2,-0.1l2,-0.1l2,-0.1l2,0l2,0l2,0l2,0.1l2,0.1l2,0.1l2,0.2l2,0.2l2,0.2l2,0.2l2,0.3l2,0.3l2,0.3l2,0.3l2,0.3l2,0.4l2,0.4l2,0.3l2,0.4l2,0.4l2,0.4l2,0.4l2,0.4l2,0.4l2,0.3l2,0.4l2,0.2l2,0l2,-0.5l2,-1.1l2,-2.1l2,-3.2l2,-4.5l2,-5l2,-4.8l2,-3.4l2,-1.1l2,1.6l2,3.9l2,5.2l2,5.6l2,4.8l2,3.8l2,2.6l2,1.6l2,0.9l2,0.5l2,0.2l2,0.2l2,0.1l2,0.1l2,0.1l2,0l2,0.1l2,0l2,0.1l2,0l2,0.3h40V1063.5"/>
<path d="M849,1081.2v-3.8l2,-1.1l2,-1.2l2,-1.5l2,-1.6l2,-1.8l2,-1.8l2,-1.8l2,-1.8l2,-1.7l2,-1.4l2,-1.2l2,-0.8l2,-0.4l2,0l2,0.4l2,0.8l2,1.2l2,1.4l2,1.7l2,1.8l2,1.8l2,1.8l2,1.8l2,1.6l2,1.4l2,1.3l2,1l2,0.8l2,0.6l2,0.4l2,0.2l2,0l2,-0.3l2,-0.5l2,-0.7l2,-1.1l2,-1.3l2,-1.6l2,-1.9l2,-2.2l2,-2.3l2,-2.3l2,-2.3l2,-2.2l2,-1.8l2,-1.4l2,-0.9l2,-0.3l2,0.3l2,0.9l2,1.4l2,1.8l2,2.2l2,2.3l2,2.4l2,2.3l2,2.1l2,1.9l2,1.7l2,1.4l2,1.1l2,0.9l2,0.7l2,0.5l2,0.4l2,0.2l2,0.2l2,0.3h10l2,-0.5l2,-0.4l2,-0.6l2,-1l2,-1.3l2,-1.7l2,-1.9l2,-1.9l2,-1.7l2,-1.1l2,-0.4l2,0.4l2,1.1l2,1.7l2,1.9l2,1.9l2,1.7l2,1.3l2,1l2,0.6l2,0.4l2,0.5h24V1081.2"/>
<path d="M849,1099h6l2,-0.3l2,-0.2l2,-0.2l2,-0.4l2,-0.5l2,-0.7l2,-0.9l2,-1.1l2,-1.4l2,-1.7l2,-1.9l2,-2.1l2,-2.3l2,-2.4l2,-2.3l2,-2.2l2,-1.8l2,-1.4l2,-0.9l2,-0.3l2,0.3l2,0.9l2,1.4l2,1.8l2,2.2l2,2.3l2,2.3l2,2.3l2,2.1l2,1.9l2,1.6l2,1.3l2,1l2,0.7l2,0.5l2,0.1l2,-0.1l2,-0.3l2,-0.5l2,-0.6l2,-0.9l2,-0.9l2,-1l2,-1l2,-1l2,-0.9l2,-0.7l2,-0.5l2,-0.3l2,0l2,0.2l2,0.5l2,0.7l2,0.8l2,1l2,0.9l2,0.9l2,0.8l2,0.7l2,0.5l2,0.4l2,0.1l2,0l2,-0.2l2,-0.4l2,-0.6l2,-0.6l2,-0.8l2,-0.8l2,-0.9l2,-0.9l2,-0.8l2,-0.8l2,-0.6l2,-0.5l2,-0.4l2,-0.2l2,0l2,0.2l2,0.4l2,0.5l2,0.7l2,0.7l2,0.9l2,0.9l2,0.9l2,0.9l2,0.8l2,0.8l2,0.8l2,0.6l2,0.6l2,0.5l2,0.4l2,0.3l2,0.3l2,0.2l2,0.1l2,0.2l2,0.3h8V1099"/>
<path d="M849,1116.8h80l2,-0.3l2,-0.1l2,-0.2l2,-0.3l2,-0.4l2,-0.5l2,-0.7l2,-0.9l2,-1.1l2,-1.4l2,-1.6l2,-1.8l2,-2.1l2,-2.3l2,-2.5l2,-2.5l2,-2.5l2,-2.4l2,-2.1l2,-1.8l2,-1.4l2,-0.8l2,-0.3l2,0.3l2,0.8l2,1.4l2,1.8l2,2.1l2,2.4l2,2.5l2,2.5l2,2.5l2,2.3l2,2.1l2,1.8l2,1.6l2,1.4l2,1.1l2,0.9l2,0.6l2,0.6l2,0.4l2,0.2l2,0.2l2,0.1l2,0.1l2,0l2,-0.1l2,-0.2l2,-0.2l2,-0.4l2,-0.4l2,-0.6l2,-0.8l2,-0.9l2,-1.1l2,-1.2l2,-1.3l2,-1.5l2,-1.4l2,-1.3l2,-1.2l2,-1l2,-0.7l2,-0.4l2,0l2,0.4V1116.8"/>
<path d="M849,1134.5v-1.2l2,-0.4l2,-0.5l2,-0.6l2,-0.7l2,-0.9l2,-1l2,-1.2l2,-1.3l2,-1.4l2,-1.4l2,-1.5l2,-1.5l2,-1.5l2,-1.4l2,-1.2l2,-1l2,-0.7l2,-0.5l2,-0.2l2,0.1l2,0.4l2,0.6l2,0.9l2,0.9l2,1.1l2,1l2,1l2,0.9l2,0.6l2,0.3l2,0.1l2,-0.3l2,-0.6l2,-0.9l2,-1.1l2,-1.3l2,-1.4l2,-1.5l2,-1.3l2,-1.1l2,-0.9l2,-0.5l2,-0.1l2,0.3l2,0.7l2,1l2,1.4l2,1.7l2,1.8l2,2l2,1.9l2,1.9l2,1.7l2,1.6l2,1.5l2,1.2l2,1l2,0.9l2,0.7l2,0.5l2,0.4l2,0.3l2,0.2l2,0.2l2,0.3h18l2,-0.3l2,-0.1l2,-0.1l2,-0.2l2,-0.2l2,-0.2l2,-0.2l2,-0.3l2,-0.2l2,-0.3l2,-0.3l2,-0.3l2,-0.3l2,-0.3l2,-0.2l2,-0.2l2,-0.2l2,-0.1l2,0l2,0l2,0.1l2,0.2l2,0.2l2,0.2l2,0.3l2,0.3l2,0.3l2,0.3l2,0.3l2,0.2l2,0.3l2,0.2l2,0.2V1134.5"/>
<path d="M849,1152.3v-18.6l2,-0.8l2,-0.6l2,-0.5l2,-0.3l2,-0.2l2,0l2,0.2l2,0.3l2,0.5l2,0.6l2,0.8l2,0.9l2,0.9l2,1.1l2,1l2,1.2l2,1.1l2,1.1l2,1.1l2,1.1l2,1l2,1l2,0.9l2,0.8l2,0.7l2,0.7l2,0.6l2,0.5l2,0.4l2,0.3l2,0.3l2,0.2l2,0.2l2,0l2,0l2,0l2,-0.2l2,-0.1l2,-0.3l2,-0.3l2,-0.3l2,-0.4l2,-0.4l2,-0.5l2,-0.4l2,-0.5l2,-0.5l2,-0.5l2,-0.5l2,-0.4l2,-0.4l2,-0.3l2,-0.2l2,-0.2l2,-0.1l2,0l2,0.1l2,0.2l2,0.2l2,0.3l2,0.4l2,0.4l2,0.5l2,0.4l2,0.4l2,0.4l2,0.4l2,0.2l2,0.1l2,0l2,-0.2l2,-0.5l2,-0.6l2,-0.8l2,-1l2,-1.1l2,-1.1l2,-1.1l2,-0.9l2,-0.6l2,-0.3l2,0.1l2,0.4l2,0.7l2,1.1l2,1.2l2,1.3l2,1.3l2,1.2l2,1.1l2,0.9l2,0.8l2,0.6l2,0.5l2,0.3l2,0.3l2,0.1l2,0.3h18V1152.3"/>
<path d="M849,1170.1v-5.5l2,-1.3l2,-1.4l2,-1.5l2,-1.7l2,-1.7l2,-1.7l2,-1.7l2,-1.7l2,-1.4l2,-1.3l2,-1l2,-0.7l2,-0.4l2,0l2,0.4l2,0.7l2,1l2,1.3l2,1.4l2,1.7l2,1.7l2,1.7l2,1.7l2,1.7l2,1.5l2,1.4l2,1.3l2,1l2,1l2,0.8l2,0.6l2,0.5l2,0.4l2,0.3l2,0.3l2,0.1l2,0.2l2,0l2,0.3h2l2,-0.3l2,-0.2l2,-0.2l2,-0.4l2,-0.6l2,-0.8l2,-1.1l2,-1.5l2,-1.8l2,-2.1l2,-2.4l2,-2.7l2,-2.7l2,-2.6l2,-2.3l2,-1.8l2,-1.1l2,-0.4l2,0.4l2,1.1l2,1.8l2,2.3l2,2.6l2,2.7l2,2.7l2,2.4l2,2.1l2,1.8l2,1.5l2,1.1l2,0.8l2,0.6l2,0.4l2,0.3l2,0.4h64V1170.1"/>
<path d="M849,1187.9h16l2,-0.3l2,-0.1l2,-0.2l2,-0.3l2,-0.4l2,-0.5l2,-0.7l2,-0.9l2,-1.2l2,-1.4l2,-1.8l2,-2l2,-2.3l2,-2.6l2,-2.7l2,-2.9l2,-3l2,-2.8l2,-2.7l2,-2.3l2,-1.9l2,-1.2l2,-0.7l2,0l2,0.7l2,1.2l2,1.9l2,2.3l2,2.7l2,2.8l2,3l2,2.9l2,2.7l2,2.6l2,2.3l2,2l2,1.8l2,1.4l2,1.2l2,0.9l2,0.7l2,0.5l2,0.4l2,0.3l2,0.2l2,0.1l2,0.3h96l2,-0.3l2,-0.8l2,-2.1l2,-3.8V1187.9"/>
<path d="M849,1205.6v-2.9l2,-0.5l2,-0.7l2,-0.7l2,-0.8l2,-0.9l2,-0.9l2,-0.9l2,-1l2,-0.9l2,-1l2,-0.9l2,-0.8l2,-0.7l2,-0.7l2,-0.5l2,-0.4l2,-0.3l2,-0.1l2,0.1l2,0.2l2,0.3l2,0.4l2,0.5l2,0.6l2,0.6l2,0.6l2,0.7l2,0.6l2,0.6l2,0.5l2,0.5l2,0.4l2,0.3l2,0.2l2,0.2l2,0.1l2,0.1l2,0l2,0l2,-0.1l2,0l2,0l2,-0.1l2,0l2,0.1l2,0l2,0.1l2,0.1l2,0.1l2,0.1l2,-0.1l2,-0.4l2,-0.8l2,-1.5l2,-2.4l2,-3.5l2,-4.4l2,-5l2,-5.1l2,-4.4l2,-2.9l2,-0.8l2,1.5l2,3.6l2,5.1l2,5.8l2,5.7l2,5l2,4l2,3l2,2.1l2,1.3l2,0.7l2,0.5l2,0.3l2,0.1l2,0.1l2,0.3h58V1205.6"/>
<path d="M849,1223.4v-2.1l2,-0.3l2,-0.3l2,-0.4l2,-0.4l2,-0.4l2,-0.4l2,-0.5l2,-0.4l2,-0.5l2,-0.4l2,-0.5l2,-0.4l2,-0.4l2,-0.4l2,-0.3l2,-0.3l2,-0.2l2,-0.2l2,-0.1l2,-0.1l2,0l2,0.1l2,0.1l2,0.2l2,0.2l2,0.3l2,0.3l2,0.4l2,0.4l2,0.4l2,0.5l2,0.4l2,0.5l2,0.4l2,0.5l2,0.4l2,0.4l2,0.3l2,0.4l2,0.3l2,0.2l2,0.2l2,0.1l2,0.1l2,-0.1l2,-0.2l2,-0.3l2,-0.4l2,-0.7l2,-0.8l2,-1l2,-1.1l2,-1.4l2,-1.5l2,-1.6l2,-1.7l2,-1.6l2,-1.6l2,-1.5l2,-1.2l2,-1l2,-0.6l2,-0.3l2,0.2l2,0.4l2,0.8l2,1.1l2,1.2l2,1.5l2,1.4l2,1.5l2,1.4l2,1.3l2,1.1l2,1l2,0.8l2,0.6l2,0.4l2,0.3l2,0.2l2,0l2,0l2,-0.1l2,-0.1l2,-0.1l2,-0.1l2,-0.1l2,-0.1l2,-0.1l2,0l2,0l2,0l2,0.1l2,0.1l2,0.2l2,0.2l2,0.2l2,0.3l2,0.2l2,0.3l2,0.3l2,0.3l2,0.3l2,0.3l2,0.3l2,0.3l2,0.3V1223.4"/>
<path d="M849,1241.2v-2.7l2,-0.1l2,-0.1l2,-0.1l2,-0.1l2,-0.1l2,-0.1l2,-0.1l2,-0.1l2,-0.1l2,-0.1l2,-0.1l2,0l2,-0.1l2,0l2,-0.1l2,0l2,0l2,0l2,0l2,0l2,0l2,0.1l2,0l2,0l2,0.1l2,0l2,0.1l2,0l2,0l2,0l2,-0.1l2,0l2,-0.1l2,-0.2l2,-0.2l2,-0.3l2,-0.4l2,-0.4l2,-0.5l2,-0.5l2,-0.6l2,-0.6l2,-0.7l2,-0.6l2,-0.6l2,-0.5l2,-0.5l2,-0.3l2,-0.3l2,0l2,0l2,0.2l2,0.4l2,0.4l2,0.6l2,0.6l2,0.6l2,0.7l2,0.5l2,0.6l2,0.4l2,0.3l2,0.2l2,-0.1l2,-0.2l2,-0.3l2,-0.6l2,-0.8l2,-0.9l2,-1.1l2,-1.3l2,-1.4l2,-1.5l2,-1.5l2,-1.6l2,-1.6l2,-1.5l2,-1.5l2,-1.3l2,-1.1l2,-0.9l2,-0.7l2,-0.4l2,-0.1l2,0.1l2,0.4l2,0.7l2,1l2,1.1l2,1.3l2,1.5l2,1.5l2,1.6l2,1.7l2,1.6l2,1.6l2,1.5l2,1.4l2,1.3l2,1.2l2,1.1l2,0.9l2,0.8l2,0.7l2,0.6l2,0.5l2,0.4V1241.2"/>
<path d="M849,1258.9v-4.2l2,-0.6l2,-0.5l2,-0.5l2,-0.4l2,-0.3l2,-0.3l2,-0.1l2,-0.1l2,0.1l2,0.1l2,0.3l2,0.3l2,0.4l2,0.5l2,0.5l2,0.6l2,0.5l2,0.5l2,0.5l2,0.4l2,0.4l2,0.4l2,0.3l2,0.3l2,0.2l2,0.1l2,0.2l2,0.1l2,0.3h28l2,-0.3l2,-0.1l2,0l2,-0.1l2,-0.1l2,-0.2l2,-0.1l2,-0.2l2,-0.2l2,-0.2l2,-0.2l2,-0.3l2,-0.3l2,-0.4l2,-0.4l2,-0.4l2,-0.5l2,-0.5l2,-0.5l2,-0.6l2,-0.6l2,-0.7l2,-0.7l2,-0.7l2,-0.8l2,-0.8l2,-0.7l2,-0.8l2,-0.8l2,-0.8l2,-0.8l2,-0.8l2,-0.7l2,-0.7l2,-0.6l2,-0.6l2,-0.5l2,-0.4l2,-0.3l2,-0.3l2,-0.2l2,-0.1l2,0l2,0.1l2,0.2l2,0.3l2,0.3l2,0.4l2,0.5l2,0.6l2,0.6l2,0.7l2,0.7l2,0.8l2,0.8l2,0.8l2,0.8l2,0.8l2,0.7l2,0.8l2,0.8l2,0.7l2,0.7l2,0.7V1258.9"/>
<path d="M849,1276.7v-2.8l2,-0.3l2,-0.3l2,-0.3l2,-0.4l2,-0.3l2,-0.4l2,-0.3l2,-0.4l2,-0.4l2,-0.4l2,-0.3l2,-0.4l2,-0.4l2,-0.3l2,-0.4l2,-0.3l2,-0.3l2,-0.3l2,-0.2l2,-0.2l2,-0.2l2,-0.2l2,-0.1l2,-0.1l2,0l2,0l2,0l2,0.1l2,0.1l2,0.2l2,0.2l2,0.2l2,0.2l2,0.3l2,0.3l2,0.3l2,0.4l2,0.3l2,0.4l2,0.3l2,0.4l2,0.4l2,0.3l2,0.3l2,0.3l2,0.3l2,0.1l2,0.1l2,0.1l2,-0.1l2,-0.3l2,-0.4l2,-0.5l2,-0.8l2,-0.9l2,-1.1l2,-1.3l2,-1.5l2,-1.5l2,-1.5l2,-1.6l2,-1.4l2,-1.2l2,-1l2,-0.7l2,-0.4l2,0.1l2,0.3l2,0.8l2,1l2,1.3l2,1.4l2,1.6l2,1.6l2,1.5l2,1.5l2,1.3l2,1.2l2,1l2,0.8l2,0.6l2,0.5l2,0.3l2,0.2l2,0.1l2,0.1l2,-0.1l2,0l2,-0.1l2,-0.1l2,-0.1l2,-0.1l2,0l2,-0.1l2,0l2,0l2,0l2,0.1l2,0.1l2,0.1l2,0.1l2,0.1l2,0.2l2,0.2l2,0.2l2,0.2l2,0.2V1276.7"/>
<path d="M849,1294.5v-11.4l2,-0.8l2,-0.9l2,-0.9l2,-0.8l2,-0.9l2,-0.8l2,-0.7l2,-0.7l2,-0.7l2,-0.6l2,-0.5l2,-0.5l2,-0.3l2,-0.3l2,-0.2l2,-0.1l2,0l2,0l2,0.2l2,0.2l2,0.3l2,0.4l2,0.4l2,0.5l2,0.5l2,0.6l2,0.6l2,0.6l2,0.6l2,0.6l2,0.6l2,0.6l2,0.6l2,0.5l2,0.6l2,0.5l2,0.4l2,0.4l2,0.4l2,0.4l2,0.3l2,0.3l2,0.2l2,0.2l2,0.2l2,0.1l2,0.2l2,0.1l2,0.1l2,0.1l2,0l2,0.1l2,0.1l2,0.1l2,0l2,0.1l2,0.1l2,0.1l2,0.1l2,0.1l2,0.2l2,0.1l2,0.2l2,0.1l2,0.2l2,0.2l2,0.2l2,0.2l2,0.2l2,0.2l2,0.3l2,0.2l2,0.2l2,0.3l2,0.2l2,0.3l2,0.2l2,0.2l2,0.3l2,0.2l2,0.3l2,0.2l2,0.2l2,0.2l2,0.2l2,0.2l2,0.2l2,0.2l2,0.1l2,0.2l2,0.1l2,0.2l2,0.1l2,0.1l2,0.2l2,0.1l2,0.1l2,0.1l2,0l2,0.1l2,0.1l2,0.1l2,0l2,0.1l2,0l2,0.1l2,0V1294.5"/>
<path d="M849,1312.2v-17l2,-2.1l2,-2l2,-1.9l2,-1.7l2,-1.4l2,-1l2,-0.7l2,-0.2l2,0.2l2,0.7l2,1l2,1.4l2,1.7l2,1.9l2,2l2,2.1l2,2.1l2,2.1l2,1.9l2,1.8l2,1.6l2,1.4l2,1.3l2,1l2,0.9l2,0.7l2,0.5l2,0.5l2,0.3l2,0.3l2,0.1l2,0.2l2,0l2,0l2,0l2,-0.1l2,-0.2l2,-0.4l2,-0.5l2,-0.7l2,-1l2,-1.3l2,-1.5l2,-1.9l2,-2.2l2,-2.3l2,-2.4l2,-2.2l2,-2.1l2,-1.5l2,-1.1l2,-0.3l2,0.3l2,1.1l2,1.5l2,2.1l2,2.2l2,2.4l2,2.3l2,2.2l2,1.9l2,1.5l2,1.3l2,1l2,0.7l2,0.5l2,0.4l2,0.2l2,0.4h76V1312.2"/>
<path d="M849,1330v-9.1l2,-1.1l2,-1.1l2,-1l2,-0.9l2,-0.8l2,-0.5l2,-0.4l2,-0.1l2,0.1l2,0.4l2,0.5l2,0.8l2,0.9l2,1l2,1.1l2,1.1l2,1.1l2,1.1l2,1.1l2,0.9l2,0.9l2,0.8l2,0.6l2,0.6l2,0.4l2,0.4l2,0.3l2,0.2l2,0.2l2,0.2l2,0.3h54l2,-0.3l2,-0.1l2,-0.2l2,-0.4l2,-0.4l2,-0.7l2,-0.8l2,-1.1l2,-1.4l2,-1.6l2,-2l2,-2.2l2,-2.4l2,-2.5l2,-2.6l2,-2.4l2,-2.1l2,-1.8l2,-1.3l2,-0.6l2,0l2,0.6l2,1.3l2,1.8l2,2.1l2,2.4l2,2.6l2,2.5l2,2.4l2,2.2l2,2l2,1.6l2,1.4l2,1.1l2,0.8l2,0.7l2,0.4l2,0.4l2,0.2l2,0.1l2,0.3h16V1330"/>
<path d="M849,1347.8v-9.5l2,-0.3l2,-0.1l2,-0.1l2,0.1l2,0.1l2,0.3l2,0.3l2,0.5l2,0.5l2,0.5l2,0.6l2,0.6l2,0.7l2,0.5l2,0.5l2,0.2l2,-0.2l2,-1.1l2,-2.3l2,-3.9l2,-5.7l2,-7.1l2,-7.5l2,-6.3l2,-3.5l2,0.1l2,3.9l2,6.6l2,7.8l2,7.5l2,6.1l2,4.4l2,2.8l2,1.6l2,0.8l2,0.3l2,0.3h34l2,-0.5l2,-0.5l2,-1.1l2,-1.7l2,-2.6l2,-3.4l2,-3.9l2,-3.7l2,-2.6l2,-1l2,1l2,2.6l2,3.7l2,3.9l2,3.4l2,2.6l2,1.7l2,1.1l2,0.5l2,0.5h66V1347.8"/>
<path d="M849,1365.6v-0.4l2,-0.1l2,-0.1l2,-0.2l2,-0.2l2,-0.3l2,-0.3l2,-0.3l2,-0.4l2,-0.4l2,-0.5l2,-0.4l2,-0.5l2,-0.4l2,-0.4l2,-0.4l2,-0.3l2,-0.2l2,-0.2l2,0l2,0l2,0.2l2,0.2l2,0.2l2,0.4l2,0.4l2,0.4l2,0.4l2,0.3l2,0.4l2,0.3l2,0.3l2,0.2l2,0.1l2,0l2,0l2,-0.1l2,-0.2l2,-0.2l2,-0.3l2,-0.4l2,-0.4l2,-0.4l2,-0.5l2,-0.5l2,-0.5l2,-0.5l2,-0.4l2,-0.4l2,-0.3l2,-0.3l2,-0.2l2,-0.2l2,0l2,0l2,0.2l2,0.2l2,0.3l2,0.3l2,0.4l2,0.5l2,0.4l2,0.5l2,0.5l2,0.6l2,0.4l2,0.5l2,0.4l2,0.4l2,0.4l2,0.3l2,0.3l2,0.2l2,0.2l2,0.2l2,0.1l2,0.1l2,0l2,0l2,-0.1l2,-0.1l2,-0.2l2,-0.3l2,-0.4l2,-0.5l2,-0.7l2,-0.8l2,-1l2,-1.1l2,-1.3l2,-1.4l2,-1.6l2,-1.8l2,-1.7l2,-1.9l2,-1.8l2,-1.6l2,-1.6l2,-1.3l2,-1.1l2,-0.7l2,-0.4l2,0l2,0.4l2,0.7l2,1.1l2,1.3l2,1.6V1365.6"/>
<path d="M849,1383.3h46l2,-0.3l2,-0.3l2,-0.7l2,-1.2l2,-2.2l2,-3.6l2,-5.3l2,-7.2l2,-9.1l2,-10.3l2,-10.4l2,-9l2,-6.2l2,-2.2l2,2.2l2,6.2l2,9l2,10.4l2,10.3l2,9.1l2,7.2l2,5.3l2,3.6l2,2.2l2,1.2l2,0.7l2,0.3l2,0.3h112V1383.3"/>
<path d="M849,1401.1h70l2,-0.6l2,-1.3l2,-2.9l2,-5.8l2,-10.2l2,-14.8l2,-17.7l2,-16.4l2,-10l2,0l2,10l2,16.4l2,17.7l2,14.8l2,10.2l2,5.8l2,2.9l2,1.3l2,0.6h106V1401.1"/>
<path d="M849,1418.9v-14.9l2,-0.1l2,0.1l2,0.4l2,0.5l2,0.8l2,0.9l2,1l2,1.1l2,1.1l2,1.1l2,1.1l2,1.1l2,0.9l2,0.9l2,0.7l2,0.7l2,0.5l2,0.5l2,0.3l2,0.3l2,0.1l2,0l2,0l2,-0.2l2,-0.3l2,-0.5l2,-0.7l2,-0.9l2,-1.1l2,-1.3l2,-1.6l2,-1.7l2,-1.8l2,-1.9l2,-1.8l2,-1.8l2,-1.4l2,-1.1l2,-0.8l2,-0.2l2,0.2l2,0.8l2,1.1l2,1.4l2,1.8l2,1.8l2,1.9l2,1.8l2,1.8l2,1.5l2,1.3l2,1.2l2,0.9l2,0.7l2,0.5l2,0.4l2,0.3l2,0.2l2,0.4h96V1418.9"/>
<path d="M849,1436.6v-3.1l2,-0.2l2,-0.2l2,-0.2l2,-0.2l2,-0.1l2,-0.2l2,-0.1l2,-0.2l2,-0.1l2,-0.1l2,-0.1l2,-0.1l2,0l2,-0.1l2,0l2,0l2,0l2,0.1l2,0l2,0.1l2,0.1l2,0.1l2,0.1l2,0.2l2,0.1l2,0.2l2,0.1l2,0.2l2,0.2l2,0.2l2,0.2l2,0.2l2,0.2l2,0.1l2,0.2l2,0.2l2,0.2l2,0.1l2,0.2l2,0.2l2,0.1l2,0.1l2,0.2l2,0.1l2,0.1l2,0.1l2,0.1l2,0l2,0l2,0l2,-0.1l2,-0.2l2,-0.4l2,-0.7l2,-1l2,-1.5l2,-2.1l2,-2.9l2,-3.7l2,-4.7l2,-5.5l2,-6.3l2,-6.9l2,-7l2,-6.7l2,-5.9l2,-4.7l2,-3l2,-1l2,1l2,3l2,4.7l2,5.9l2,6.8l2,7l2,6.8l2,6.4l2,5.5l2,4.7l2,3.8l2,2.9l2,2.1l2,1.5l2,1.1l2,0.7l2,0.5l2,0.2l2,0.4h38V1436.6"/>
<path d="M849,1454.4v-18.2l2,-0.3l2,-0.3l2,-0.2l2,-0.3l2,-0.2l2,-0.2l2,-0.1l2,-0.1l2,-0.1l2,0l2,0l2,0l2,0.1l2,0.1l2,0.1l2,0.2l2,0.2l2,0.2l2,0.3l2,0.2l2,0.3l2,0.3l2,0.2l2,0.2l2,0.2l2,0.1l2,0l2,-0.1l2,-0.2l2,-0.4l2,-0.5l2,-0.7l2,-0.7l2,-0.8l2,-0.9l2,-0.7l2,-0.6l2,-0.4l2,-0.2l2,0.1l2,0.5l2,0.8l2,1.1l2,1.4l2,1.5l2,1.7l2,1.7l2,1.8l2,1.6l2,1.5l2,1.3l2,1.2l2,1.1l2,0.8l2,0.7l2,0.6l2,0.5l2,0.4l2,0.4l2,0.3l2,0.2l2,0.2l2,0.2l2,0.2l2,0.2l2,0.1l2,0.1l2,0.2l2,0.1l2,0.1l2,0.1l2,0l2,0.1l2,0.1l2,0.1l2,0l2,0.1l2,0l2,0.1l2,0l2,0l2,0.3h50V1454.4"/>
<path d="M849,1472.2v-19.9l2,-0.2l2,0.2l2,0.6l2,1.1l2,1.4l2,1.7l2,1.7l2,1.8l2,1.7l2,1.6l2,1.4l2,1.2l2,0.9l2,0.7l2,0.4l2,0.3l2,0.1l2,0l2,-0.2l2,-0.2l2,-0.3l2,-0.3l2,-0.4l2,-0.4l2,-0.4l2,-0.4l2,-0.3l2,-0.4l2,-0.3l2,-0.3l2,-0.3l2,-0.2l2,-0.1l2,-0.1l2,-0.1l2,0l2,0l2,0l2,0.1l2,0l2,0l2,-0.1l2,-0.3l2,-0.5l2,-0.8l2,-1.2l2,-1.6l2,-2l2,-2.5l2,-2.8l2,-2.9l2,-3l2,-2.7l2,-2.2l2,-1.5l2,-0.7l2,0.2l2,1.2l2,2.1l2,2.7l2,3.2l2,3.5l2,3.4l2,3.3l2,2.9l2,2.5l2,2.1l2,1.6l2,1.3l2,0.9l2,0.6l2,0.4l2,0.3l2,0.2l2,0.3h64V1472.2"/>
<path d="M849,1490v-10.1l2,-0.6l2,-0.6l2,-0.6l2,-0.6l2,-0.6l2,-0.5l2,-0.5l2,-0.5l2,-0.5l2,-0.4l2,-0.4l2,-0.3l2,-0.2l2,-0.3l2,-0.1l2,-0.2l2,0l2,-0.1l2,0l2,0.1l2,0.1l2,0.1l2,0.2l2,0.2l2,0.2l2,0.2l2,0.2l2,0.3l2,0.2l2,0.3l2,0.2l2,0.3l2,0.2l2,0.2l2,0.2l2,0.2l2,0.2l2,0.2l2,0.1l2,0.2l2,0.1l2,0.2l2,0.1l2,0.1l2,0.1l2,0.2l2,0.1l2,0.2l2,0.2l2,0.1l2,0.2l2,0.3l2,0.2l2,0.3l2,0.2l2,0.3l2,0.3l2,0.4l2,0.3l2,0.4l2,0.3l2,0.4l2,0.4l2,0.3l2,0.1l2,0l2,-0.2l2,-0.6l2,-0.9l2,-1.1l2,-1.1l2,-0.6l2,0l2,0.6l2,1.4l2,1.7l2,1.7l2,1.6l2,1.2l2,0.9l2,0.6l2,0.4l2,0.3l2,0.2l2,0.1l2,0.1l2,0.2l2,0.1l2,0l2,0.1l2,0.1l2,0.1l2,0l2,0.3h26V1490"/>
<path d="M849,1507.7v-1.4l2,-0.1l2,-0.2l2,-0.2l2,-0.1l2,-0.2l2,-0.2l2,-0.2l2,-0.1l2,-0.2l2,-0.2l2,-0.2l2,-0.2l2,-0.2l2,-0.2l2,-0.1l2,-0.2l2,-0.1l2,-0.2l2,-0.1l2,-0.1l2,-0.1l2,-0.1l2,0l2,-0.1l2,0l2,0l2,0l2,0.1l2,0l2,0.1l2,0.1l2,0.1l2,0.1l2,0.2l2,0.1l2,0.2l2,0.1l2,0.2l2,0.2l2,0.2l2,0.2l2,0.2l2,0.1l2,0.2l2,0.2l2,0.2l2,0.2l2,0.1l2,0.2l2,0.1l2,0.2l2,0.1l2,0.1l2,0.1l2,0.1l2,0.1l2,0.1l2,0l2,0l2,0l2,0l2,0l2,-0.1l2,-0.1l2,-0.1l2,-0.2l2,-0.2l2,-0.2l2,-0.3l2,-0.4l2,-0.4l2,-0.5l2,-0.6l2,-0.6l2,-0.7l2,-0.7l2,-0.8l2,-0.9l2,-1l2,-1l2,-1l2,-1.1l2,-1.1l2,-1.1l2,-1.1l2,-1.1l2,-1l2,-1l2,-0.9l2,-0.8l2,-0.7l2,-0.6l2,-0.4l2,-0.3l2,-0.2l2,0l2,0.2l2,0.3l2,0.4l2,0.6l2,0.7l2,0.8l2,0.9l2,1l2,1l2,1.1l2,1.1V1507.7"/>
<path d="M849,1525.5h6l2,-0.3l2,-0.2l2,-0.1l2,-0.3l2,-0.3l2,-0.4l2,-0.5l2,-0.6l2,-0.7l2,-0.9l2,-1l2,-1.3l2,-1.4l2,-1.6l2,-1.7l2,-1.9l2,-2l2,-2.1l2,-2.1l2,-2.2l2,-2l2,-1.9l2,-1.7l2,-1.4l2,-1.2l2,-0.8l2,-0.4l2,0l2,0.4l2,0.8l2,1.2l2,1.4l2,1.7l2,1.9l2,2l2,2.2l2,2.1l2,2.1l2,2l2,1.9l2,1.7l2,1.6l2,1.4l2,1.3l2,1l2,0.9l2,0.7l2,0.6l2,0.5l2,0.4l2,0.3l2,0.3l2,0.1l2,0.2l2,0.3h18l2,-0.3l2,-0.5l2,-0.9l2,-1.5l2,-2.5l2,-3.5l2,-4.2l2,-4.5l2,-3.7l2,-2.1l2,0l2,2.1l2,3.7l2,4.5l2,4.2l2,3.5l2,2.5l2,1.5l2,0.9l2,0.5l2,0.3h38V1525.5"/>
<path d="M849,1543.3v-3.3l2,-0.3l2,-0.3l2,-0.3l2,-0.3l2,-0.2l2,-0.2l2,-0.1l2,-0.2l2,-0.1l2,-0.2l2,-0.2l2,-0.2l2,-0.2l2,-0.3l2,-0.4l2,-0.4l2,-0.4l2,-0.6l2,-0.5l2,-0.6l2,-0.5l2,-0.5l2,-0.5l2,-0.5l2,-0.3l2,-0.3l2,-0.1l2,-0.1l2,0.1l2,0.2l2,0.3l2,0.5l2,0.5l2,0.6l2,0.7l2,0.7l2,0.7l2,0.8l2,0.7l2,0.8l2,0.7l2,0.6l2,0.6l2,0.5l2,0.5l2,0.4l2,0.4l2,0.3l2,0.2l2,0.2l2,0.1l2,0.1l2,0.1l2,0l2,0l2,0l2,-0.1l2,-0.1l2,-0.1l2,-0.1l2,-0.2l2,-0.2l2,-0.2l2,-0.2l2,-0.3l2,-0.3l2,-0.3l2,-0.3l2,-0.4l2,-0.3l2,-0.4l2,-0.5l2,-0.4l2,-0.5l2,-0.5l2,-0.5l2,-0.5l2,-0.5l2,-0.5l2,-0.6l2,-0.5l2,-0.5l2,-0.5l2,-0.5l2,-0.5l2,-0.4l2,-0.5l2,-0.3l2,-0.4l2,-0.3l2,-0.3l2,-0.2l2,-0.1l2,-0.1l2,-0.1l2,0l2,0.1l2,0.1l2,0.1l2,0.2l2,0.3l2,0.3l2,0.4l2,0.3l2,0.5l2,0.4l2,0.5V1543.3"/>
<path d="M849,1561v-6l2,-1l2,-0.7l2,-0.3l2,0.3l2,0.7l2,1l2,1.3l2,1.2l2,1l2,0.9l2,0.6l2,0.4l2,0.3l2,0.3h10l2,-0.3l2,-0.1l2,-0.2l2,-0.3l2,-0.3l2,-0.4l2,-0.6l2,-0.7l2,-0.9l2,-1.1l2,-1.3l2,-1.5l2,-1.7l2,-2l2,-2.1l2,-2.3l2,-2.4l2,-2.4l2,-2.4l2,-2.3l2,-2l2,-1.8l2,-1.4l2,-0.9l2,-0.5l2,0l2,0.5l2,0.9l2,1.4l2,1.8l2,2l2,2.3l2,2.4l2,2.4l2,2.4l2,2.3l2,2.1l2,2l2,1.7l2,1.5l2,1.3l2,1.1l2,0.9l2,0.7l2,0.6l2,0.4l2,0.3l2,0.3l2,0.2l2,0.1l2,0.3h74V1561"/>
<path d="M849,1578.8h36l2,-0.5l2,-0.7l2,-1.4l2,-2.4l2,-3.8l2,-5.4l2,-6.5l2,-6.8l2,-5.8l2,-3.3l2,0l2,3.3l2,5.8l2,6.8l2,6.5l2,5.4l2,3.8l2,2.4l2,1.4l2,0.7l2,0.5h32l2,-0.3l2,-0.4l2,-0.8l2,-1.5l2,-2.6l2,-4.2l2,-5.8l2,-7.5l2,-8.5l2,-8.3l2,-6.8l2,-3.8l2,0l2,3.8l2,6.7l2,8.4l2,8.5l2,7.4l2,5.9l2,4.1l2,2.6l2,1.4l2,0.8l2,0.3l2,0.1l2,-0.1l2,-0.1l2,-0.2l2,-0.2l2,-0.3l2,-0.4l2,-0.4l2,-0.5l2,-0.5l2,-0.6l2,-0.7l2,-0.7l2,-0.8l2,-0.8l2,-0.9l2,-0.9l2,-0.9l2,-0.8l2,-0.8l2,-0.8l2,-0.6l2,-0.6l2,-0.4l2,-0.3l2,-0.2l2,0l2,0.2V1578.8"/>
<path d="M849,1596.6v-1.3l2,-0.1l2,-0.2l2,-0.1l2,-0.2l2,-0.2l2,-0.2l2,-0.2l2,-0.2l2,-0.2l2,-0.2l2,-0.3l2,-0.2l2,-0.3l2,-0.3l2,-0.2l2,-0.3l2,-0.3l2,-0.3l2,-0.3l2,-0.3l2,-0.3l2,-0.3l2,-0.3l2,-0.3l2,-0.3l2,-0.3l2,-0.3l2,-0.2l2,-0.3l2,-0.2l2,-0.2l2,-0.2l2,-0.2l2,-0.2l2,-0.1l2,-0.2l2,0l2,-0.1l2,-0.1l2,0l2,0l2,0l2,0.1l2,0.1l2,0l2,0.2l2,0.1l2,0.2l2,0.2l2,0.2l2,0.2l2,0.2l2,0.3l2,0.2l2,0.3l2,0.3l2,0.3l2,0.3l2,0.3l2,0.3l2,0.3l2,0.3l2,0.3l2,0.3l2,0.3l2,0.3l2,0.2l2,0.3l2,0.3l2,0.2l2,0.3l2,0.2l2,0.2l2,0.2l2,0.2l2,0.2l2,0.2l2,0.1l2,0.2l2,0.1l2,0.1l2,0.1l2,0l2,0l2,-0.1l2,-0.1l2,-0.1l2,-0.3l2,-0.3l2,-0.4l2,-0.5l2,-0.6l2,-0.7l2,-0.9l2,-0.9l2,-0.9l2,-1l2,-1.1l2,-1l2,-1l2,-0.9l2,-0.7l2,-0.6l2,-0.4l2,-0.2l2,0l2,0.2V1596.6"/>
<path d="M849,1614.3v-5.3l2,-0.4l2,-0.3l2,-0.4l2,-0.3l2,-0.4l2,-0.4l2,-0.3l2,-0.4l2,-0.3l2,-0.4l2,-0.3l2,-0.4l2,-0.3l2,-0.3l2,-0.3l2,-0.2l2,-0.3l2,-0.2l2,-0.2l2,-0.2l2,-0.1l2,-0.1l2,-0.1l2,-0.1l2,0l2,0l2,0l2,0.1l2,0.1l2,0.1l2,0.1l2,0.2l2,0.2l2,0.2l2,0.3l2,0.2l2,0.3l2,0.3l2,0.3l2,0.4l2,0.3l2,0.4l2,0.3l2,0.4l2,0.3l2,0.4l2,0.4l2,0.3l2,0.4l2,0.3l2,0.4l2,0.3l2,0.3l2,0.3l2,0.3l2,0.2l2,0.2l2,0.2l2,0.1l2,-0.1l2,-0.1l2,-0.3l2,-0.5l2,-0.8l2,-1l2,-1.3l2,-1.6l2,-1.8l2,-2.1l2,-2.3l2,-2.4l2,-2.3l2,-2.1l2,-1.8l2,-1.4l2,-0.9l2,-0.2l2,0.3l2,1l2,1.5l2,2l2,2.2l2,2.5l2,2.4l2,2.5l2,2.2l2,2l2,1.8l2,1.4l2,1.2l2,1l2,0.7l2,0.5l2,0.4l2,0.3l2,0.2l2,0.3h20V1614.3"/>
<path d="M849,1632.1v-4.2l2,-0.8l2,-1l2,-1l2,-1.2l2,-1.2l2,-1.3l2,-1.4l2,-1.4l2,-1.4l2,-1.3l2,-1.3l2,-1.2l2,-1l2,-0.9l2,-0.7l2,-0.4l2,-0.3l2,0l2,0.3l2,0.4l2,0.7l2,0.9l2,1l2,1.2l2,1.3l2,1.3l2,1.4l2,1.4l2,1.4l2,1.3l2,1.2l2,1.2l2,1l2,1l2,0.8l2,0.8l2,0.6l2,0.5l2,0.5l2,0.4l2,0.3l2,0.3l2,0.2l2,0.1l2,0.1l2,0.1l2,0.3h2l2,-0.3l2,-0.2l2,-0.6l2,-1.1l2,-2l2,-3.2l2,-4.5l2,-5.5l2,-5.7l2,-4.8l2,-2.7l2,0l2,2.7l2,4.8l2,5.7l2,5.5l2,4.5l2,3.2l2,2l2,1.2l2,0.6l2,0.4h74V1632.1"/>
<path d="M849,1649.9v-4.2l2,-0.5l2,-0.4l2,-0.4l2,-0.3l2,-0.4l2,-0.4l2,-0.3l2,-0.3l2,-0.3l2,-0.2l2,-0.1l2,-0.1l2,-0.1l2,0l2,0.1l2,0.1l2,0.1l2,0.2l2,0.3l2,0.3l2,0.3l2,0.4l2,0.4l2,0.3l2,0.4l2,0.4l2,0.5l2,0.3l2,0.4l2,0.4l2,0.3l2,0.4l2,0.3l2,0.2l2,0.3l2,0.2l2,0.2l2,0.2l2,0.1l2,0.2l2,0.1l2,0.1l2,0.1l2,0l2,0.1l2,0l2,0.3h8l2,-0.3l2,0l2,0l2,-0.1l2,0l2,-0.1l2,-0.1l2,-0.1l2,-0.1l2,-0.1l2,-0.1l2,-0.2l2,-0.2l2,-0.2l2,-0.2l2,-0.2l2,-0.2l2,-0.3l2,-0.3l2,-0.3l2,-0.4l2,-0.3l2,-0.4l2,-0.4l2,-0.5l2,-0.4l2,-0.5l2,-0.4l2,-0.5l2,-0.5l2,-0.5l2,-0.5l2,-0.5l2,-0.4l2,-0.5l2,-0.5l2,-0.4l2,-0.4l2,-0.4l2,-0.3l2,-0.3l2,-0.3l2,-0.2l2,-0.2l2,-0.1l2,-0.1l2,0l2,0l2,0.1l2,0.1l2,0.2l2,0.2l2,0.3l2,0.3l2,0.3l2,0.4V1649.9"/>
<path d="M849,1667.6h94l2,-0.3l2,0l2,-0.1l2,0l2,-0.1l2,0l2,-0.1l2,-0.1l2,-0.1l2,-0.1l2,-0.1l2,-0.1l2,-0.2l2,-0.1l2,-0.2l2,-0.2l2,-0.2l2,-0.2l2,-0.2l2,-0.3l2,-0.2l2,-0.3l2,-0.3l2,-0.3l2,-0.4l2,-0.3l2,-0.4l2,-0.4l2,-0.4l2,-0.5l2,-0.4l2,-0.5l2,-0.4l2,-0.5l2,-0.5l2,-0.5l2,-0.5l2,-0.6l2,-0.5l2,-0.5l2,-0.5l2,-0.5l2,-0.5l2,-0.5l2,-0.4l2,-0.5l2,-0.4l2,-0.4l2,-0.4l2,-0.3l2,-0.3l2,-0.3l2,-0.3l2,-0.2l2,-0.1l2,-0.2l2,-0.1l2,0l2,0l2,0V1667.6"/>
<path d="M849,1685.4h26l2,-0.3l2,-0.1l2,-0.1l2,-0.2l2,-0.2l2,-0.2l2,-0.4l2,-0.4l2,-0.5l2,-0.6l2,-0.7l2,-0.8l2,-0.9l2,-1.1l2,-1.2l2,-1.3l2,-1.4l2,-1.5l2,-1.6l2,-1.6l2,-1.7l2,-1.6l2,-1.5l2,-1.5l2,-1.3l2,-1.1l2,-1l2,-0.6l2,-0.5l2,-0.1l2,0.1l2,0.5l2,0.6l2,1l2,1.1l2,1.3l2,1.5l2,1.5l2,1.6l2,1.7l2,1.6l2,1.6l2,1.5l2,1.4l2,1.3l2,1.2l2,1.1l2,0.9l2,0.8l2,0.7l2,0.6l2,0.5l2,0.4l2,0.3l2,0.2l2,0.2l2,0.1l2,0l2,-0.1l2,-0.2l2,-0.3l2,-0.4l2,-0.5l2,-0.7l2,-0.8l2,-1l2,-1l2,-1.2l2,-1.2l2,-1.1l2,-1.1l2,-0.9l2,-0.7l2,-0.4l2,-0.2l2,0.2l2,0.4l2,0.7l2,0.9l2,1.1l2,1.1l2,1.2l2,1.2l2,1l2,1l2,0.8l2,0.7l2,0.6l2,0.5l2,0.3l2,0.3l2,0.1l2,0.4h2V1685.4"/>
<path d="M849,1703.2v-3.1l2,-0.2l2,-0.2l2,-0.2l2,-0.2l2,-0.2l2,-0.1l2,-0.1l2,-0.1l2,-0.1l2,0l2,0l2,0l2,0.1l2,0.1l2,0.1l2,0.1l2,0.2l2,0.2l2,0.2l2,0.2l2,0.2l2,0.3l2,0.2l2,0.2l2,0.2l2,0.2l2,0.3l2,0.1l2,0.2l2,0.2l2,0.1l2,0.2l2,0.1l2,0.1l2,0.1l2,0.1l2,0.1l2,0l2,0.1l2,0l2,0.3h10l2,-0.3l2,0l2,-0.1l2,0l2,-0.1l2,-0.1l2,-0.1l2,-0.2l2,-0.2l2,-0.2l2,-0.2l2,-0.2l2,-0.3l2,-0.3l2,-0.4l2,-0.4l2,-0.5l2,-0.4l2,-0.6l2,-0.6l2,-0.6l2,-0.7l2,-0.7l2,-0.8l2,-0.8l2,-0.8l2,-0.9l2,-0.9l2,-0.9l2,-1l2,-0.9l2,-0.9l2,-0.9l2,-0.9l2,-0.8l2,-0.8l2,-0.7l2,-0.7l2,-0.6l2,-0.5l2,-0.4l2,-0.3l2,-0.2l2,-0.1l2,0l2,0.1l2,0.2l2,0.3l2,0.4l2,0.5l2,0.6l2,0.7l2,0.7l2,0.8l2,0.8l2,0.9l2,0.9l2,0.9l2,0.9l2,1l2,0.9V1703.2"/>
<path d="M849,1721h38l2,-0.3l2,-0.2l2,-0.4l2,-0.4l2,-0.6l2,-0.6l2,-0.6l2,-0.6l2,-0.4l2,-0.2l2,0.1l2,0.3l2,0.5l2,0.5l2,0.5l2,0.4l2,0.3l2,0.2l2,0.1l2,-0.1l2,-0.1l2,-0.2l2,-0.2l2,-0.3l2,-0.3l2,-0.3l2,-0.4l2,-0.4l2,-0.4l2,-0.5l2,-0.5l2,-0.5l2,-0.5l2,-0.6l2,-0.6l2,-0.6l2,-0.7l2,-0.6l2,-0.7l2,-0.7l2,-0.7l2,-0.6l2,-0.7l2,-0.7l2,-0.6l2,-0.6l2,-0.6l2,-0.5l2,-0.5l2,-0.5l2,-0.4l2,-0.3l2,-0.3l2,-0.2l2,-0.1l2,-0.1l2,0l2,0.1l2,0.1l2,0.2l2,0.3l2,0.3l2,0.3l2,0.4l2,0.5l2,0.4l2,0.5l2,0.4l2,0.4l2,0.4l2,0.3l2,0.3l2,0.1l2,0l2,-0.1l2,-0.3l2,-0.4l2,-0.5l2,-0.6l2,-0.8l2,-0.8l2,-0.8l2,-0.9l2,-0.7l2,-0.7l2,-0.5l2,-0.3l2,-0.1V1721"/>
<path d="M849,1738.7h46l2,-0.3l2,0l2,-0.1l2,-0.2l2,-0.1l2,-0.2l2,-0.1l2,-0.3l2,-0.2l2,-0.3l2,-0.3l2,-0.3l2,-0.4l2,-0.4l2,-0.3l2,-0.4l2,-0.4l2,-0.4l2,-0.4l2,-0.3l2,-0.3l2,-0.3l2,-0.2l2,-0.1l2,-0.2l2,0l2,0l2,0l2,0l2,0.1l2,0.1l2,0.1l2,0.1l2,0.1l2,0l2,0l2,-0.1l2,-0.1l2,-0.2l2,-0.2l2,-0.4l2,-0.4l2,-0.5l2,-0.5l2,-0.7l2,-0.7l2,-0.7l2,-0.8l2,-0.8l2,-0.9l2,-0.9l2,-0.9l2,-0.8l2,-0.9l2,-0.8l2,-0.8l2,-0.8l2,-0.7l2,-0.6l2,-0.5l2,-0.5l2,-0.3l2,-0.3l2,-0.1l2,-0.1l2,0.1l2,0.1l2,0.3l2,0.3l2,0.5l2,0.5l2,0.7l2,0.6l2,0.8l2,0.8l2,0.9l2,0.9l2,0.9l2,0.9l2,0.9l2,0.9l2,0.9l2,0.9l2,0.9V1738.7"/>
<path d="M849,1756.5h22l2,-0.3l2,-0.2l2,-0.2l2,-0.4l2,-0.6l2,-0.8l2,-1.1l2,-1.4l2,-1.6l2,-2l2,-2.1l2,-2.3l2,-2.2l2,-2.1l2,-1.7l2,-1.3l2,-0.6l2,-0.1l2,0.7l2,1.2l2,1.7l2,2l2,2.2l2,2.2l2,2l2,1.8l2,1.5l2,1.1l2,0.8l2,0.5l2,0.1l2,0l2,-0.4l2,-0.5l2,-0.6l2,-0.9l2,-0.9l2,-1.1l2,-1.2l2,-1.3l2,-1.3l2,-1.4l2,-1.4l2,-1.3l2,-1.4l2,-1.2l2,-1.1l2,-1l2,-0.8l2,-0.5l2,-0.4l2,-0.1l2,0.1l2,0.4l2,0.5l2,0.8l2,1l2,1.1l2,1.2l2,1.4l2,1.3l2,1.4l2,1.4l2,1.3l2,1.3l2,1.2l2,1.1l2,1l2,0.9l2,0.8l2,0.7l2,0.6l2,0.5l2,0.4l2,0.4l2,0.2l2,0.3l2,0.1l2,0.2l2,0.1l2,0.3h30V1756.5"/>
<path d="M849,1774.3v-0.8l2,-0.1l2,-0.1l2,-0.1l2,-0.1l2,-0.1l2,-0.1l2,-0.1l2,-0.2l2,-0.1l2,-0.1l2,-0.1l2,-0.1l2,-0.1l2,-0.1l2,-0.1l2,-0.1l2,-0.1l2,-0.1l2,-0.1l2,-0.1l2,0l2,-0.1l2,0l2,-0.1l2,0l2,0l2,0l2,0l2,0l2,0l2,0l2,0l2,0.1l2,0l2,0l2,0l2,0l2,0l2,0l2,0l2,-0.1l2,0l2,-0.1l2,-0.1l2,-0.1l2,-0.1l2,-0.2l2,-0.2l2,-0.2l2,-0.2l2,-0.3l2,-0.2l2,-0.3l2,-0.4l2,-0.3l2,-0.4l2,-0.4l2,-0.4l2,-0.4l2,-0.4l2,-0.4l2,-0.4l2,-0.4l2,-0.4l2,-0.4l2,-0.4l2,-0.4l2,-0.3l2,-0.3l2,-0.3l2,-0.2l2,-0.2l2,-0.2l2,-0.2l2,-0.1l2,-0.1l2,0l2,-0.1l2,0l2,-0.1l2,0l2,0l2,-0.1l2,-0.1l2,-0.1l2,-0.2l2,-0.2l2,-0.3l2,-0.3l2,-0.5l2,-0.5l2,-0.6l2,-0.7l2,-0.7l2,-0.9l2,-0.9l2,-0.9l2,-1l2,-1.1l2,-1l2,-1l2,-1l2,-1l2,-0.8l2,-0.8l2,-0.6l2,-0.6V1774.3"/>
<path d="M849,1792h48l2,-0.3l2,-0.1l2,-0.1l2,-0.2l2,-0.2l2,-0.3l2,-0.4l2,-0.4l2,-0.4l2,-0.6l2,-0.6l2,-0.7l2,-0.7l2,-0.8l2,-0.8l2,-0.7l2,-0.8l2,-0.7l2,-0.6l2,-0.4l2,-0.4l2,-0.2l2,-0.1l2,0l2,0.2l2,0.3l2,0.4l2,0.5l2,0.5l2,0.5l2,0.5l2,0.5l2,0.4l2,0.3l2,0.3l2,0.1l2,0l2,0l2,-0.2l2,-0.3l2,-0.4l2,-0.4l2,-0.6l2,-0.6l2,-0.6l2,-0.7l2,-0.8l2,-0.7l2,-0.8l2,-0.9l2,-0.8l2,-0.8l2,-0.8l2,-0.8l2,-0.8l2,-0.7l2,-0.7l2,-0.7l2,-0.6l2,-0.6l2,-0.4l2,-0.4l2,-0.4l2,-0.2l2,-0.2l2,-0.1l2,0l2,0.1l2,0.2l2,0.2l2,0.4l2,0.4l2,0.4l2,0.6l2,0.6l2,0.7l2,0.7l2,0.7l2,0.8l2,0.8l2,0.8l2,0.8l2,0.9V1792"/>
<path d="M849,1809.8h12l2,-0.3l2,0l2,-0.1l2,-0.1l2,-0.1l2,-0.1l2,-0.1l2,-0.1l2,-0.2l2,-0.2l2,-0.1l2,-0.2l2,-0.2l2,-0.2l2,-0.3l2,-0.2l2,-0.2l2,-0.3l2,-0.2l2,-0.2l2,-0.3l2,-0.2l2,-0.2l2,-0.2l2,-0.1l2,-0.1l2,-0.1l2,-0.1l2,-0.1l2,0l2,0l2,0.1l2,0l2,0.1l2,0.2l2,0.1l2,0.1l2,0.2l2,0.1l2,0.2l2,0.1l2,0.1l2,0.1l2,0.1l2,0l2,0l2,0l2,-0.1l2,-0.1l2,-0.1l2,-0.2l2,-0.3l2,-0.3l2,-0.4l2,-0.4l2,-0.5l2,-0.6l2,-0.6l2,-0.6l2,-0.7l2,-0.8l2,-0.8l2,-0.8l2,-0.9l2,-0.9l2,-1l2,-0.9l2,-1l2,-1l2,-1l2,-0.9l2,-1l2,-0.9l2,-0.9l2,-0.8l2,-0.8l2,-0.7l2,-0.6l2,-0.6l2,-0.5l2,-0.4l2,-0.3l2,-0.2l2,-0.1l2,0l2,0.1l2,0.2l2,0.3l2,0.4l2,0.5l2,0.6l2,0.6l2,0.7l2,0.8l2,0.8l2,0.9l2,0.9l2,1l2,1l2,0.9l2,1V1809.8"/>
<path d="M849,1827.6h32l2,-0.3l2,0l2,-0.1l2,-0.1l2,-0.1l2,-0.1l2,-0.1l2,-0.1l2,-0.2l2,-0.2l2,-0.1l2,-0.2l2,-0.2l2,-0.2l2,-0.3l2,-0.2l2,-0.2l2,-0.3l2,-0.2l2,-0.3l2,-0.2l2,-0.2l2,-0.2l2,-0.2l2,-0.1l2,-0.2l2,-0.1l2,-0.1l2,0l2,-0.1l2,0l2,0l2,0.1l2,0l2,0.1l2,0.1l2,0.1l2,0.1l2,0.1l2,0.1l2,0l2,0.1l2,0l2,0l2,-0.1l2,-0.1l2,-0.1l2,-0.2l2,-0.2l2,-0.3l2,-0.3l2,-0.4l2,-0.5l2,-0.5l2,-0.5l2,-0.6l2,-0.6l2,-0.7l2,-0.7l2,-0.8l2,-0.7l2,-0.8l2,-0.8l2,-0.8l2,-0.9l2,-0.8l2,-0.7l2,-0.8l2,-0.8l2,-0.7l2,-0.6l2,-0.6l2,-0.6l2,-0.4l2,-0.5l2,-0.3l2,-0.2l2,-0.2l2,-0.1l2,0l2,0.1l2,0.2l2,0.2l2,0.4l2,0.4l2,0.4l2,0.6l2,0.6l2,0.7l2,0.7l2,0.7V1827.6"/>
<path d="M849,1845.3v-1.2l2,-0.2l2,-0.2l2,-0.2l2,-0.3l2,-0.2l2,-0.3l2,-0.3l2,-0.3l2,-0.3l2,-0.3l2,-0.3l2,-0.3l2,-0.3l2,-0.2l2,-0.3l2,-0.2l2,-0.2l2,-0.2l2,-0.1l2,-0.1l2,0l2,0l2,0l2,0.1l2,0.1l2,0.1l2,0.1l2,0.2l2,0.2l2,0.2l2,0.2l2,0.2l2,0.2l2,0.2l2,0.1l2,0.1l2,0.1l2,0l2,-0.1l2,-0.1l2,-0.1l2,-0.2l2,-0.3l2,-0.3l2,-0.4l2,-0.5l2,-0.5l2,-0.5l2,-0.6l2,-0.6l2,-0.7l2,-0.6l2,-0.7l2,-0.6l2,-0.6l2,-0.6l2,-0.5l2,-0.5l2,-0.4l2,-0.3l2,-0.2l2,-0.2l2,0l2,0l2,0.1l2,0.3l2,0.3l2,0.4l2,0.4l2,0.5l2,0.6l2,0.5l2,0.6l2,0.7l2,0.6l2,0.5l2,0.6l2,0.5l2,0.4l2,0.4l2,0.3l2,0.2l2,0.2l2,0.1l2,-0.1l2,-0.1l2,-0.2l2,-0.2l2,-0.4l2,-0.4l2,-0.5l2,-0.5l2,-0.6l2,-0.5l2,-0.6l2,-0.7l2,-0.5l2,-0.6l2,-0.5l2,-0.5l2,-0.4l2,-0.4l2,-0.3l2,-0.1l2,-0.1l2,0l2,0.1V1845.3"/>
<path d="M849,1863.1v-0.7l2,-0.2l2,-0.1l2,-0.2l2,-0.2l2,-0.2l2,-0.3l2,-0.2l2,-0.3l2,-0.3l2,-0.3l2,-0.4l2,-0.3l2,-0.4l2,-0.3l2,-0.4l2,-0.3l2,-0.3l2,-0.4l2,-0.2l2,-0.3l2,-0.2l2,-0.2l2,-0.1l2,-0.1l2,-0.1l2,0l2,0.1l2,0.1l2,0.1l2,0.2l2,0.2l2,0.3l2,0.2l2,0.4l2,0.3l2,0.3l2,0.4l2,0.3l2,0.4l2,0.3l2,0.4l2,0.3l2,0.3l2,0.3l2,0.2l2,0.3l2,0.2l2,0.2l2,0.2l2,0.1l2,0.2l2,0.1l2,0.1l2,0.1l2,0.1l2,0l2,0.3h10l2,-0.3l2,-0.1l2,-0.1l2,-0.2l2,-0.3l2,-0.3l2,-0.5l2,-0.6l2,-0.7l2,-1l2,-1.1l2,-1.3l2,-1.5l2,-1.7l2,-2l2,-2l2,-2.2l2,-2.3l2,-2.3l2,-2.2l2,-2l2,-1.9l2,-1.5l2,-1.2l2,-0.7l2,-0.4l2,0.2l2,0.5l2,0.9l2,1.2l2,1.5l2,1.7l2,1.8l2,1.8l2,1.8l2,1.6l2,1.5l2,1.3l2,1.1l2,1l2,0.7l2,0.7l2,0.5l2,0.5l2,0.4V1863.1"/>
<path d="M849,1880.9v-0.5l2,-0.1l2,-0.1l2,-0.2l2,-0.1l2,-0.2l2,-0.1l2,-0.2l2,-0.2l2,-0.2l2,-0.3l2,-0.2l2,-0.3l2,-0.2l2,-0.3l2,-0.2l2,-0.3l2,-0.2l2,-0.2l2,-0.2l2,-0.2l2,-0.2l2,-0.1l2,-0.1l2,-0.1l2,0l2,0l2,0l2,0.1l2,0.1l2,0.1l2,0.2l2,0.2l2,0.2l2,0.2l2,0.2l2,0.3l2,0.2l2,0.3l2,0.2l2,0.3l2,0.2l2,0.3l2,0.2l2,0.2l2,0.1l2,0.2l2,0.2l2,0.1l2,0.1l2,0.1l2,0.1l2,0l2,0l2,0l2,-0.1l2,-0.1l2,-0.1l2,-0.2l2,-0.2l2,-0.3l2,-0.4l2,-0.5l2,-0.5l2,-0.7l2,-0.8l2,-0.9l2,-1l2,-1.1l2,-1.3l2,-1.4l2,-1.5l2,-1.7l2,-1.7l2,-1.7l2,-1.8l2,-1.8l2,-1.8l2,-1.7l2,-1.6l2,-1.5l2,-1.2l2,-1.1l2,-0.8l2,-0.6l2,-0.3l2,0l2,0.3l2,0.6l2,0.8l2,1.1l2,1.2l2,1.5l2,1.6l2,1.7l2,1.8l2,1.8l2,1.8l2,1.7l2,1.8l2,1.6l2,1.5l2,1.4l2,1.3l2,1.1l2,1.1l2,0.9l2,0.7V1880.9"/>
<path d="M849,1898.7h82l2,-0.3l2,0l2,-0.1l2,-0.1l2,-0.1l2,-0.2l2,-0.1l2,-0.2l2,-0.2l2,-0.2l2,-0.3l2,-0.3l2,-0.4l2,-0.4l2,-0.4l2,-0.5l2,-0.6l2,-0.6l2,-0.6l2,-0.8l2,-0.7l2,-0.9l2,-0.9l2,-0.9l2,-1l2,-1l2,-1.1l2,-1.1l2,-1.1l2,-1.2l2,-1.1l2,-1.1l2,-1.1l2,-1.1l2,-1l2,-1l2,-0.9l2,-0.8l2,-0.7l2,-0.6l2,-0.5l2,-0.4l2,-0.3l2,-0.1l2,0l2,0.1l2,0.3l2,0.4l2,0.5l2,0.6l2,0.7l2,0.8l2,0.9l2,1l2,1l2,1.1l2,1.1l2,1.1l2,1.1l2,1.2l2,1.1l2,1.1l2,1.1l2,1l2,1l2,0.9V1898.7"/>
<path d="M849,1916.4v-2.4l2,-0.1l2,-0.1l2,-0.1l2,-0.1l2,0l2,-0.1l2,0l2,-0.1l2,0l2,0l2,0l2,0l2,0l2,0.1l2,0l2,0.1l2,0l2,0.1l2,0.1l2,0.1l2,0.1l2,0.1l2,0.1l2,0.1l2,0.1l2,0.1l2,0.1l2,0.2l2,0.1l2,0.1l2,0.1l2,0.1l2,0.1l2,0.1l2,0.1l2,0.1l2,0l2,0.1l2,0.1l2,0l2,0.1l2,0l2,0.1l2,0l2,0.1l2,0l2,0l2,0l2,0l2,0l2,0l2,-0.1l2,0l2,-0.1l2,-0.1l2,-0.1l2,-0.1l2,-0.1l2,-0.2l2,-0.2l2,-0.2l2,-0.3l2,-0.3l2,-0.3l2,-0.4l2,-0.4l2,-0.5l2,-0.5l2,-0.6l2,-0.6l2,-0.7l2,-0.8l2,-0.8l2,-0.8l2,-0.9l2,-1l2,-1l2,-1l2,-1.1l2,-1.1l2,-1.1l2,-1.1l2,-1l2,-1.1l2,-1l2,-1l2,-0.9l2,-0.9l2,-0.8l2,-0.7l2,-0.6l2,-0.4l2,-0.4l2,-0.3l2,-0.1l2,0l2,0.1l2,0.3l2,0.4l2,0.4l2,0.6l2,0.7l2,0.8l2,0.9l2,0.9l2,1l2,1V1916.4"/>
<path d="M849,1934.2h76l2,-0.3l2,-0.1l2,-0.1l2,-0.2l2,-0.2l2,-0.2l2,-0.3l2,-0.3l2,-0.3l2,-0.3l2,-0.2l2,-0.3l2,-0.2l2,-0.1l2,-0.1l2,0l2,0.1l2,0.1l2,0.2l2,0.1l2,0.2l2,0.2l2,0.1l2,0.1l2,0.1l2,0l2,-0.1l2,-0.2l2,-0.2l2,-0.3l2,-0.3l2,-0.4l2,-0.5l2,-0.6l2,-0.6l2,-0.7l2,-0.7l2,-0.8l2,-0.9l2,-0.9l2,-1l2,-1l2,-1.1l2,-1.1l2,-1.1l2,-1.2l2,-1.2l2,-1.1l2,-1.2l2,-1.2l2,-1.1l2,-1l2,-1l2,-0.9l2,-0.9l2,-0.7l2,-0.7l2,-0.5l2,-0.4l2,-0.2l2,-0.2l2,0l2,0.2l2,0.2l2,0.4l2,0.5l2,0.7l2,0.7l2,0.9V1934.2"/>
<path d="M849,1952h48l2,-0.3l2,0l2,-0.1l2,-0.1l2,-0.1l2,-0.1l2,-0.2l2,-0.1l2,-0.2l2,-0.2l2,-0.2l2,-0.3l2,-0.2l2,-0.3l2,-0.3l2,-0.3l2,-0.4l2,-0.3l2,-0.4l2,-0.3l2,-0.4l2,-0.3l2,-0.4l2,-0.3l2,-0.3l2,-0.2l2,-0.2l2,-0.2l2,-0.2l2,-0.1l2,0l2,0l2,0l2,0.1l2,0.1l2,0.2l2,0.2l2,0.2l2,0.2l2,0.3l2,0.3l2,0.2l2,0.3l2,0.3l2,0.2l2,0.2l2,0.2l2,0.1l2,0.1l2,0l2,0l2,-0.1l2,-0.2l2,-0.2l2,-0.3l2,-0.3l2,-0.5l2,-0.5l2,-0.6l2,-0.6l2,-0.8l2,-0.8l2,-0.8l2,-1l2,-0.9l2,-1.1l2,-1l2,-1.1l2,-1.1l2,-1.2l2,-1.1l2,-1.1l2,-1.1l2,-1l2,-1l2,-0.9l2,-0.9l2,-0.8l2,-0.6l2,-0.6l2,-0.4l2,-0.3l2,-0.2V1952"/>
<path d="M849,1969.7v-3.8l2,-0.2l2,0.2l2,0.5l2,0.7l2,0.7l2,0.7l2,0.5l2,0.3l2,0.4h104l2,-0.3l2,0l2,-0.1l2,-0.1l2,-0.1l2,-0.1l2,-0.1l2,-0.2l2,-0.1l2,-0.2l2,-0.2l2,-0.3l2,-0.3l2,-0.3l2,-0.3l2,-0.4l2,-0.5l2,-0.4l2,-0.6l2,-0.5l2,-0.6l2,-0.7l2,-0.7l2,-0.8l2,-0.8l2,-0.8l2,-0.9l2,-1l2,-0.9l2,-1l2,-1l2,-1.1l2,-1.1l2,-1l2,-1.1l2,-1l2,-1l2,-1l2,-1l2,-0.9l2,-0.8l2,-0.8l2,-0.7l2,-0.6l2,-0.5l2,-0.4V1969.7"/>
<path d="M849,1987.5v-1l2,-0.1l2,-0.1l2,-0.1l2,-0.1l2,-0.1l2,-0.2l2,-0.1l2,-0.1l2,-0.2l2,-0.1l2,-0.1l2,-0.2l2,-0.1l2,-0.1l2,-0.1l2,-0.1l2,-0.1l2,-0.1l2,-0.1l2,-0.1l2,-0.1l2,0l2,-0.1l2,0l2,0l2,0l2,0l2,0l2,0.1l2,0l2,0.1l2,0.1l2,0.1l2,0.1l2,0.1l2,0.1l2,0.1l2,0.1l2,0.1l2,0.2l2,0.1l2,0.1l2,0.2l2,0.1l2,0.1l2,0.1l2,0.1l2,0.1l2,0.1l2,0.1l2,0l2,0.1l2,0l2,0l2,0l2,-0.1l2,-0.1l2,-0.1l2,-0.2l2,-0.2l2,-0.2l2,-0.4l2,-0.3l2,-0.5l2,-0.5l2,-0.5l2,-0.7l2,-0.7l2,-0.8l2,-0.8l2,-0.9l2,-1l2,-1l2,-1.1l2,-1.1l2,-1.1l2,-1.1l2,-1.1l2,-1l2,-1l2,-1l2,-0.8l2,-0.8l2,-0.6l2,-0.5l2,-0.4l2,-0.2l2,-0.1l2,0.1l2,0.2l2,0.4l2,0.5l2,0.6l2,0.8l2,0.8l2,1l2,1l2,1.1l2,1l2,1.2l2,1.1l2,1.1l2,1l2,1.1l2,0.9l2,1l2,0.8V1987.5"/>
<path d="M849,2005.3h22l2,-0.3l2,-0.1l2,-0.2l2,-0.2l2,-0.2l2,-0.3l2,-0.4l2,-0.3l2,-0.4l2,-0.4l2,-0.3l2,-0.3l2,-0.3l2,-0.2l2,-0.1l2,0l2,0.1l2,0.2l2,0.3l2,0.3l2,0.3l2,0.4l2,0.4l2,0.3l2,0.4l2,0.3l2,0.2l2,0.2l2,0.2l2,0.1l2,0.3h10l2,-0.3l2,-0.2l2,-0.1l2,-0.3l2,-0.3l2,-0.4l2,-0.5l2,-0.5l2,-0.6l2,-0.7l2,-0.6l2,-0.7l2,-0.6l2,-0.5l2,-0.4l2,-0.2l2,-0.1l2,0.1l2,0.2l2,0.4l2,0.5l2,0.6l2,0.6l2,0.6l2,0.6l2,0.5l2,0.5l2,0.4l2,0.3l2,0.1l2,0.1l2,0l2,-0.1l2,-0.2l2,-0.3l2,-0.4l2,-0.4l2,-0.6l2,-0.6l2,-0.8l2,-0.8l2,-0.9l2,-1.1l2,-1.1l2,-1.3l2,-1.3l2,-1.4l2,-1.5l2,-1.6l2,-1.6l2,-1.7l2,-1.6l2,-1.7l2,-1.6l2,-1.6l2,-1.4l2,-1.4l2,-1.2l2,-1.1l2,-0.8V2005.3"/>
<path d="M849,2023v-4.2l2,-0.6l2,-0.5l2,-0.5l2,-0.4l2,-0.3l2,-0.3l2,-0.1l2,-0.1l2,0.1l2,0.1l2,0.3l2,0.3l2,0.4l2,0.5l2,0.5l2,0.6l2,0.5l2,0.5l2,0.5l2,0.4l2,0.4l2,0.4l2,0.3l2,0.2l2,0.3l2,0.1l2,0.2l2,0.1l2,0l2,0.3h8l2,-0.3l2,-0.1l2,-0.1l2,-0.2l2,-0.2l2,-0.3l2,-0.3l2,-0.3l2,-0.5l2,-0.5l2,-0.5l2,-0.6l2,-0.6l2,-0.7l2,-0.6l2,-0.6l2,-0.6l2,-0.5l2,-0.4l2,-0.3l2,-0.2l2,-0.1l2,0.1l2,0.2l2,0.3l2,0.4l2,0.5l2,0.6l2,0.6l2,0.6l2,0.7l2,0.6l2,0.6l2,0.5l2,0.5l2,0.4l2,0.4l2,0.3l2,0.2l2,0.2l2,0.1l2,0.1l2,0l2,0l2,-0.1l2,-0.1l2,-0.2l2,-0.3l2,-0.3l2,-0.5l2,-0.5l2,-0.6l2,-0.7l2,-0.8l2,-1l2,-1.1l2,-1.2l2,-1.3l2,-1.4l2,-1.5l2,-1.5l2,-1.6l2,-1.6l2,-1.5l2,-1.5l2,-1.3l2,-1.2l2,-1l2,-0.8l2,-0.5l2,-0.3l2,0l2,0.3V2023"/>
<path d="M849,2040.8h34l2,-0.3l2,-0.1l2,-0.2l2,-0.2l2,-0.3l2,-0.3l2,-0.3l2,-0.5l2,-0.4l2,-0.4l2,-0.5l2,-0.4l2,-0.3l2,-0.3l2,-0.2l2,0l2,0l2,0.2l2,0.3l2,0.3l2,0.4l2,0.4l2,0.5l2,0.4l2,0.4l2,0.3l2,0.3l2,0.2l2,0.2l2,0.2l2,0l2,0.1l2,0l2,0l2,-0.1l2,-0.1l2,0l2,-0.2l2,-0.1l2,-0.2l2,-0.1l2,-0.3l2,-0.2l2,-0.3l2,-0.2l2,-0.4l2,-0.3l2,-0.4l2,-0.4l2,-0.5l2,-0.5l2,-0.5l2,-0.6l2,-0.6l2,-0.6l2,-0.7l2,-0.7l2,-0.7l2,-0.8l2,-0.8l2,-0.7l2,-0.8l2,-0.8l2,-0.8l2,-0.8l2,-0.8l2,-0.7l2,-0.7l2,-0.7l2,-0.6l2,-0.6l2,-0.5l2,-0.5l2,-0.4l2,-0.3l2,-0.2l2,-0.2l2,-0.1l2,0l2,0.1l2,0.2l2,0.2l2,0.3l2,0.4l2,0.5l2,0.5l2,0.6l2,0.6l2,0.7l2,0.7V2040.8"/>
<path d="M849,2058.6h34l2,-0.3l2,-0.1l2,-0.2l2,-0.2l2,-0.3l2,-0.4l2,-0.4l2,-0.5l2,-0.5l2,-0.7l2,-0.6l2,-0.7l2,-0.8l2,-0.6l2,-0.7l2,-0.6l2,-0.4l2,-0.3l2,-0.2l2,0l2,0.2l2,0.3l2,0.4l2,0.6l2,0.6l2,0.7l2,0.7l2,0.8l2,0.6l2,0.6l2,0.6l2,0.5l2,0.4l2,0.3l2,0.3l2,0.2l2,0.1l2,0.1l2,0.1l2,0l2,0l2,-0.1l2,0l2,-0.1l2,-0.1l2,-0.2l2,-0.1l2,-0.2l2,-0.2l2,-0.3l2,-0.3l2,-0.3l2,-0.4l2,-0.4l2,-0.4l2,-0.5l2,-0.6l2,-0.6l2,-0.7l2,-0.7l2,-0.8l2,-0.8l2,-0.9l2,-0.9l2,-1l2,-0.9l2,-1.1l2,-1l2,-1.1l2,-1l2,-1.1l2,-1l2,-1l2,-0.9l2,-0.9l2,-0.8l2,-0.8l2,-0.6l2,-0.6l2,-0.5l2,-0.3l2,-0.3l2,-0.1l2,0l2,0.1l2,0.3l2,0.3l2,0.5l2,0.6l2,0.6V2058.6"/>
<path d="M849,2076.4v-6.7l2,-0.3l2,0.3l2,0.9l2,1.2l2,1.3l2,1.2l2,0.8l2,0.6l2,0.4l2,0.3h66l2,-0.4l2,-0.2l2,-0.4l2,-0.5l2,-0.6l2,-0.9l2,-1l2,-1.3l2,-1.4l2,-1.6l2,-1.6l2,-1.5l2,-1.3l2,-1.1l2,-0.7l2,-0.2l2,0.2l2,0.7l2,1.1l2,1.3l2,1.5l2,1.6l2,1.6l2,1.4l2,1.2l2,1.1l2,0.8l2,0.7l2,0.4l2,0.4l2,0.2l2,0.1l2,0l2,0l2,-0.1l2,-0.2l2,-0.2l2,-0.2l2,-0.4l2,-0.4l2,-0.5l2,-0.6l2,-0.7l2,-0.8l2,-1l2,-1.1l2,-1.3l2,-1.4l2,-1.5l2,-1.6l2,-1.8l2,-1.7l2,-1.9l2,-1.8l2,-1.8l2,-1.7l2,-1.5l2,-1.4l2,-1.1l2,-0.9l2,-0.6l2,-0.4l2,0l2,0.4V2076.4"/>
<path d="M849,2094.1h10l2,-0.3l2,-0.1l2,-0.1l2,-0.1l2,-0.2l2,-0.1l2,-0.2l2,-0.2l2,-0.3l2,-0.3l2,-0.3l2,-0.3l2,-0.3l2,-0.3l2,-0.4l2,-0.3l2,-0.3l2,-0.3l2,-0.3l2,-0.3l2,-0.1l2,-0.2l2,-0.1l2,0l2,0l2,0.1l2,0.2l2,0.1l2,0.3l2,0.3l2,0.2l2,0.4l2,0.3l2,0.3l2,0.3l2,0.3l2,0.2l2,0.1l2,0.1l2,0l2,-0.2l2,-0.3l2,-0.5l2,-0.6l2,-0.8l2,-1l2,-1.1l2,-1.2l2,-1.3l2,-1.3l2,-1.1l2,-1l2,-0.8l2,-0.5l2,-0.1l2,0.1l2,0.6l2,0.7l2,1.1l2,1.2l2,1.3l2,1.3l2,1.3l2,1.2l2,1.1l2,0.9l2,0.8l2,0.6l2,0.5l2,0.3l2,0.3l2,0.1l2,0.1l2,0l2,-0.1l2,-0.1l2,-0.2l2,-0.2l2,-0.4l2,-0.4l2,-0.5l2,-0.6l2,-0.8l2,-0.9l2,-1l2,-1.2l2,-1.3l2,-1.5l2,-1.7l2,-1.8l2,-1.9l2,-2l2,-2.1l2,-2.1l2,-2l2,-2l2,-1.8l2,-1.7l2,-1.5l2,-1.1l2,-0.9l2,-0.5V2094.1"/>
</g>
<rect x="1284" y="914.3" width="121" height="2.2" fill="#2020A0"/>
<rect x="1284" y="1532.3" width="121" height="2.2" fill="#2020A0"/>
<text x="0" y="0" transform="translate(1338,662) rotate(90)" font-family="'Liberation Mono', monospace" font-size="30" font-weight="bold" fill="#1010B0" text-anchor="middle" textLength="51" lengthAdjust="spacingAndGlyphs">Z-1</text>
<text x="0" y="0" transform="translate(1338,1225) rotate(90)" font-family="'Liberation Mono', monospace" font-size="30" font-weight="bold" fill="#1010B0" text-anchor="middle" textLength="51" lengthAdjust="spacingAndGlyphs">Z-2</text>
<text x="0" y="0" transform="translate(1338,1819) rotate(90)" font-family="'Liberation Mono', monospace" font-size="30" font-weight="bold" fill="#1010B0" text-anchor="middle" textLength="51" lengthAdjust="spacingAndGlyphs">Z-3</text>
<rect x="75" y="97" width="210" height="36" fill="url(#shale2)"/>
<rect x="75" y="160" width="210" height="33" fill="url(#sand)"/>
<rect x="75" y="221" width="210" height="34" fill="url(#calc2)"/>
<rect x="75" y="282" width="210" height="33" fill="url(#dolo2)"/>
<rect x="75" y="342.5" width="210" height="33.5" fill="url(#anhy)"/>
<rect x="75" y="133" width="210" height="2.5" fill="#000"/>
<rect x="75" y="193" width="210" height="2.5" fill="#000"/>
<rect x="75" y="255" width="210" height="2.5" fill="#000"/>
<rect x="75" y="315" width="210" height="2.5" fill="#000"/>
<rect x="75" y="376" width="210" height="2.5" fill="#000"/>
<rect x="140" y="108.6" width="80" height="24.4" fill="#fff"/>
<rect x="147.5" y="170" width="65" height="23" fill="#fff"/>
<rect x="140" y="229" width="80" height="26" fill="#fff"/>
<rect x="140" y="290" width="80" height="25" fill="#fff"/>
<rect x="140" y="350" width="80" height="26" fill="#fff"/>
<text x="152" y="128" font-family="'Liberation Sans', sans-serif" font-size="23.5" fill="#6a6a6a" font-weight="normal" textLength="57.5" lengthAdjust="spacingAndGlyphs" font-weight="300">VOL</text>
<text x="159" y="188.5" font-family="'Liberation Sans', sans-serif" font-size="23.5" fill="#6a6a6a" font-weight="normal" textLength="40.5" lengthAdjust="spacingAndGlyphs">vol</text>
<text x="152" y="249.5" font-family="'Liberation Sans', sans-serif" font-size="23.5" fill="#6a6a6a" font-weight="normal" textLength="57.5" lengthAdjust="spacingAndGlyphs">VOL</text>
<text x="152" y="310" font-family="'Liberation Sans', sans-serif" font-size="23.5" fill="#6a6a6a" font-weight="normal" textLength="57.5" lengthAdjust="spacingAndGlyphs">VOL</text>
<text x="152" y="370.4" font-family="'Liberation Sans', sans-serif" font-size="23.5" fill="#6a6a6a" font-weight="normal" textLength="57.5" lengthAdjust="spacingAndGlyphs">VOL</text>
<text x="79.5" y="149" font-family="'Liberation Sans', sans-serif" font-size="17" fill="#6a6a6a" font-weight="normal">0</text>
<text x="121" y="149" font-family="'Liberation Sans', sans-serif" font-size="17" fill="#6a6a6a" font-weight="normal" textLength="116.5" lengthAdjust="spacingAndGlyphs">V/V SHALE</text>
<text x="273" y="149" font-family="'Liberation Sans', sans-serif" font-size="17" fill="#6a6a6a" font-weight="normal">1</text>
<text x="79.5" y="270.5" font-family="'Liberation Sans', sans-serif" font-size="17" fill="#6a6a6a" font-weight="normal">0</text>
<text x="114" y="270.5" font-family="'Liberation Sans', sans-serif" font-size="17" fill="#6a6a6a" font-weight="normal" textLength="132" lengthAdjust="spacingAndGlyphs">V/V CALCITE</text>
<text x="273" y="270.5" font-family="'Liberation Sans', sans-serif" font-size="17" fill="#6a6a6a" font-weight="normal">1</text>
<text x="79.5" y="331" font-family="'Liberation Sans', sans-serif" font-size="17" fill="#6a6a6a" font-weight="normal">0</text>
<text x="103" y="331" font-family="'Liberation Sans', sans-serif" font-size="17" fill="#6a6a6a" font-weight="normal" textLength="153" lengthAdjust="spacingAndGlyphs">V/V DOLOMITE</text>
<text x="273" y="331" font-family="'Liberation Sans', sans-serif" font-size="17" fill="#6a6a6a" font-weight="normal">1</text>
<text x="79.5" y="392" font-family="'Liberation Sans', sans-serif" font-size="17" fill="#6a6a6a" font-weight="normal">0</text>
<text x="99.5" y="392" font-family="'Liberation Sans', sans-serif" font-size="17" fill="#6a6a6a" font-weight="normal" textLength="162.5" lengthAdjust="spacingAndGlyphs">V/V ANHYDRITE</text>
<text x="273" y="392" font-family="'Liberation Sans', sans-serif" font-size="17" fill="#6a6a6a" font-weight="normal">1</text>
<text x="127" y="209.5" font-family="'Liberation Sans', sans-serif" font-size="17" fill="#6a6a6a" font-weight="normal" textLength="105" lengthAdjust="spacingAndGlyphs">V/V SAND</text>
<text x="305.6" y="246" font-family="'Liberation Sans', sans-serif" font-size="23.5" fill="#777" font-weight="normal" textLength="94.4" lengthAdjust="spacingAndGlyphs">DEPTH</text>
<text x="347" y="265" font-family="'Liberation Sans', sans-serif" font-size="16.5" fill="#777" font-weight="normal" textLength="12" lengthAdjust="spacingAndGlyphs">M</text>
<text x="320" y="294.4" font-family="'Liberation Sans', sans-serif" font-size="25" fill="#777" font-weight="normal">:</text>
<text x="349" y="294.4" font-family="'Liberation Sans', sans-serif" font-size="25" fill="#888" font-weight="normal" textLength="70" lengthAdjust="spacingAndGlyphs">1000</text>
<text x="549" y="128" font-family="'Liberation Sans', sans-serif" font-size="25" fill="#8c94c0" font-weight="normal" textLength="60.5" lengthAdjust="spacingAndGlyphs">SWE</text>
<line x1="525" y1="134.5" x2="629" y2="134.5" stroke="#1a1a80" stroke-width="2" stroke-dasharray="2,1.6"/>
<rect x="524" y="124" width="2.5" height="11" fill="#1a1a80"/>
<text x="533.5" y="149" font-family="'Liberation Sans', sans-serif" font-size="15" fill="#a0a0c0" font-weight="normal">1</text>
<text x="562" y="149" font-family="'Liberation Sans', sans-serif" font-size="15" fill="#777" font-weight="normal" textLength="32" lengthAdjust="spacingAndGlyphs">V/V</text>
<text x="613" y="149" font-family="'Liberation Sans', sans-serif" font-size="15" fill="#777" font-weight="normal">0</text>
<text x="438" y="188.4" font-family="'Liberation Sans', sans-serif" font-size="25" fill="#c89a9a" font-weight="normal" textLength="175" lengthAdjust="spacingAndGlyphs">PHIT_CORE</text>
<circle cx="470.7" cy="195.4" r="3.3" fill="#d01010"/>
<circle cx="579" cy="195.4" r="3.3" fill="#d01010"/>
<text x="424.5" y="208.6" font-family="'Liberation Sans', sans-serif" font-size="14.5" fill="#c09090" font-weight="normal">0</text>
<text x="506" y="208.6" font-family="'Liberation Sans', sans-serif" font-size="14.5" fill="#a08080" font-weight="normal" textLength="37.6" lengthAdjust="spacingAndGlyphs">V/V</text>
<text x="594.7" y="208.6" font-family="'Liberation Sans', sans-serif" font-size="14.5" fill="#c09090" font-weight="normal" textLength="31" lengthAdjust="spacingAndGlyphs">0.5</text>
<text x="491.6" y="248" font-family="'Liberation Sans', sans-serif" font-size="24" fill="#999" font-weight="normal" textLength="67.4" lengthAdjust="spacingAndGlyphs">PHIE</text>
<rect x="421" y="253" width="208" height="4" fill="#444"/>
<text x="424.5" y="271" font-family="'Liberation Sans', sans-serif" font-size="14.5" fill="#777" font-weight="normal">0</text>
<text x="506" y="271" font-family="'Liberation Sans', sans-serif" font-size="14.5" fill="#777" font-weight="normal" textLength="37.6" lengthAdjust="spacingAndGlyphs">V/V</text>
<text x="594.7" y="271" font-family="'Liberation Sans', sans-serif" font-size="14.5" fill="#777" font-weight="normal" textLength="31" lengthAdjust="spacingAndGlyphs">0.5</text>
<rect x="421" y="281" width="208" height="34" fill="#FF0000"/>
<rect x="492" y="289.6" width="67" height="25" fill="#fff"/>
<text x="503" y="309" font-family="'Liberation Sans', sans-serif" font-size="24" fill="#777" font-weight="normal" textLength="40" lengthAdjust="spacingAndGlyphs">vol</text>
<rect x="421" y="315" width="208" height="2" fill="#000"/>
<text x="497" y="331.5" font-family="'Liberation Sans', sans-serif" font-size="15" fill="#666" font-weight="normal" textLength="56" lengthAdjust="spacingAndGlyphs">(GAS)</text>
<rect x="421" y="343" width="104" height="33" fill="#B0E8EA"/>
<rect x="525" y="343" width="104" height="33" fill="#2E9E1E"/>
<rect x="432" y="350" width="187" height="26" fill="#fff"/>
<text x="443" y="370.4" font-family="'Liberation Sans', sans-serif" font-size="24" fill="#777" font-weight="normal" textLength="165" lengthAdjust="spacingAndGlyphs">VOL_UWAT</text>
<rect x="421" y="376" width="208" height="3" fill="#000"/>
<text x="424.5" y="392" font-family="'Liberation Sans', sans-serif" font-size="15.5" fill="#555" font-weight="normal" textLength="201" lengthAdjust="spacingAndGlyphs">0 (WATER - OIL)0.5</text>
<text x="647" y="312.6" font-family="'Liberation Sans', sans-serif" font-size="24" fill="#1414A0" font-weight="normal" textLength="188" lengthAdjust="spacingAndGlyphs">PERM_CORE</text>
<ellipse cx="686.7" cy="320.4" rx="5.5" ry="4.5" fill="#0A10E6"/>
<ellipse cx="794.5" cy="320.4" rx="5.5" ry="4.5" fill="#0A10E6"/>
<text x="638.7" y="334.3" font-family="'Liberation Sans', sans-serif" font-size="12" fill="#1414A0" font-weight="normal" textLength="41" lengthAdjust="spacingAndGlyphs">0.001</text>
<text x="727" y="334.3" font-family="'Liberation Sans', sans-serif" font-size="12" fill="#1414A0" font-weight="normal" textLength="26.4" lengthAdjust="spacingAndGlyphs">MD</text>
<text x="805.3" y="334.3" font-family="'Liberation Sans', sans-serif" font-size="12" fill="#1414A0" font-weight="normal" textLength="37.2" lengthAdjust="spacingAndGlyphs">1000</text>
<text x="700" y="371.6" font-family="'Liberation Sans', sans-serif" font-size="24" fill="#C01818" font-weight="normal" textLength="80.5" lengthAdjust="spacingAndGlyphs">KSDR</text>
<rect x="636" y="376" width="208" height="5" fill="#D01010"/>
<text x="638.7" y="394" font-family="'Liberation Sans', sans-serif" font-size="12.5" fill="#b04848" font-weight="normal" textLength="41" lengthAdjust="spacingAndGlyphs">0.001</text>
<text x="727" y="394" font-family="'Liberation Sans', sans-serif" font-size="12.5" fill="#b04848" font-weight="normal" textLength="26.4" lengthAdjust="spacingAndGlyphs">MD</text>
<text x="805.3" y="394" font-family="'Liberation Sans', sans-serif" font-size="12.5" fill="#b04848" font-weight="normal" textLength="37.2" lengthAdjust="spacingAndGlyphs">1000</text>
<text x="896" y="307.2" font-family="'Liberation Sans', sans-serif" font-size="24.5" fill="#222" font-weight="normal" textLength="119.7" lengthAdjust="spacingAndGlyphs">T2_DIST</text>
<rect x="851" y="311" width="209" height="2.4" fill="#333"/>
<path d="M890.7,303 L912.7,320 M912.7,303 L890.7,320" stroke="#888" stroke-width="0.8"/>
<path d="M999,303 L1021,320 M1021,303 L999,320" stroke="#888" stroke-width="0.8"/>
<text x="853.6" y="325.8" font-family="'Liberation Sans', sans-serif" font-size="13.5" fill="#222" font-weight="normal">0</text>
<text x="945" y="325.8" font-family="'Liberation Sans', sans-serif" font-size="13.5" fill="#444" font-weight="normal" textLength="20" lengthAdjust="spacingAndGlyphs">T2</text>
<text x="1039" y="325.8" font-family="'Liberation Sans', sans-serif" font-size="13.5" fill="#222" font-weight="normal" textLength="18.5" lengthAdjust="spacingAndGlyphs">29</text>
<text x="1078" y="313" font-family="'Liberation Sans', sans-serif" font-size="24" fill="#1414A0" font-weight="normal" textLength="186.6" lengthAdjust="spacingAndGlyphs">PERM_CORE</text>
<ellipse cx="1117" cy="321" rx="5.5" ry="4.5" fill="#0A10E6"/>
<ellipse cx="1225.6" cy="321" rx="5.5" ry="4.5" fill="#0A10E6"/>
<text x="1069" y="335.3" font-family="'Liberation Sans', sans-serif" font-size="12.5" fill="#1414A0" font-weight="normal" textLength="203.6" lengthAdjust="spacingAndGlyphs">0.001 Permeability 1000</text>
<text x="1137" y="371" font-family="'Liberation Sans', sans-serif" font-size="24" fill="#4A1060" font-weight="normal" textLength="68.7" lengthAdjust="spacingAndGlyphs">KTIM</text>
<rect x="1067" y="376" width="210" height="5.5" fill="#4B0A6E"/>
<text x="1069" y="395" font-family="'Liberation Sans', sans-serif" font-size="13" fill="#5a4a60" font-weight="normal" textLength="206" lengthAdjust="spacingAndGlyphs">0.001 permmeability 1000</text>
<text x="1069" y="395" font-family="'Liberation Sans', sans-serif" font-size="13" fill="#5a4a60" font-weight="normal" textLength="34" lengthAdjust="spacingAndGlyphs" opacity="0.7">0.003</text>
<text x="1304.5" y="316.6" font-family="'Liberation Sans', sans-serif" font-size="25" fill="#9a9a9a" font-weight="normal" textLength="78" lengthAdjust="spacingAndGlyphs">TOPS</text>
<rect x="69" y="5" width="1344" height="6" fill="#000"/>
<rect x="69" y="2102" width="1344" height="6" fill="#000"/>
<rect x="69" y="404" width="1344" height="6" fill="#000"/>
<rect x="69" y="5" width="6" height="2103" fill="#000"/>
<rect x="1405" y="5" width="8" height="2103" fill="#000"/>
<rect x="285" y="5" width="6" height="2103" fill="#000"/>
<rect x="415" y="5" width="6" height="2103" fill="#000"/>
<rect x="629" y="5" width="7" height="2103" fill="#000"/>
<rect x="844" y="5" width="7" height="2103" fill="#000"/>
<rect x="1060" y="5" width="7" height="2103" fill="#000"/>
<rect x="1277" y="5" width="7" height="2103" fill="#000"/>
<rect x="1275" y="410" width="2" height="1692" fill="#8a8a8a"/>
</svg></body></html>
